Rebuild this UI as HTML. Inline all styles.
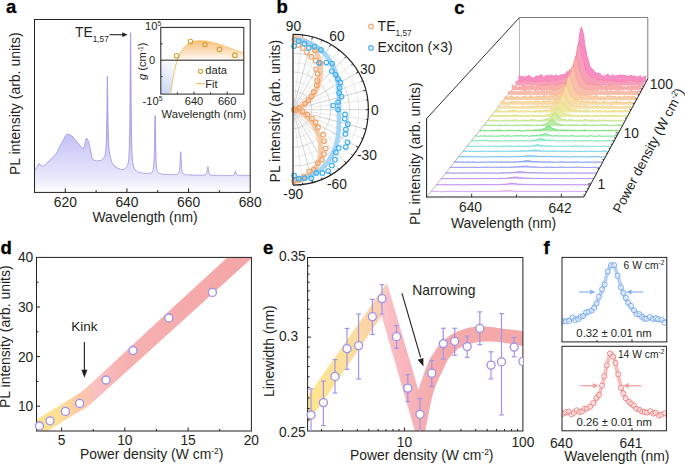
<!DOCTYPE html>
<html><head><meta charset="utf-8"><style>
html,body{margin:0;padding:0;background:#fff;}
svg{display:block;}
text{font-family:"Liberation Sans", sans-serif;}
</style></head><body>
<svg width="685" height="465" viewBox="0 0 685 465" font-family='"Liberation Sans", sans-serif'>
<rect width="685" height="465" fill="#fff"/>
<defs>
<linearGradient id="ga" x1="0" y1="128" x2="0" y2="193" gradientUnits="userSpaceOnUse"><stop offset="0" stop-color="#bebbf5"/><stop offset="0.75" stop-color="#e9e8fb"/><stop offset="1" stop-color="#ffffff"/></linearGradient>
<linearGradient id="gorange" x1="0" y1="39" x2="0" y2="60" gradientUnits="userSpaceOnUse"><stop offset="0" stop-color="#f8bd72"/><stop offset="0.55" stop-color="#fbdcb8"/><stop offset="1" stop-color="#fffaf4"/></linearGradient>
<linearGradient id="gblue" x1="160" y1="94" x2="178" y2="64" gradientUnits="userSpaceOnUse"><stop offset="0" stop-color="#c2d4f5"/><stop offset="1" stop-color="#ffffff"/></linearGradient>
<linearGradient id="gd" x1="36" y1="0" x2="251" y2="0" gradientUnits="userSpaceOnUse"><stop offset="0" stop-color="#fde48c"/><stop offset="0.11" stop-color="#fde096"/><stop offset="0.2" stop-color="#fcc9a6"/><stop offset="0.28" stop-color="#fbc0c0"/><stop offset="0.4" stop-color="#f7b1b1"/><stop offset="1" stop-color="#f4a5a5"/></linearGradient>
<linearGradient id="ge1" x1="307" y1="0" x2="388" y2="0" gradientUnits="userSpaceOnUse"><stop offset="0" stop-color="#fde68e"/><stop offset="0.45" stop-color="#fde09a"/><stop offset="0.78" stop-color="#fcd4a8"/><stop offset="1" stop-color="#fbc8b6"/></linearGradient>
<linearGradient id="ge2" x1="382" y1="0" x2="523" y2="0" gradientUnits="userSpaceOnUse"><stop offset="0" stop-color="#fbc4ca"/><stop offset="0.15" stop-color="#f8b6bc"/><stop offset="0.35" stop-color="#f5acad"/><stop offset="1" stop-color="#f4a7a7"/></linearGradient>
<clipPath id="ca"><rect x="34.5" y="19.5" width="215.7" height="172.9"/></clipPath>
<clipPath id="cd"><rect x="36.5" y="257.5" width="214.9" height="173.5"/></clipPath>
<clipPath id="ce"><rect x="307.6" y="257.5" width="215.3" height="173.5"/></clipPath>
<clipPath id="cf1"><rect x="562" y="257.5" width="104.8" height="84.5"/></clipPath>
<clipPath id="cf2"><rect x="562" y="346.3" width="104.5" height="84.5"/></clipPath>
</defs>
<text x="6" y="13" font-size="18.5" text-anchor="start" fill="#000" font-weight="bold" stroke="#000" stroke-width="0.3">a</text>
<g clip-path="url(#ca)">
<path d="M34.4,170.88 L34.65,170.39 L34.9,170.31 L35.15,169.58 L35.4,169.47 L35.65,168.99 L35.9,168.42 L36.15,168.3 L36.4,167.63 L36.65,167.49 L36.9,166.88 L37.15,166.49 L37.4,166.26 L37.65,166.08 L37.9,165.23 L38.15,164.87 L38.4,164.68 L38.65,164.45 L38.9,163.8 L39.15,163.67 L39.4,164.25 L39.65,163.93 L39.9,164.66 L40.15,164.55 L40.4,164.7 L40.65,164.93 L40.9,165.28 L41.15,165.74 L41.4,165.48 L41.65,165.83 L41.9,165.98 L42.15,165.93 L42.4,166.15 L42.65,165.97 L42.9,166.08 L43.15,166.09 L43.4,166.17 L43.65,165.82 L43.9,165.55 L44.15,165.52 L44.4,165.24 L44.65,164.95 L44.9,165.04 L45.15,164.79 L45.4,164.31 L45.65,164.31 L45.9,164.08 L46.15,164.06 L46.4,163.72 L46.65,163.21 L46.9,163.37 L47.15,162.61 L47.4,162.54 L47.65,162.49 L47.9,161.88 L48.15,161.83 L48.4,161.31 L48.65,161.44 L48.9,161.24 L49.15,160.88 L49.4,160.81 L49.65,160.22 L49.9,160.2 L50.15,159.92 L50.4,159.7 L50.65,159.42 L50.9,159.44 L51.15,159.29 L51.4,158.8 L51.65,158.71 L51.9,158.14 L52.15,158.31 L52.4,158.07 L52.65,158.07 L52.9,157.76 L53.15,157.18 L53.4,156.95 L53.65,156.82 L53.9,156.15 L54.15,156.12 L54.4,155.65 L54.65,155.33 L54.9,155 L55.15,155.13 L55.4,154.46 L55.65,154.24 L55.9,154.03 L56.15,153.9 L56.4,152.93 L56.65,152.65 L56.9,152.21 L57.15,151.91 L57.4,151.37 L57.65,150.9 L57.9,150.05 L58.15,149.63 L58.4,149.09 L58.65,148.91 L58.9,148.45 L59.15,147.47 L59.4,146.98 L59.65,146.52 L59.9,146.02 L60.15,145.67 L60.4,145.23 L60.65,144.53 L60.9,143.88 L61.15,143.63 L61.4,143.1 L61.65,142.72 L61.9,142.45 L62.15,141.82 L62.4,141.27 L62.65,140.88 L62.9,140.46 L63.15,139.64 L63.4,139.69 L63.65,139.17 L63.9,138.78 L64.15,138.28 L64.4,137.59 L64.65,137.23 L64.9,136.74 L65.15,136.75 L65.4,136.09 L65.65,135.79 L65.9,135.56 L66.15,135.22 L66.4,135.02 L66.65,134.54 L66.9,134.2 L67.15,134.17 L67.4,134.16 L67.65,134.34 L67.9,134.16 L68.15,134.69 L68.4,134.55 L68.65,134.29 L68.9,134.37 L69.15,134.45 L69.4,134.48 L69.65,134.43 L69.9,135 L70.15,135.23 L70.4,135.05 L70.65,135.2 L70.9,135.1 L71.15,135.25 L71.4,135.54 L71.65,135.63 L71.9,136.11 L72.15,135.94 L72.4,136.14 L72.65,136.99 L72.9,137.03 L73.15,137.09 L73.4,137.62 L73.65,137.6 L73.9,138.19 L74.15,138.76 L74.4,138.98 L74.65,139.17 L74.9,139.2 L75.15,139.55 L75.4,139.73 L75.65,140.38 L75.9,140.53 L76.15,140.97 L76.4,140.99 L76.65,141.21 L76.9,141.86 L77.15,142.25 L77.4,142.47 L77.65,142.73 L77.9,143.03 L78.15,143.3 L78.4,143.32 L78.65,143.83 L78.9,144.06 L79.15,144.2 L79.4,144.53 L79.65,145.02 L79.9,145.34 L80.15,145.93 L80.4,146.42 L80.65,146.45 L80.9,147.07 L81.15,147.36 L81.4,147.53 L81.65,147.38 L81.9,147.49 L82.15,147.7 L82.4,147.88 L82.65,148.08 L82.9,148.53 L83.15,148.52 L83.4,148.04 L83.65,147.39 L83.9,147.06 L84.15,146.72 L84.4,145.85 L84.65,145.27 L84.9,144.17 L85.15,142.84 L85.4,141.57 L85.65,140.5 L85.9,139.64 L86.15,139.32 L86.4,138.36 L86.65,138.18 L86.9,138.7 L87.15,138.77 L87.4,139.19 L87.65,139.93 L87.9,140.25 L88.15,140.44 L88.4,140.93 L88.65,141.46 L88.9,142.43 L89.15,143.33 L89.4,144.18 L89.65,145.84 L89.9,147.18 L90.15,148.23 L90.4,149.29 L90.65,150.71 L90.9,151.79 L91.15,153.05 L91.4,154.95 L91.65,156.09 L91.9,157.35 L92.15,158.31 L92.4,158.32 L92.65,158.89 L92.9,159.17 L93.15,159.11 L93.4,159.44 L93.65,159.77 L93.9,160.05 L94.15,160.41 L94.4,160.27 L94.65,160.42 L94.9,160.31 L95.15,160.83 L95.4,160.55 L95.65,160.67 L95.9,160.8 L96.15,161.02 L96.4,160.73 L96.65,161.04 L96.9,160.79 L97.15,160.82 L97.4,160.82 L97.65,160.52 L97.9,160.77 L98.15,160.62 L98.4,160.51 L98.65,160.99 L98.9,160.61 L99.15,160.75 L99.4,160.85 L99.65,160.69 L99.9,160.49 L100.15,160.54 L100.4,160.49 L100.65,160.56 L100.9,160.08 L101.15,160.27 L101.4,160 L101.65,159.92 L101.9,160.11 L102.15,159.77 L102.4,159.55 L102.65,159.4 L102.9,159.2 L103.15,158.62 L103.4,158.39 L103.65,157.95 L103.9,157.55 L104.15,157.21 L104.4,156.56 L104.65,156 L104.9,155.22 L105.15,154.54 L105.4,153.14 L105.65,151.52 L105.9,149.11 L106.15,145.03 L106.4,139.4 L106.65,129.96 L106.9,113.71 L107.15,90.33 L107.4,76.29 L107.65,90.25 L107.9,112.74 L108.15,128.78 L108.4,138.09 L108.65,144.01 L108.9,147.5 L109.15,150.14 L109.4,151.78 L109.65,153.74 L109.9,155.04 L110.15,155.85 L110.4,157.28 L110.65,158.3 L110.9,158.82 L111.15,160.17 L111.4,160.71 L111.65,161.59 L111.9,162.7 L112.15,163.14 L112.4,163.09 L112.65,163.58 L112.9,163.96 L113.15,164.17 L113.4,164.39 L113.65,164.76 L113.9,165.29 L114.15,165.16 L114.4,165.76 L114.65,165.97 L114.9,165.99 L115.15,166.4 L115.4,166.76 L115.65,166.88 L115.9,166.79 L116.15,167.52 L116.4,167.58 L116.65,167.87 L116.9,167.52 L117.15,167.79 L117.4,167.82 L117.65,168.44 L117.9,168.3 L118.15,168.33 L118.4,168.59 L118.65,168.96 L118.9,168.98 L119.15,168.72 L119.4,168.74 L119.65,169.27 L119.9,169.14 L120.15,169.29 L120.4,168.99 L120.65,169.04 L120.9,169.48 L121.15,169.36 L121.4,169.16 L121.65,169.69 L121.9,169.51 L122.15,169.62 L122.4,169.19 L122.65,169.65 L122.9,169.17 L123.15,169.63 L123.4,169.37 L123.65,169.28 L123.9,169.38 L124.15,169.51 L124.4,168.99 L124.65,168.77 L124.9,168.85 L125.15,168.51 L125.4,168.25 L125.65,168.08 L125.9,167.78 L126.15,167.61 L126.4,167.37 L126.65,167.02 L126.9,166.88 L127.15,166.16 L127.4,165.77 L127.65,164.92 L127.9,164.18 L128.15,162.88 L128.4,161.54 L128.65,159.36 L128.9,156.89 L129.15,152.53 L129.4,145.74 L129.65,135.23 L129.9,117.43 L130.15,86.84 L130.4,47.89 L130.65,32.65 L130.9,63.44 L131.15,101.28 L131.4,125.93 L131.65,140.73 L131.9,149.72 L132.15,155.51 L132.4,158.86 L132.65,161.75 L132.9,163.55 L133.15,164.91 L133.4,165.85 L133.65,166.67 L133.9,167.18 L134.15,167.8 L134.4,168.26 L134.65,169.09 L134.9,169.18 L135.15,169.45 L135.4,169.69 L135.65,170.41 L135.9,170.67 L136.15,170.77 L136.4,170.75 L136.65,170.91 L136.9,171.13 L137.15,171.4 L137.4,171.38 L137.65,171.71 L137.9,171.74 L138.15,172.28 L138.4,172.37 L138.65,172.2 L138.9,172.1 L139.15,172.61 L139.4,172.29 L139.65,172.39 L139.9,172.24 L140.15,172.54 L140.4,172.66 L140.65,172.74 L140.9,172.62 L141.15,172.86 L141.4,172.62 L141.65,172.83 L141.9,172.78 L142.15,173 L142.4,172.81 L142.65,172.82 L142.9,173.02 L143.15,172.99 L143.4,173.23 L143.65,173.21 L143.9,173.36 L144.15,173.33 L144.4,173.38 L144.65,173.49 L144.9,173.21 L145.15,173.19 L145.4,173.6 L145.65,173.11 L145.9,173.46 L146.15,173.43 L146.4,173.07 L146.65,173.56 L146.9,173.59 L147.15,173.44 L147.4,173.51 L147.65,173.55 L147.9,173.15 L148.15,173.37 L148.4,173.35 L148.65,173.54 L148.9,173.5 L149.15,173.5 L149.4,173.33 L149.65,173.48 L149.9,173.31 L150.15,173.27 L150.4,172.93 L150.65,172.74 L150.9,172.7 L151.15,172.73 L151.4,172.44 L151.65,172.7 L151.9,172.32 L152.15,172.09 L152.4,171.73 L152.65,171.3 L152.9,170.56 L153.15,169.4 L153.4,168.65 L153.65,166.81 L153.9,163.85 L154.15,159.32 L154.4,151.7 L154.65,138.53 L154.9,122.18 L155.15,115.5 L155.4,128.45 L155.65,144.55 L155.9,155.4 L156.15,161.34 L156.4,165.42 L156.65,167.93 L156.9,169.22 L157.15,170.24 L157.4,171.08 L157.65,171.79 L157.9,172.28 L158.15,172.54 L158.4,172.83 L158.65,172.71 L158.9,172.94 L159.15,173.16 L159.4,173.59 L159.65,173.44 L159.9,173.69 L160.15,173.44 L160.4,173.54 L160.65,173.73 L160.9,174.03 L161.15,174.09 L161.4,174.12 L161.65,173.93 L161.9,174.11 L162.15,174.11 L162.4,174.14 L162.65,173.96 L162.9,174.45 L163.15,174.06 L163.4,174.55 L163.65,174.55 L163.9,174.02 L164.15,174.3 L164.4,174.54 L164.65,174.65 L164.9,174.35 L165.15,174.26 L165.4,174.24 L165.65,174.7 L165.9,174.27 L166.15,174.5 L166.4,174.25 L166.65,174.5 L166.9,174.76 L167.15,174.28 L167.4,174.71 L167.65,174.53 L167.9,174.77 L168.15,174.67 L168.4,174.4 L168.65,174.8 L168.9,174.57 L169.15,174.3 L169.4,174.29 L169.65,174.59 L169.9,174.58 L170.15,174.49 L170.4,174.4 L170.65,174.53 L170.9,174.51 L171.15,174.83 L171.4,174.33 L171.65,174.78 L171.9,174.84 L172.15,174.4 L172.4,174.89 L172.65,174.76 L172.9,174.87 L173.15,174.5 L173.4,174.55 L173.65,174.56 L173.9,174.91 L174.15,174.66 L174.4,174.51 L174.65,174.54 L174.9,174.44 L175.15,174.29 L175.4,174.3 L175.65,174.72 L175.9,174.36 L176.15,174.71 L176.4,174.26 L176.65,174.22 L176.9,174.31 L177.15,174.04 L177.4,174.06 L177.65,174.29 L177.9,174.1 L178.15,173.86 L178.4,173.49 L178.65,173.31 L178.9,172.84 L179.15,171.9 L179.4,170.95 L179.65,168.9 L179.9,166.66 L180.15,162.2 L180.4,156.38 L180.65,151.81 L180.9,153.78 L181.15,159.72 L181.4,165.32 L181.65,168.08 L181.9,170.29 L182.15,171.48 L182.4,172.28 L182.65,173.12 L182.9,173.67 L183.15,173.55 L183.4,174.01 L183.65,173.97 L183.9,174.27 L184.15,174.28 L184.4,174.24 L184.65,174.31 L184.9,174.41 L185.15,174.88 L185.4,174.68 L185.65,174.56 L185.9,175 L186.15,175.09 L186.4,174.79 L186.65,174.62 L186.9,174.68 L187.15,174.64 L187.4,174.81 L187.65,174.67 L187.9,174.78 L188.15,174.8 L188.4,175 L188.65,175.2 L188.9,175.13 L189.15,174.94 L189.4,174.95 L189.65,175.03 L189.9,174.95 L190.15,174.93 L190.4,174.78 L190.65,174.91 L190.9,175.33 L191.15,174.84 L191.4,175.07 L191.65,175.15 L191.9,175.3 L192.15,174.92 L192.4,174.95 L192.65,174.95 L192.9,175.04 L193.15,175.07 L193.4,175.38 L193.65,175.33 L193.9,175.35 L194.15,174.84 L194.4,174.85 L194.65,175.26 L194.9,175.38 L195.15,175.13 L195.4,175.2 L195.65,174.85 L195.9,175.09 L196.15,175.41 L196.4,175.36 L196.65,175.38 L196.9,175.45 L197.15,175.02 L197.4,174.94 L197.65,174.97 L197.9,175.19 L198.15,175.29 L198.4,175.45 L198.65,175.32 L198.9,175.27 L199.15,175.34 L199.4,175.16 L199.65,175.22 L199.9,174.91 L200.15,175.36 L200.4,175.02 L200.65,175.44 L200.9,175.27 L201.15,175.06 L201.4,174.95 L201.65,175.02 L201.9,175.24 L202.15,175.27 L202.4,174.91 L202.65,174.88 L202.9,175.14 L203.15,175.16 L203.4,175.02 L203.65,174.9 L203.9,175.11 L204.15,174.72 L204.4,174.86 L204.65,174.9 L204.9,175.14 L205.15,174.88 L205.4,174.92 L205.65,174.54 L205.9,174.22 L206.15,173.98 L206.4,174.05 L206.65,173.38 L206.9,172.36 L207.15,171 L207.4,169.58 L207.65,167.73 L207.9,166.6 L208.15,167.49 L208.4,169.69 L208.65,171.56 L208.9,172.33 L209.15,173.01 L209.4,173.71 L209.65,174.12 L209.9,174.53 L210.15,174.42 L210.4,174.92 L210.65,174.99 L210.9,174.94 L211.15,174.82 L211.4,175.33 L211.65,174.98 L211.9,175.33 L212.15,175 L212.4,175.02 L212.65,175.37 L212.9,175.11 L213.15,175.52 L213.4,175.27 L213.65,175.1 L213.9,175.13 L214.15,175.26 L214.4,175.42 L214.65,175.6 L214.9,175.13 L215.15,175.28 L215.4,175.18 L215.65,175.65 L215.9,175.15 L216.15,175.11 L216.4,175.12 L216.65,175.32 L216.9,175.63 L217.15,175.63 L217.4,175.54 L217.65,175.71 L217.9,175.67 L218.15,175.31 L218.4,175.23 L218.65,175.69 L218.9,175.58 L219.15,175.15 L219.4,175.53 L219.65,175.37 L219.9,175.37 L220.15,175.35 L220.4,175.25 L220.65,175.15 L220.9,175.32 L221.15,175.36 L221.4,175.73 L221.65,175.23 L221.9,175.74 L222.15,175.28 L222.4,175.37 L222.65,175.65 L222.9,175.65 L223.15,175.42 L223.4,175.19 L223.65,175.45 L223.9,175.39 L224.15,175.72 L224.4,175.28 L224.65,175.39 L224.9,175.71 L225.15,175.19 L225.4,175.41 L225.65,175.66 L225.9,175.63 L226.15,175.19 L226.4,175.19 L226.65,175.21 L226.9,175.72 L227.15,175.32 L227.4,175.61 L227.65,175.7 L227.9,175.37 L228.15,175.33 L228.4,175.74 L228.65,175.53 L228.9,175.31 L229.15,175.58 L229.4,175.34 L229.65,175.31 L229.9,175.14 L230.15,175.59 L230.4,175.68 L230.65,175.5 L230.9,175.68 L231.15,175.12 L231.4,175.23 L231.65,175.36 L231.9,175.63 L232.15,175.6 L232.4,175.24 L232.65,175.12 L232.9,175.18 L233.15,175.15 L233.4,175.33 L233.65,174.77 L233.9,174.99 L234.15,174.72 L234.4,174.43 L234.65,173.88 L234.9,173 L235.15,171.83 L235.4,171.02 L235.65,171.15 L235.9,172.31 L236.15,172.87 L236.4,173.66 L236.65,174.47 L236.9,174.49 L237.15,174.59 L237.4,174.72 L237.65,175.14 L237.9,175.09 L238.15,175.54 L238.4,175.53 L238.65,175.63 L238.9,175.22 L239.15,175.14 L239.4,175.17 L239.65,175.42 L239.9,175.57 L240.15,175.42 L240.4,175.3 L240.65,175.42 L240.9,175.55 L241.15,175.59 L241.4,175.64 L241.65,175.71 L241.9,175.6 L242.15,175.28 L242.4,175.72 L242.65,175.4 L242.9,175.56 L243.15,175.45 L243.4,175.67 L243.65,175.35 L243.9,175.38 L244.15,175.38 L244.4,175.33 L244.65,175.77 L244.9,175.59 L245.15,175.44 L245.4,175.49 L245.65,175.85 L245.9,175.56 L246.15,175.39 L246.4,175.74 L246.65,175.65 L246.9,175.85 L247.15,175.32 L247.4,175.55 L247.65,175.76 L247.9,175.77 L248.15,175.82 L248.4,175.29 L248.65,175.45 L248.9,175.34 L249.15,175.39 L249.4,175.86 L249.65,175.63 L249.9,175.84 L250.15,175.5 L250.4,175.8 L250.6,193 L34.4,193 Z" fill="url(#ga)" stroke="none" stroke-width="1"/>
<path d="M34.4,170.88 L34.65,170.39 L34.9,170.31 L35.15,169.58 L35.4,169.47 L35.65,168.99 L35.9,168.42 L36.15,168.3 L36.4,167.63 L36.65,167.49 L36.9,166.88 L37.15,166.49 L37.4,166.26 L37.65,166.08 L37.9,165.23 L38.15,164.87 L38.4,164.68 L38.65,164.45 L38.9,163.8 L39.15,163.67 L39.4,164.25 L39.65,163.93 L39.9,164.66 L40.15,164.55 L40.4,164.7 L40.65,164.93 L40.9,165.28 L41.15,165.74 L41.4,165.48 L41.65,165.83 L41.9,165.98 L42.15,165.93 L42.4,166.15 L42.65,165.97 L42.9,166.08 L43.15,166.09 L43.4,166.17 L43.65,165.82 L43.9,165.55 L44.15,165.52 L44.4,165.24 L44.65,164.95 L44.9,165.04 L45.15,164.79 L45.4,164.31 L45.65,164.31 L45.9,164.08 L46.15,164.06 L46.4,163.72 L46.65,163.21 L46.9,163.37 L47.15,162.61 L47.4,162.54 L47.65,162.49 L47.9,161.88 L48.15,161.83 L48.4,161.31 L48.65,161.44 L48.9,161.24 L49.15,160.88 L49.4,160.81 L49.65,160.22 L49.9,160.2 L50.15,159.92 L50.4,159.7 L50.65,159.42 L50.9,159.44 L51.15,159.29 L51.4,158.8 L51.65,158.71 L51.9,158.14 L52.15,158.31 L52.4,158.07 L52.65,158.07 L52.9,157.76 L53.15,157.18 L53.4,156.95 L53.65,156.82 L53.9,156.15 L54.15,156.12 L54.4,155.65 L54.65,155.33 L54.9,155 L55.15,155.13 L55.4,154.46 L55.65,154.24 L55.9,154.03 L56.15,153.9 L56.4,152.93 L56.65,152.65 L56.9,152.21 L57.15,151.91 L57.4,151.37 L57.65,150.9 L57.9,150.05 L58.15,149.63 L58.4,149.09 L58.65,148.91 L58.9,148.45 L59.15,147.47 L59.4,146.98 L59.65,146.52 L59.9,146.02 L60.15,145.67 L60.4,145.23 L60.65,144.53 L60.9,143.88 L61.15,143.63 L61.4,143.1 L61.65,142.72 L61.9,142.45 L62.15,141.82 L62.4,141.27 L62.65,140.88 L62.9,140.46 L63.15,139.64 L63.4,139.69 L63.65,139.17 L63.9,138.78 L64.15,138.28 L64.4,137.59 L64.65,137.23 L64.9,136.74 L65.15,136.75 L65.4,136.09 L65.65,135.79 L65.9,135.56 L66.15,135.22 L66.4,135.02 L66.65,134.54 L66.9,134.2 L67.15,134.17 L67.4,134.16 L67.65,134.34 L67.9,134.16 L68.15,134.69 L68.4,134.55 L68.65,134.29 L68.9,134.37 L69.15,134.45 L69.4,134.48 L69.65,134.43 L69.9,135 L70.15,135.23 L70.4,135.05 L70.65,135.2 L70.9,135.1 L71.15,135.25 L71.4,135.54 L71.65,135.63 L71.9,136.11 L72.15,135.94 L72.4,136.14 L72.65,136.99 L72.9,137.03 L73.15,137.09 L73.4,137.62 L73.65,137.6 L73.9,138.19 L74.15,138.76 L74.4,138.98 L74.65,139.17 L74.9,139.2 L75.15,139.55 L75.4,139.73 L75.65,140.38 L75.9,140.53 L76.15,140.97 L76.4,140.99 L76.65,141.21 L76.9,141.86 L77.15,142.25 L77.4,142.47 L77.65,142.73 L77.9,143.03 L78.15,143.3 L78.4,143.32 L78.65,143.83 L78.9,144.06 L79.15,144.2 L79.4,144.53 L79.65,145.02 L79.9,145.34 L80.15,145.93 L80.4,146.42 L80.65,146.45 L80.9,147.07 L81.15,147.36 L81.4,147.53 L81.65,147.38 L81.9,147.49 L82.15,147.7 L82.4,147.88 L82.65,148.08 L82.9,148.53 L83.15,148.52 L83.4,148.04 L83.65,147.39 L83.9,147.06 L84.15,146.72 L84.4,145.85 L84.65,145.27 L84.9,144.17 L85.15,142.84 L85.4,141.57 L85.65,140.5 L85.9,139.64 L86.15,139.32 L86.4,138.36 L86.65,138.18 L86.9,138.7 L87.15,138.77 L87.4,139.19 L87.65,139.93 L87.9,140.25 L88.15,140.44 L88.4,140.93 L88.65,141.46 L88.9,142.43 L89.15,143.33 L89.4,144.18 L89.65,145.84 L89.9,147.18 L90.15,148.23 L90.4,149.29 L90.65,150.71 L90.9,151.79 L91.15,153.05 L91.4,154.95 L91.65,156.09 L91.9,157.35 L92.15,158.31 L92.4,158.32 L92.65,158.89 L92.9,159.17 L93.15,159.11 L93.4,159.44 L93.65,159.77 L93.9,160.05 L94.15,160.41 L94.4,160.27 L94.65,160.42 L94.9,160.31 L95.15,160.83 L95.4,160.55 L95.65,160.67 L95.9,160.8 L96.15,161.02 L96.4,160.73 L96.65,161.04 L96.9,160.79 L97.15,160.82 L97.4,160.82 L97.65,160.52 L97.9,160.77 L98.15,160.62 L98.4,160.51 L98.65,160.99 L98.9,160.61 L99.15,160.75 L99.4,160.85 L99.65,160.69 L99.9,160.49 L100.15,160.54 L100.4,160.49 L100.65,160.56 L100.9,160.08 L101.15,160.27 L101.4,160 L101.65,159.92 L101.9,160.11 L102.15,159.77 L102.4,159.55 L102.65,159.4 L102.9,159.2 L103.15,158.62 L103.4,158.39 L103.65,157.95 L103.9,157.55 L104.15,157.21 L104.4,156.56 L104.65,156 L104.9,155.22 L105.15,154.54 L105.4,153.14 L105.65,151.52 L105.9,149.11 L106.15,145.03 L106.4,139.4 L106.65,129.96 L106.9,113.71 L107.15,90.33 L107.4,76.29 L107.65,90.25 L107.9,112.74 L108.15,128.78 L108.4,138.09 L108.65,144.01 L108.9,147.5 L109.15,150.14 L109.4,151.78 L109.65,153.74 L109.9,155.04 L110.15,155.85 L110.4,157.28 L110.65,158.3 L110.9,158.82 L111.15,160.17 L111.4,160.71 L111.65,161.59 L111.9,162.7 L112.15,163.14 L112.4,163.09 L112.65,163.58 L112.9,163.96 L113.15,164.17 L113.4,164.39 L113.65,164.76 L113.9,165.29 L114.15,165.16 L114.4,165.76 L114.65,165.97 L114.9,165.99 L115.15,166.4 L115.4,166.76 L115.65,166.88 L115.9,166.79 L116.15,167.52 L116.4,167.58 L116.65,167.87 L116.9,167.52 L117.15,167.79 L117.4,167.82 L117.65,168.44 L117.9,168.3 L118.15,168.33 L118.4,168.59 L118.65,168.96 L118.9,168.98 L119.15,168.72 L119.4,168.74 L119.65,169.27 L119.9,169.14 L120.15,169.29 L120.4,168.99 L120.65,169.04 L120.9,169.48 L121.15,169.36 L121.4,169.16 L121.65,169.69 L121.9,169.51 L122.15,169.62 L122.4,169.19 L122.65,169.65 L122.9,169.17 L123.15,169.63 L123.4,169.37 L123.65,169.28 L123.9,169.38 L124.15,169.51 L124.4,168.99 L124.65,168.77 L124.9,168.85 L125.15,168.51 L125.4,168.25 L125.65,168.08 L125.9,167.78 L126.15,167.61 L126.4,167.37 L126.65,167.02 L126.9,166.88 L127.15,166.16 L127.4,165.77 L127.65,164.92 L127.9,164.18 L128.15,162.88 L128.4,161.54 L128.65,159.36 L128.9,156.89 L129.15,152.53 L129.4,145.74 L129.65,135.23 L129.9,117.43 L130.15,86.84 L130.4,47.89 L130.65,32.65 L130.9,63.44 L131.15,101.28 L131.4,125.93 L131.65,140.73 L131.9,149.72 L132.15,155.51 L132.4,158.86 L132.65,161.75 L132.9,163.55 L133.15,164.91 L133.4,165.85 L133.65,166.67 L133.9,167.18 L134.15,167.8 L134.4,168.26 L134.65,169.09 L134.9,169.18 L135.15,169.45 L135.4,169.69 L135.65,170.41 L135.9,170.67 L136.15,170.77 L136.4,170.75 L136.65,170.91 L136.9,171.13 L137.15,171.4 L137.4,171.38 L137.65,171.71 L137.9,171.74 L138.15,172.28 L138.4,172.37 L138.65,172.2 L138.9,172.1 L139.15,172.61 L139.4,172.29 L139.65,172.39 L139.9,172.24 L140.15,172.54 L140.4,172.66 L140.65,172.74 L140.9,172.62 L141.15,172.86 L141.4,172.62 L141.65,172.83 L141.9,172.78 L142.15,173 L142.4,172.81 L142.65,172.82 L142.9,173.02 L143.15,172.99 L143.4,173.23 L143.65,173.21 L143.9,173.36 L144.15,173.33 L144.4,173.38 L144.65,173.49 L144.9,173.21 L145.15,173.19 L145.4,173.6 L145.65,173.11 L145.9,173.46 L146.15,173.43 L146.4,173.07 L146.65,173.56 L146.9,173.59 L147.15,173.44 L147.4,173.51 L147.65,173.55 L147.9,173.15 L148.15,173.37 L148.4,173.35 L148.65,173.54 L148.9,173.5 L149.15,173.5 L149.4,173.33 L149.65,173.48 L149.9,173.31 L150.15,173.27 L150.4,172.93 L150.65,172.74 L150.9,172.7 L151.15,172.73 L151.4,172.44 L151.65,172.7 L151.9,172.32 L152.15,172.09 L152.4,171.73 L152.65,171.3 L152.9,170.56 L153.15,169.4 L153.4,168.65 L153.65,166.81 L153.9,163.85 L154.15,159.32 L154.4,151.7 L154.65,138.53 L154.9,122.18 L155.15,115.5 L155.4,128.45 L155.65,144.55 L155.9,155.4 L156.15,161.34 L156.4,165.42 L156.65,167.93 L156.9,169.22 L157.15,170.24 L157.4,171.08 L157.65,171.79 L157.9,172.28 L158.15,172.54 L158.4,172.83 L158.65,172.71 L158.9,172.94 L159.15,173.16 L159.4,173.59 L159.65,173.44 L159.9,173.69 L160.15,173.44 L160.4,173.54 L160.65,173.73 L160.9,174.03 L161.15,174.09 L161.4,174.12 L161.65,173.93 L161.9,174.11 L162.15,174.11 L162.4,174.14 L162.65,173.96 L162.9,174.45 L163.15,174.06 L163.4,174.55 L163.65,174.55 L163.9,174.02 L164.15,174.3 L164.4,174.54 L164.65,174.65 L164.9,174.35 L165.15,174.26 L165.4,174.24 L165.65,174.7 L165.9,174.27 L166.15,174.5 L166.4,174.25 L166.65,174.5 L166.9,174.76 L167.15,174.28 L167.4,174.71 L167.65,174.53 L167.9,174.77 L168.15,174.67 L168.4,174.4 L168.65,174.8 L168.9,174.57 L169.15,174.3 L169.4,174.29 L169.65,174.59 L169.9,174.58 L170.15,174.49 L170.4,174.4 L170.65,174.53 L170.9,174.51 L171.15,174.83 L171.4,174.33 L171.65,174.78 L171.9,174.84 L172.15,174.4 L172.4,174.89 L172.65,174.76 L172.9,174.87 L173.15,174.5 L173.4,174.55 L173.65,174.56 L173.9,174.91 L174.15,174.66 L174.4,174.51 L174.65,174.54 L174.9,174.44 L175.15,174.29 L175.4,174.3 L175.65,174.72 L175.9,174.36 L176.15,174.71 L176.4,174.26 L176.65,174.22 L176.9,174.31 L177.15,174.04 L177.4,174.06 L177.65,174.29 L177.9,174.1 L178.15,173.86 L178.4,173.49 L178.65,173.31 L178.9,172.84 L179.15,171.9 L179.4,170.95 L179.65,168.9 L179.9,166.66 L180.15,162.2 L180.4,156.38 L180.65,151.81 L180.9,153.78 L181.15,159.72 L181.4,165.32 L181.65,168.08 L181.9,170.29 L182.15,171.48 L182.4,172.28 L182.65,173.12 L182.9,173.67 L183.15,173.55 L183.4,174.01 L183.65,173.97 L183.9,174.27 L184.15,174.28 L184.4,174.24 L184.65,174.31 L184.9,174.41 L185.15,174.88 L185.4,174.68 L185.65,174.56 L185.9,175 L186.15,175.09 L186.4,174.79 L186.65,174.62 L186.9,174.68 L187.15,174.64 L187.4,174.81 L187.65,174.67 L187.9,174.78 L188.15,174.8 L188.4,175 L188.65,175.2 L188.9,175.13 L189.15,174.94 L189.4,174.95 L189.65,175.03 L189.9,174.95 L190.15,174.93 L190.4,174.78 L190.65,174.91 L190.9,175.33 L191.15,174.84 L191.4,175.07 L191.65,175.15 L191.9,175.3 L192.15,174.92 L192.4,174.95 L192.65,174.95 L192.9,175.04 L193.15,175.07 L193.4,175.38 L193.65,175.33 L193.9,175.35 L194.15,174.84 L194.4,174.85 L194.65,175.26 L194.9,175.38 L195.15,175.13 L195.4,175.2 L195.65,174.85 L195.9,175.09 L196.15,175.41 L196.4,175.36 L196.65,175.38 L196.9,175.45 L197.15,175.02 L197.4,174.94 L197.65,174.97 L197.9,175.19 L198.15,175.29 L198.4,175.45 L198.65,175.32 L198.9,175.27 L199.15,175.34 L199.4,175.16 L199.65,175.22 L199.9,174.91 L200.15,175.36 L200.4,175.02 L200.65,175.44 L200.9,175.27 L201.15,175.06 L201.4,174.95 L201.65,175.02 L201.9,175.24 L202.15,175.27 L202.4,174.91 L202.65,174.88 L202.9,175.14 L203.15,175.16 L203.4,175.02 L203.65,174.9 L203.9,175.11 L204.15,174.72 L204.4,174.86 L204.65,174.9 L204.9,175.14 L205.15,174.88 L205.4,174.92 L205.65,174.54 L205.9,174.22 L206.15,173.98 L206.4,174.05 L206.65,173.38 L206.9,172.36 L207.15,171 L207.4,169.58 L207.65,167.73 L207.9,166.6 L208.15,167.49 L208.4,169.69 L208.65,171.56 L208.9,172.33 L209.15,173.01 L209.4,173.71 L209.65,174.12 L209.9,174.53 L210.15,174.42 L210.4,174.92 L210.65,174.99 L210.9,174.94 L211.15,174.82 L211.4,175.33 L211.65,174.98 L211.9,175.33 L212.15,175 L212.4,175.02 L212.65,175.37 L212.9,175.11 L213.15,175.52 L213.4,175.27 L213.65,175.1 L213.9,175.13 L214.15,175.26 L214.4,175.42 L214.65,175.6 L214.9,175.13 L215.15,175.28 L215.4,175.18 L215.65,175.65 L215.9,175.15 L216.15,175.11 L216.4,175.12 L216.65,175.32 L216.9,175.63 L217.15,175.63 L217.4,175.54 L217.65,175.71 L217.9,175.67 L218.15,175.31 L218.4,175.23 L218.65,175.69 L218.9,175.58 L219.15,175.15 L219.4,175.53 L219.65,175.37 L219.9,175.37 L220.15,175.35 L220.4,175.25 L220.65,175.15 L220.9,175.32 L221.15,175.36 L221.4,175.73 L221.65,175.23 L221.9,175.74 L222.15,175.28 L222.4,175.37 L222.65,175.65 L222.9,175.65 L223.15,175.42 L223.4,175.19 L223.65,175.45 L223.9,175.39 L224.15,175.72 L224.4,175.28 L224.65,175.39 L224.9,175.71 L225.15,175.19 L225.4,175.41 L225.65,175.66 L225.9,175.63 L226.15,175.19 L226.4,175.19 L226.65,175.21 L226.9,175.72 L227.15,175.32 L227.4,175.61 L227.65,175.7 L227.9,175.37 L228.15,175.33 L228.4,175.74 L228.65,175.53 L228.9,175.31 L229.15,175.58 L229.4,175.34 L229.65,175.31 L229.9,175.14 L230.15,175.59 L230.4,175.68 L230.65,175.5 L230.9,175.68 L231.15,175.12 L231.4,175.23 L231.65,175.36 L231.9,175.63 L232.15,175.6 L232.4,175.24 L232.65,175.12 L232.9,175.18 L233.15,175.15 L233.4,175.33 L233.65,174.77 L233.9,174.99 L234.15,174.72 L234.4,174.43 L234.65,173.88 L234.9,173 L235.15,171.83 L235.4,171.02 L235.65,171.15 L235.9,172.31 L236.15,172.87 L236.4,173.66 L236.65,174.47 L236.9,174.49 L237.15,174.59 L237.4,174.72 L237.65,175.14 L237.9,175.09 L238.15,175.54 L238.4,175.53 L238.65,175.63 L238.9,175.22 L239.15,175.14 L239.4,175.17 L239.65,175.42 L239.9,175.57 L240.15,175.42 L240.4,175.3 L240.65,175.42 L240.9,175.55 L241.15,175.59 L241.4,175.64 L241.65,175.71 L241.9,175.6 L242.15,175.28 L242.4,175.72 L242.65,175.4 L242.9,175.56 L243.15,175.45 L243.4,175.67 L243.65,175.35 L243.9,175.38 L244.15,175.38 L244.4,175.33 L244.65,175.77 L244.9,175.59 L245.15,175.44 L245.4,175.49 L245.65,175.85 L245.9,175.56 L246.15,175.39 L246.4,175.74 L246.65,175.65 L246.9,175.85 L247.15,175.32 L247.4,175.55 L247.65,175.76 L247.9,175.77 L248.15,175.82 L248.4,175.29 L248.65,175.45 L248.9,175.34 L249.15,175.39 L249.4,175.86 L249.65,175.63 L249.9,175.84 L250.15,175.5 L250.4,175.8" fill="none" stroke="#a49ae4" stroke-width="0.9" stroke-linejoin="round"/>
</g>
<rect x="34.5" y="19.5" width="215.7" height="172.9" fill="none" stroke="#231f20" stroke-width="1"/>
<line x1="65.31" y1="192.4" x2="65.31" y2="188.4" stroke="#231f20" stroke-width="1"/>
<line x1="96.13" y1="192.4" x2="96.13" y2="190.2" stroke="#231f20" stroke-width="1"/>
<line x1="126.94" y1="192.4" x2="126.94" y2="188.4" stroke="#231f20" stroke-width="1"/>
<line x1="157.76" y1="192.4" x2="157.76" y2="190.2" stroke="#231f20" stroke-width="1"/>
<line x1="188.57" y1="192.4" x2="188.57" y2="188.4" stroke="#231f20" stroke-width="1"/>
<line x1="219.39" y1="192.4" x2="219.39" y2="190.2" stroke="#231f20" stroke-width="1"/>
<text x="65.31" y="206.8" font-size="13.8" text-anchor="middle" fill="#231f20">620</text>
<text x="126.94" y="206.8" font-size="13.8" text-anchor="middle" fill="#231f20">640</text>
<text x="188.57" y="206.8" font-size="13.8" text-anchor="middle" fill="#231f20">660</text>
<text x="250.2" y="206.8" font-size="13.8" text-anchor="middle" fill="#231f20">680</text>
<text x="145" y="222.1" font-size="13.9" text-anchor="middle" fill="#231f20">Wavelength (nm)</text>
<text x="0" y="0" font-size="14" text-anchor="middle" fill="#231f20" transform="translate(20.0,103.7) rotate(-90)">PL intensity (arb. units)</text>
<text x="75" y="37" font-size="13.8" text-anchor="start" fill="#231f20">TE<tspan font-size="8.3" dy="5.0">1,57</tspan></text>
<line x1="109.5" y1="34.7" x2="123.5" y2="34.7" stroke="#231f20" stroke-width="1.1"/>
<path d="M127.6,34.7 L122.3,32.3 L122.3,37.1 Z" fill="#231f20" stroke="none" stroke-width="1"/>
<rect x="160.8" y="27.4" width="83" height="66.7" fill="#fff"/>
<path d="M177.4,60.12 L177.81,58.95 L178.23,57.84 L178.65,56.8 L179.06,55.82 L179.48,54.89 L179.89,54.02 L180.31,53.19 L180.72,52.41 L181.14,51.68 L181.55,50.99 L181.97,50.34 L182.38,49.72 L182.8,49.14 L183.21,48.59 L183.62,48.07 L184.04,47.58 L184.46,47.12 L184.87,46.68 L185.29,46.27 L185.7,45.88 L186.12,45.52 L186.53,45.17 L186.95,44.85 L187.36,44.54 L187.78,44.25 L188.19,43.97 L188.61,43.72 L189.02,43.47 L189.44,43.25 L189.85,43.03 L190.27,42.83 L190.68,42.64 L191.1,42.47 L191.51,42.3 L191.93,42.15 L192.34,42 L192.75,41.87 L193.17,41.74 L193.59,41.63 L194,41.52 L194.42,41.42 L194.83,41.33 L195.25,41.25 L195.66,41.17 L196.08,41.1 L196.49,41.04 L196.91,40.99 L197.32,40.94 L197.74,40.9 L198.15,40.86 L198.56,40.83 L198.98,40.81 L199.4,40.79 L199.81,40.78 L200.23,40.77 L200.64,40.77 L201.06,40.77 L201.47,40.78 L201.89,40.79 L202.3,40.81 L202.72,40.83 L203.13,40.86 L203.55,40.89 L203.96,40.92 L204.38,40.96 L204.79,41 L205.21,41.05 L205.62,41.1 L206.04,41.15 L206.45,41.21 L206.87,41.27 L207.28,41.34 L207.7,41.41 L208.11,41.48 L208.53,41.55 L208.94,41.63 L209.36,41.71 L209.77,41.79 L210.19,41.88 L210.6,41.97 L211.02,42.06 L211.43,42.16 L211.85,42.25 L212.26,42.35 L212.68,42.46 L213.09,42.56 L213.5,42.67 L213.92,42.78 L214.34,42.89 L214.75,43.01 L215.17,43.12 L215.58,43.24 L216,43.36 L216.41,43.49 L216.83,43.61 L217.24,43.74 L217.66,43.86 L218.07,43.99 L218.49,44.13 L218.9,44.26 L219.31,44.39 L219.73,44.53 L220.15,44.67 L220.56,44.81 L220.98,44.95 L221.39,45.09 L221.81,45.23 L222.22,45.37 L222.64,45.52 L223.05,45.66 L223.47,45.81 L223.88,45.95 L224.3,46.1 L224.71,46.25 L225.12,46.4 L225.54,46.55 L225.96,46.7 L226.37,46.85 L226.79,47 L227.2,47.15 L227.62,47.31 L228.03,47.46 L228.44,47.61 L228.86,47.76 L229.28,47.92 L229.69,48.07 L230.11,48.22 L230.52,48.38 L230.94,48.53 L231.35,48.68 L231.77,48.83 L232.18,48.99 L232.6,49.14 L233.01,49.29 L233.43,49.44 L233.84,49.59 L234.25,49.74 L234.67,49.89 L235.09,50.04 L235.5,50.19 L235.92,50.34 L236.33,50.49 L236.75,50.63 L237.16,50.78 L237.58,50.93 L237.99,51.07 L238.41,51.21 L238.82,51.36 L239.24,51.5 L239.65,51.64 L240.06,51.78 L240.48,51.92 L240.9,52.06 L241.31,52.2 L241.73,52.33 L242.14,52.47 L242.56,52.6 L242.97,52.73 L243.38,52.87 L243.8,53 L243.8,60.2 L177.4,60.2 Z" fill="url(#gorange)" stroke="none" stroke-width="1"/>
<path d="M160.8,60.2 L176.99,61.36 L176.57,62.69 L176.16,64.09 L175.74,65.58 L175.33,67.16 L174.91,68.84 L174.5,70.63 L174.08,72.52 L173.67,74.54 L173.25,76.69 L172.84,78.96 L172.42,81.39 L172.01,83.96 L171.59,86.7 L171.18,89.62 L170.76,92.72 L160.8,94.1 Z" fill="url(#gblue)" stroke="none" stroke-width="1"/>
<g clip-path="none">
<path d="M170.76,92.72 L171.18,89.62 L171.59,86.7 L172.01,83.96 L172.42,81.39 L172.84,78.96 L173.25,76.69 L173.67,74.54 L174.08,72.52 L174.5,70.63 L174.91,68.84 L175.33,67.16 L175.74,65.58 L176.16,64.09 L176.57,62.69 L176.99,61.36 L177.4,60.12 L177.81,58.95 L178.23,57.84 L178.65,56.8 L179.06,55.82 L179.48,54.89 L179.89,54.02 L180.31,53.19 L180.72,52.41 L181.14,51.68 L181.55,50.99 L181.97,50.34 L182.38,49.72 L182.8,49.14 L183.21,48.59 L183.62,48.07 L184.04,47.58 L184.46,47.12 L184.87,46.68 L185.29,46.27 L185.7,45.88 L186.12,45.52 L186.53,45.17 L186.95,44.85 L187.36,44.54 L187.78,44.25 L188.19,43.97 L188.61,43.72 L189.02,43.47 L189.44,43.25 L189.85,43.03 L190.27,42.83 L190.68,42.64 L191.1,42.47 L191.51,42.3 L191.93,42.15 L192.34,42 L192.75,41.87 L193.17,41.74 L193.59,41.63 L194,41.52 L194.42,41.42 L194.83,41.33 L195.25,41.25 L195.66,41.17 L196.08,41.1 L196.49,41.04 L196.91,40.99 L197.32,40.94 L197.74,40.9 L198.15,40.86 L198.56,40.83 L198.98,40.81 L199.4,40.79 L199.81,40.78 L200.23,40.77 L200.64,40.77 L201.06,40.77 L201.47,40.78 L201.89,40.79 L202.3,40.81 L202.72,40.83 L203.13,40.86 L203.55,40.89 L203.96,40.92 L204.38,40.96 L204.79,41 L205.21,41.05 L205.62,41.1 L206.04,41.15 L206.45,41.21 L206.87,41.27 L207.28,41.34 L207.7,41.41 L208.11,41.48 L208.53,41.55 L208.94,41.63 L209.36,41.71 L209.77,41.79 L210.19,41.88 L210.6,41.97 L211.02,42.06 L211.43,42.16 L211.85,42.25 L212.26,42.35 L212.68,42.46 L213.09,42.56 L213.5,42.67 L213.92,42.78 L214.34,42.89 L214.75,43.01 L215.17,43.12 L215.58,43.24 L216,43.36 L216.41,43.49 L216.83,43.61 L217.24,43.74 L217.66,43.86 L218.07,43.99 L218.49,44.13 L218.9,44.26 L219.31,44.39 L219.73,44.53 L220.15,44.67 L220.56,44.81 L220.98,44.95 L221.39,45.09 L221.81,45.23 L222.22,45.37 L222.64,45.52 L223.05,45.66 L223.47,45.81 L223.88,45.95 L224.3,46.1 L224.71,46.25 L225.12,46.4 L225.54,46.55 L225.96,46.7 L226.37,46.85 L226.79,47 L227.2,47.15 L227.62,47.31 L228.03,47.46 L228.44,47.61 L228.86,47.76 L229.28,47.92 L229.69,48.07 L230.11,48.22 L230.52,48.38 L230.94,48.53 L231.35,48.68 L231.77,48.83 L232.18,48.99 L232.6,49.14 L233.01,49.29 L233.43,49.44 L233.84,49.59 L234.25,49.74 L234.67,49.89 L235.09,50.04 L235.5,50.19 L235.92,50.34 L236.33,50.49 L236.75,50.63 L237.16,50.78 L237.58,50.93 L237.99,51.07 L238.41,51.21 L238.82,51.36 L239.24,51.5 L239.65,51.64 L240.06,51.78 L240.48,51.92 L240.9,52.06 L241.31,52.2 L241.73,52.33 L242.14,52.47 L242.56,52.6 L242.97,52.73 L243.38,52.87 L243.8,53" fill="none" stroke="#f6b94c" stroke-width="0.9"/>
</g>
<line x1="160.8" y1="60.2" x2="243.8" y2="60.2" stroke="#231f20" stroke-width="1"/>
<rect x="160.8" y="27.4" width="83" height="66.7" fill="none" stroke="#231f20" stroke-width="1"/>
<line x1="177.4" y1="94.1" x2="177.4" y2="92.3" stroke="#231f20" stroke-width="0.9"/>
<line x1="194" y1="94.1" x2="194" y2="91.6" stroke="#231f20" stroke-width="0.9"/>
<line x1="210.6" y1="94.1" x2="210.6" y2="92.3" stroke="#231f20" stroke-width="0.9"/>
<line x1="227.2" y1="94.1" x2="227.2" y2="91.6" stroke="#231f20" stroke-width="0.9"/>
<line x1="160.8" y1="43.8" x2="162.6" y2="43.8" stroke="#231f20" stroke-width="0.9"/>
<line x1="160.8" y1="76.6" x2="162.6" y2="76.6" stroke="#231f20" stroke-width="0.9"/>
<circle cx="176.7" cy="55.8" r="2.3" fill="none" stroke="#d2a23a" stroke-width="1.1"/>
<circle cx="190.5" cy="41.5" r="2.3" fill="none" stroke="#d2a23a" stroke-width="1.1"/>
<circle cx="205" cy="44.5" r="2.3" fill="none" stroke="#d2a23a" stroke-width="1.1"/>
<circle cx="219.5" cy="49.4" r="2.3" fill="none" stroke="#d2a23a" stroke-width="1.1"/>
<circle cx="234.8" cy="55.2" r="2.3" fill="none" stroke="#d2a23a" stroke-width="1.1"/>
<text x="161.2" y="29.6" font-size="11.1" text-anchor="end" fill="#231f20">10<tspan font-size="6.8" dy="-4.0">5</tspan></text>
<text x="155.2" y="64" font-size="11.1" text-anchor="end" fill="#231f20">0</text>
<text x="142.6" y="105.3" font-size="11.1" text-anchor="start" fill="#231f20">-10<tspan font-size="6.8" dy="-4.0">5</tspan></text>
<text x="194" y="105.3" font-size="11.1" text-anchor="middle" fill="#231f20">640</text>
<text x="227.2" y="105.3" font-size="11.1" text-anchor="middle" fill="#231f20">660</text>
<text x="203.9" y="117.9" font-size="11.2" text-anchor="middle" fill="#231f20">Wavelength (nm)</text>
<text x="0" y="0" font-size="11.2" text-anchor="middle" fill="#231f20" transform="translate(146.2,61.3) rotate(-90)"><tspan font-style="italic">g</tspan> (cm<tspan font-size="6.5" dy="-3.6">-1</tspan><tspan dy="3.6">)</tspan></text>
<circle cx="200.5" cy="71.3" r="2.1" fill="none" stroke="#d2a23a" stroke-width="1.1"/>
<text x="205.3" y="73.9" font-size="11.1" text-anchor="start" fill="#231f20">data</text>
<line x1="196.2" y1="83.6" x2="204.8" y2="83.6" stroke="#f6c470" stroke-width="1.2"/>
<text x="205.3" y="87.5" font-size="11.1" text-anchor="start" fill="#231f20">Fit</text>
<text x="276.6" y="13.1" font-size="18.5" text-anchor="start" fill="#000" font-weight="bold" stroke="#000" stroke-width="0.3">b</text>
<path d="M293,100.28 A9.43,9.43 0 0 1 293,119.12" fill="none" stroke="#dadada" stroke-width="0.55"/>
<path d="M293,90.85 A18.85,18.85 0 0 1 293,128.55" fill="none" stroke="#b8b8b8" stroke-width="0.55"/>
<path d="M293,81.42 A28.28,28.28 0 0 1 293,137.97" fill="none" stroke="#dadada" stroke-width="0.55"/>
<path d="M293,72 A37.7,37.7 0 0 1 293,147.4" fill="none" stroke="#b8b8b8" stroke-width="0.55"/>
<path d="M293,62.58 A47.12,47.12 0 0 1 293,156.82" fill="none" stroke="#dadada" stroke-width="0.55"/>
<path d="M293,53.15 A56.55,56.55 0 0 1 293,166.25" fill="none" stroke="#b8b8b8" stroke-width="0.55"/>
<path d="M293,43.72 A65.98,65.98 0 0 1 293,175.68" fill="none" stroke="#dadada" stroke-width="0.55"/>
<line x1="293" y1="109.7" x2="302.84" y2="184.45" stroke="#d4d4d4" stroke-width="0.55"/>
<line x1="293" y1="109.7" x2="312.51" y2="182.53" stroke="#b0b0b0" stroke-width="0.55"/>
<line x1="293" y1="109.7" x2="321.85" y2="179.36" stroke="#d4d4d4" stroke-width="0.55"/>
<line x1="293" y1="109.7" x2="330.7" y2="175" stroke="#b0b0b0" stroke-width="0.55"/>
<line x1="293" y1="109.7" x2="338.9" y2="169.52" stroke="#d4d4d4" stroke-width="0.55"/>
<line x1="293" y1="109.7" x2="346.32" y2="163.02" stroke="#b0b0b0" stroke-width="0.55"/>
<line x1="293" y1="109.7" x2="352.82" y2="155.6" stroke="#d4d4d4" stroke-width="0.55"/>
<line x1="293" y1="109.7" x2="358.3" y2="147.4" stroke="#b0b0b0" stroke-width="0.55"/>
<line x1="293" y1="109.7" x2="362.66" y2="138.55" stroke="#d4d4d4" stroke-width="0.55"/>
<line x1="293" y1="109.7" x2="365.83" y2="129.21" stroke="#b0b0b0" stroke-width="0.55"/>
<line x1="293" y1="109.7" x2="367.75" y2="119.54" stroke="#d4d4d4" stroke-width="0.55"/>
<line x1="293" y1="109.7" x2="368.4" y2="109.7" stroke="#b0b0b0" stroke-width="0.55"/>
<line x1="293" y1="109.7" x2="367.75" y2="99.86" stroke="#d4d4d4" stroke-width="0.55"/>
<line x1="293" y1="109.7" x2="365.83" y2="90.19" stroke="#b0b0b0" stroke-width="0.55"/>
<line x1="293" y1="109.7" x2="362.66" y2="80.85" stroke="#d4d4d4" stroke-width="0.55"/>
<line x1="293" y1="109.7" x2="358.3" y2="72" stroke="#b0b0b0" stroke-width="0.55"/>
<line x1="293" y1="109.7" x2="352.82" y2="63.8" stroke="#d4d4d4" stroke-width="0.55"/>
<line x1="293" y1="109.7" x2="346.32" y2="56.38" stroke="#b0b0b0" stroke-width="0.55"/>
<line x1="293" y1="109.7" x2="338.9" y2="49.88" stroke="#d4d4d4" stroke-width="0.55"/>
<line x1="293" y1="109.7" x2="330.7" y2="44.4" stroke="#b0b0b0" stroke-width="0.55"/>
<line x1="293" y1="109.7" x2="321.85" y2="40.04" stroke="#d4d4d4" stroke-width="0.55"/>
<line x1="293" y1="109.7" x2="312.51" y2="36.87" stroke="#b0b0b0" stroke-width="0.55"/>
<line x1="293" y1="109.7" x2="302.84" y2="34.95" stroke="#d4d4d4" stroke-width="0.55"/>
<clipPath id="cb"><rect x="293.6" y="30" width="90" height="160"/></clipPath>
<g clip-path="url(#cb)">
<path d="M293,181.7 L293.63,181.69 L294.26,181.67 L294.88,181.63 L295.51,181.57 L296.13,181.49 L296.76,181.4 L297.38,181.3 L298,181.18 L298.61,181.04 L299.23,180.88 L299.84,180.71 L300.44,180.52 L301.05,180.32 L301.64,180.1 L302.24,179.87 L302.83,179.62 L303.41,179.35 L303.99,179.07 L304.56,178.78 L305.13,178.47 L305.69,178.14 L306.24,177.8 L306.78,177.45 L307.32,177.08 L307.85,176.7 L308.38,176.3 L308.89,175.9 L309.4,175.47 L309.9,175.04 L310.39,174.59 L310.87,174.13 L311.34,173.65 L311.8,173.17 L312.25,172.67 L312.69,172.16 L313.12,171.64 L313.55,171.1 L313.96,170.56 L314.36,170.01 L314.74,169.44 L315.12,168.87 L315.49,168.29 L315.84,167.69 L316.19,167.09 L316.52,166.48 L316.84,165.86 L317.15,165.23 L317.44,164.59 L317.72,163.95 L317.99,163.3 L318.25,162.64 L318.5,161.98 L318.73,161.31 L318.95,160.63 L319.16,159.95 L319.35,159.26 L319.53,158.57 L319.7,157.87 L319.86,157.17 L320,156.47 L320.13,155.76 L320.25,155.04 L320.35,154.33 L320.44,153.61 L320.52,152.89 L320.58,152.17 L320.63,151.45 L320.67,150.73 L320.7,150 L320.71,149.28 L320.71,148.55 L320.7,147.82 L320.67,147.1 L320.64,146.38 L320.59,145.65 L320.53,144.93 L320.45,144.21 L320.37,143.49 L320.27,142.78 L320.16,142.07 L320.04,141.36 L319.91,140.65 L319.76,139.95 L319.61,139.25 L319.44,138.56 L319.26,137.87 L319.08,137.18 L318.88,136.5 L318.67,135.83 L318.46,135.16 L318.23,134.49 L317.99,133.83 L317.75,133.18 L317.49,132.54 L317.23,131.9 L316.96,131.27 L316.68,130.65 L316.39,130.03 L316.09,129.42 L315.79,128.82 L315.48,128.23 L315.16,127.65 L314.84,127.07 L314.51,126.5 L314.17,125.94 L313.83,125.39 L313.48,124.85 L313.12,124.32 L312.77,123.8 L312.4,123.29 L312.04,122.78 L311.67,122.29 L311.29,121.81 L310.91,121.33 L310.53,120.87 L310.15,120.41 L309.76,119.97 L309.37,119.54 L308.98,119.11 L308.59,118.7 L308.2,118.3 L307.8,117.9 L307.41,117.52 L307.01,117.15 L306.62,116.79 L306.22,116.44 L305.83,116.1 L305.44,115.77 L305.04,115.44 L304.65,115.13 L304.27,114.83 L303.88,114.54 L303.5,114.26 L303.12,114 L302.74,113.74 L302.37,113.48 L302,113.24 L301.63,113.01 L301.27,112.79 L300.91,112.58 L300.56,112.38 L300.22,112.18 L299.87,112 L299.54,111.82 L299.21,111.66 L298.89,111.5 L298.57,111.35 L298.26,111.21 L297.95,111.07 L297.66,110.95 L297.37,110.83 L297.09,110.72 L296.82,110.62 L296.55,110.52 L296.29,110.43 L296.04,110.35 L295.8,110.27 L295.57,110.2 L295.35,110.14 L295.14,110.08 L294.93,110.02 L294.74,109.98 L294.56,109.93 L294.38,109.89 L294.22,109.86 L294.06,109.83 L293.92,109.8 L293.78,109.78 L293.66,109.76 L293.54,109.75 L293.44,109.73 L293.35,109.72 L293.27,109.72 L293.2,109.71 L293.14,109.71 L293.09,109.7 L293.05,109.7 L293.02,109.7 L293.01,109.7 L293,109.7 L293.01,109.7 L293.02,109.7 L293.05,109.7 L293.09,109.7 L293.14,109.69 L293.2,109.69 L293.27,109.68 L293.35,109.68 L293.44,109.67 L293.54,109.65 L293.66,109.64 L293.78,109.62 L293.92,109.6 L294.06,109.57 L294.22,109.54 L294.38,109.51 L294.56,109.47 L294.74,109.42 L294.93,109.38 L295.14,109.32 L295.35,109.26 L295.57,109.2 L295.8,109.13 L296.04,109.05 L296.29,108.97 L296.55,108.88 L296.82,108.78 L297.09,108.68 L297.37,108.57 L297.66,108.45 L297.95,108.33 L298.26,108.19 L298.57,108.05 L298.89,107.9 L299.21,107.74 L299.54,107.58 L299.87,107.4 L300.22,107.22 L300.56,107.02 L300.91,106.82 L301.27,106.61 L301.63,106.39 L302,106.16 L302.37,105.92 L302.74,105.66 L303.12,105.4 L303.5,105.14 L303.88,104.86 L304.27,104.57 L304.65,104.27 L305.04,103.96 L305.44,103.63 L305.83,103.3 L306.22,102.96 L306.62,102.61 L307.01,102.25 L307.41,101.88 L307.8,101.5 L308.2,101.1 L308.59,100.7 L308.98,100.29 L309.37,99.86 L309.76,99.43 L310.15,98.99 L310.53,98.53 L310.91,98.07 L311.29,97.59 L311.67,97.11 L312.04,96.62 L312.4,96.11 L312.77,95.6 L313.12,95.08 L313.48,94.55 L313.83,94.01 L314.17,93.46 L314.51,92.9 L314.84,92.33 L315.16,91.75 L315.48,91.17 L315.79,90.58 L316.09,89.98 L316.39,89.37 L316.68,88.75 L316.96,88.13 L317.23,87.5 L317.49,86.86 L317.75,86.22 L317.99,85.57 L318.23,84.91 L318.46,84.24 L318.67,83.57 L318.88,82.9 L319.08,82.22 L319.26,81.53 L319.44,80.84 L319.61,80.15 L319.76,79.45 L319.91,78.75 L320.04,78.04 L320.16,77.33 L320.27,76.62 L320.37,75.91 L320.45,75.19 L320.53,74.47 L320.59,73.75 L320.64,73.02 L320.67,72.3 L320.7,71.58 L320.71,70.85 L320.71,70.12 L320.7,69.4 L320.67,68.67 L320.63,67.95 L320.58,67.23 L320.52,66.51 L320.44,65.79 L320.35,65.07 L320.25,64.36 L320.13,63.64 L320,62.93 L319.86,62.23 L319.7,61.53 L319.53,60.83 L319.35,60.14 L319.16,59.45 L318.95,58.77 L318.73,58.09 L318.5,57.42 L318.25,56.76 L317.99,56.1 L317.72,55.45 L317.44,54.81 L317.15,54.17 L316.84,53.54 L316.52,52.92 L316.19,52.31 L315.84,51.71 L315.49,51.11 L315.12,50.53 L314.74,49.96 L314.36,49.39 L313.96,48.84 L313.55,48.3 L313.12,47.76 L312.69,47.24 L312.25,46.73 L311.8,46.23 L311.34,45.75 L310.87,45.27 L310.39,44.81 L309.9,44.36 L309.4,43.93 L308.89,43.5 L308.38,43.1 L307.85,42.7 L307.32,42.32 L306.78,41.95 L306.24,41.6 L305.69,41.26 L305.13,40.93 L304.56,40.62 L303.99,40.33 L303.41,40.05 L302.83,39.78 L302.24,39.53 L301.64,39.3 L301.05,39.08 L300.44,38.88 L299.84,38.69 L299.23,38.52 L298.61,38.36 L298,38.22 L297.38,38.1 L296.76,38 L296.13,37.91 L295.51,37.83 L294.88,37.77 L294.26,37.73 L293.63,37.71 L293,37.7" fill="none" stroke="#f6c6a0" stroke-width="4.8" stroke-opacity="0.9"/>
<path d="M293,179.7 L293.61,179.7 L294.22,179.68 L294.83,179.66 L295.44,179.63 L296.05,179.59 L296.66,179.54 L297.27,179.48 L297.87,179.41 L298.48,179.34 L299.09,179.25 L299.69,179.16 L300.29,179.06 L300.89,178.94 L301.49,178.82 L302.08,178.7 L302.68,178.56 L303.27,178.41 L303.86,178.26 L304.45,178.1 L305.03,177.92 L305.61,177.74 L306.19,177.56 L306.77,177.36 L307.34,177.16 L307.91,176.94 L308.47,176.72 L309.04,176.49 L309.59,176.26 L310.15,176.01 L310.7,175.76 L311.25,175.5 L311.79,175.24 L312.33,174.96 L312.87,174.68 L313.4,174.39 L313.92,174.09 L314.44,173.79 L314.96,173.48 L315.47,173.16 L315.98,172.84 L316.48,172.51 L316.98,172.17 L317.47,171.83 L317.96,171.48 L318.44,171.12 L318.92,170.76 L319.39,170.39 L319.86,170.02 L320.32,169.64 L320.77,169.26 L321.22,168.87 L321.66,168.47 L322.1,168.07 L322.53,167.66 L322.96,167.25 L323.38,166.84 L323.79,166.42 L324.2,165.99 L324.6,165.56 L325,165.13 L325.39,164.69 L325.77,164.24 L326.15,163.8 L326.52,163.35 L326.89,162.89 L327.25,162.44 L327.6,161.98 L327.95,161.51 L328.29,161.04 L328.62,160.57 L328.95,160.1 L329.27,159.62 L329.59,159.14 L329.9,158.66 L330.2,158.18 L330.5,157.69 L330.79,157.2 L331.07,156.71 L331.35,156.22 L331.62,155.73 L331.89,155.23 L332.15,154.73 L332.4,154.23 L332.65,153.73 L332.89,153.23 L333.13,152.73 L333.36,152.23 L333.58,151.72 L333.8,151.22 L334.01,150.71 L334.22,150.21 L334.42,149.7 L334.62,149.19 L334.81,148.69 L334.99,148.18 L335.17,147.67 L335.34,147.16 L335.51,146.66 L335.68,146.15 L335.83,145.64 L335.99,145.14 L336.14,144.63 L336.28,144.13 L336.42,143.62 L336.55,143.12 L336.68,142.61 L336.8,142.11 L336.92,141.61 L337.04,141.11 L337.15,140.61 L337.26,140.12 L337.36,139.62 L337.46,139.12 L337.55,138.63 L337.64,138.14 L337.73,137.65 L337.81,137.16 L337.89,136.67 L337.96,136.18 L338.03,135.7 L338.1,135.22 L338.17,134.74 L338.23,134.26 L338.29,133.78 L338.34,133.3 L338.39,132.83 L338.44,132.36 L338.49,131.89 L338.53,131.42 L338.58,130.95 L338.61,130.49 L338.65,130.02 L338.68,129.56 L338.72,129.11 L338.75,128.65 L338.77,128.19 L338.8,127.74 L338.82,127.29 L338.84,126.84 L338.86,126.39 L338.88,125.95 L338.9,125.5 L338.91,125.06 L338.93,124.62 L338.94,124.19 L338.95,123.75 L338.96,123.31 L338.97,122.88 L338.98,122.45 L338.99,122.02 L338.99,121.59 L339,121.17 L339,120.74 L339,120.32 L339.01,119.9 L339.01,119.48 L339.01,119.06 L339.01,118.64 L339.01,118.23 L339.01,117.81 L339.01,117.4 L339.01,116.99 L339.01,116.58 L339.01,116.17 L339.01,115.76 L339.01,115.35 L339.01,114.94 L339.01,114.54 L339.01,114.13 L339.01,113.73 L339.01,113.32 L339,112.92 L339,112.51 L339,112.11 L339,111.71 L339,111.31 L339,110.9 L339,110.5 L339,110.1 L339,109.7 L339,109.3 L339,108.9 L339,108.5 L339,108.09 L339,107.69 L339,107.29 L339,106.89 L339,106.48 L339.01,106.08 L339.01,105.67 L339.01,105.27 L339.01,104.86 L339.01,104.46 L339.01,104.05 L339.01,103.64 L339.01,103.23 L339.01,102.82 L339.01,102.41 L339.01,102 L339.01,101.59 L339.01,101.17 L339.01,100.76 L339.01,100.34 L339.01,99.92 L339.01,99.5 L339,99.08 L339,98.66 L339,98.23 L338.99,97.81 L338.99,97.38 L338.98,96.95 L338.97,96.52 L338.96,96.09 L338.95,95.65 L338.94,95.21 L338.93,94.78 L338.91,94.34 L338.9,93.9 L338.88,93.45 L338.86,93.01 L338.84,92.56 L338.82,92.11 L338.8,91.66 L338.77,91.21 L338.75,90.75 L338.72,90.29 L338.68,89.84 L338.65,89.38 L338.61,88.91 L338.58,88.45 L338.53,87.98 L338.49,87.51 L338.44,87.04 L338.39,86.57 L338.34,86.1 L338.29,85.62 L338.23,85.14 L338.17,84.66 L338.1,84.18 L338.03,83.7 L337.96,83.22 L337.89,82.73 L337.81,82.24 L337.73,81.75 L337.64,81.26 L337.55,80.77 L337.46,80.28 L337.36,79.78 L337.26,79.28 L337.15,78.79 L337.04,78.29 L336.92,77.79 L336.8,77.29 L336.68,76.79 L336.55,76.28 L336.42,75.78 L336.28,75.27 L336.14,74.77 L335.99,74.26 L335.83,73.76 L335.68,73.25 L335.51,72.74 L335.34,72.24 L335.17,71.73 L334.99,71.22 L334.81,70.71 L334.62,70.21 L334.42,69.7 L334.22,69.19 L334.01,68.69 L333.8,68.18 L333.58,67.68 L333.36,67.17 L333.13,66.67 L332.89,66.17 L332.65,65.67 L332.4,65.17 L332.15,64.67 L331.89,64.17 L331.62,63.67 L331.35,63.18 L331.07,62.69 L330.79,62.2 L330.5,61.71 L330.2,61.22 L329.9,60.74 L329.59,60.26 L329.27,59.78 L328.95,59.3 L328.62,58.83 L328.29,58.36 L327.95,57.89 L327.6,57.42 L327.25,56.96 L326.89,56.51 L326.52,56.05 L326.15,55.6 L325.77,55.16 L325.39,54.71 L325,54.27 L324.6,53.84 L324.2,53.41 L323.79,52.98 L323.38,52.56 L322.96,52.15 L322.53,51.74 L322.1,51.33 L321.66,50.93 L321.22,50.53 L320.77,50.14 L320.32,49.76 L319.86,49.38 L319.39,49.01 L318.92,48.64 L318.44,48.28 L317.96,47.92 L317.47,47.57 L316.98,47.23 L316.48,46.89 L315.98,46.56 L315.47,46.24 L314.96,45.92 L314.44,45.61 L313.92,45.31 L313.4,45.01 L312.87,44.72 L312.33,44.44 L311.79,44.16 L311.25,43.9 L310.7,43.64 L310.15,43.39 L309.59,43.14 L309.04,42.91 L308.47,42.68 L307.91,42.46 L307.34,42.24 L306.77,42.04 L306.19,41.84 L305.61,41.66 L305.03,41.48 L304.45,41.3 L303.86,41.14 L303.27,40.99 L302.68,40.84 L302.08,40.7 L301.49,40.58 L300.89,40.46 L300.29,40.34 L299.69,40.24 L299.09,40.15 L298.48,40.06 L297.87,39.99 L297.27,39.92 L296.66,39.86 L296.05,39.81 L295.44,39.77 L294.83,39.74 L294.22,39.72 L293.61,39.7 L293,39.7" fill="none" stroke="#94d0f7" stroke-width="4.8" stroke-opacity="0.85"/>
</g>
<circle cx="298.6" cy="45.1" r="2.3" fill="none" stroke="#f2a266" stroke-width="1.15"/>
<circle cx="302.8" cy="47.9" r="2.3" fill="none" stroke="#f2a266" stroke-width="1.15"/>
<circle cx="307" cy="52.3" r="2.3" fill="none" stroke="#f2a266" stroke-width="1.15"/>
<circle cx="311.3" cy="56.7" r="2.3" fill="none" stroke="#f2a266" stroke-width="1.15"/>
<circle cx="315" cy="50.4" r="2.3" fill="none" stroke="#f2a266" stroke-width="1.15"/>
<circle cx="315.6" cy="60.6" r="2.3" fill="none" stroke="#f2a266" stroke-width="1.15"/>
<circle cx="320.5" cy="63" r="2.3" fill="none" stroke="#f2a266" stroke-width="1.15"/>
<circle cx="316.1" cy="69.3" r="2.3" fill="none" stroke="#f2a266" stroke-width="1.15"/>
<circle cx="317.6" cy="74.1" r="2.3" fill="none" stroke="#f2a266" stroke-width="1.15"/>
<circle cx="317.3" cy="80.7" r="2.3" fill="none" stroke="#f2a266" stroke-width="1.15"/>
<circle cx="316.7" cy="85.4" r="2.3" fill="none" stroke="#f2a266" stroke-width="1.15"/>
<circle cx="313.7" cy="91.9" r="2.3" fill="none" stroke="#f2a266" stroke-width="1.15"/>
<circle cx="311.3" cy="96.6" r="2.3" fill="none" stroke="#f2a266" stroke-width="1.15"/>
<circle cx="308.4" cy="100.2" r="2.3" fill="none" stroke="#f2a266" stroke-width="1.15"/>
<circle cx="304.8" cy="103.7" r="2.3" fill="none" stroke="#f2a266" stroke-width="1.15"/>
<circle cx="298.9" cy="107.9" r="2.3" fill="none" stroke="#f2a266" stroke-width="1.15"/>
<circle cx="302.5" cy="111.4" r="2.3" fill="none" stroke="#f2a266" stroke-width="1.15"/>
<circle cx="296.1" cy="110.2" r="2.3" fill="none" stroke="#f2a266" stroke-width="1.15"/>
<circle cx="293.8" cy="109.5" r="2.3" fill="none" stroke="#f2a266" stroke-width="1.15"/>
<circle cx="307.3" cy="114.7" r="2.3" fill="none" stroke="#f2a266" stroke-width="1.15"/>
<circle cx="312" cy="118.6" r="2.3" fill="none" stroke="#f2a266" stroke-width="1.15"/>
<circle cx="315.5" cy="122.4" r="2.3" fill="none" stroke="#f2a266" stroke-width="1.15"/>
<circle cx="318" cy="127.4" r="2.3" fill="none" stroke="#f2a266" stroke-width="1.15"/>
<circle cx="323.1" cy="134.7" r="2.3" fill="none" stroke="#f2a266" stroke-width="1.15"/>
<circle cx="324" cy="141" r="2.3" fill="none" stroke="#f2a266" stroke-width="1.15"/>
<circle cx="325.8" cy="148.5" r="2.3" fill="none" stroke="#f2a266" stroke-width="1.15"/>
<circle cx="323.8" cy="154" r="2.3" fill="none" stroke="#f2a266" stroke-width="1.15"/>
<circle cx="322" cy="159.7" r="2.3" fill="none" stroke="#f2a266" stroke-width="1.15"/>
<circle cx="317.9" cy="163.2" r="2.3" fill="none" stroke="#f2a266" stroke-width="1.15"/>
<circle cx="313.8" cy="169.4" r="2.3" fill="none" stroke="#f2a266" stroke-width="1.15"/>
<circle cx="309.1" cy="171.5" r="2.3" fill="none" stroke="#f2a266" stroke-width="1.15"/>
<circle cx="303.9" cy="176.7" r="2.3" fill="none" stroke="#f2a266" stroke-width="1.15"/>
<circle cx="298.8" cy="179.5" r="2.3" fill="none" stroke="#f2a266" stroke-width="1.15"/>
<circle cx="294.1" cy="180.8" r="2.3" fill="none" stroke="#f2a266" stroke-width="1.15"/>
<circle cx="294.5" cy="39.5" r="2.3" fill="none" stroke="#f2a266" stroke-width="1.15"/>
<circle cx="294.1" cy="46" r="2.3" fill="none" stroke="#3fb0f2" stroke-width="1.15"/>
<circle cx="298.6" cy="41.2" r="2.3" fill="none" stroke="#3fb0f2" stroke-width="1.15"/>
<circle cx="304.4" cy="43.7" r="2.3" fill="none" stroke="#3fb0f2" stroke-width="1.15"/>
<circle cx="308.9" cy="47.9" r="2.3" fill="none" stroke="#3fb0f2" stroke-width="1.15"/>
<circle cx="314.5" cy="46.5" r="2.3" fill="none" stroke="#3fb0f2" stroke-width="1.15"/>
<circle cx="321" cy="49.9" r="2.3" fill="none" stroke="#3fb0f2" stroke-width="1.15"/>
<circle cx="319" cy="63" r="2.3" fill="none" stroke="#3fb0f2" stroke-width="1.15"/>
<circle cx="326.3" cy="62.5" r="2.3" fill="none" stroke="#3fb0f2" stroke-width="1.15"/>
<circle cx="332.1" cy="63.5" r="2.3" fill="none" stroke="#3fb0f2" stroke-width="1.15"/>
<circle cx="331.8" cy="71" r="2.3" fill="none" stroke="#3fb0f2" stroke-width="1.15"/>
<circle cx="335.5" cy="74.6" r="2.3" fill="none" stroke="#3fb0f2" stroke-width="1.15"/>
<circle cx="338" cy="78.9" r="2.3" fill="none" stroke="#3fb0f2" stroke-width="1.15"/>
<circle cx="340.3" cy="82.4" r="2.3" fill="none" stroke="#3fb0f2" stroke-width="1.15"/>
<circle cx="339.7" cy="87.8" r="2.3" fill="none" stroke="#3fb0f2" stroke-width="1.15"/>
<circle cx="339.2" cy="93.1" r="2.3" fill="none" stroke="#3fb0f2" stroke-width="1.15"/>
<circle cx="341.5" cy="96.6" r="2.3" fill="none" stroke="#3fb0f2" stroke-width="1.15"/>
<circle cx="338" cy="102" r="2.3" fill="none" stroke="#3fb0f2" stroke-width="1.15"/>
<circle cx="333.2" cy="105.5" r="2.3" fill="none" stroke="#3fb0f2" stroke-width="1.15"/>
<circle cx="338" cy="109.6" r="2.3" fill="none" stroke="#3fb0f2" stroke-width="1.15"/>
<circle cx="345.1" cy="114.4" r="2.3" fill="none" stroke="#3fb0f2" stroke-width="1.15"/>
<circle cx="344.8" cy="118.8" r="2.3" fill="none" stroke="#3fb0f2" stroke-width="1.15"/>
<circle cx="347.8" cy="124.2" r="2.3" fill="none" stroke="#3fb0f2" stroke-width="1.15"/>
<circle cx="345.9" cy="129.4" r="2.3" fill="none" stroke="#3fb0f2" stroke-width="1.15"/>
<circle cx="345.3" cy="133.9" r="2.3" fill="none" stroke="#3fb0f2" stroke-width="1.15"/>
<circle cx="347.5" cy="142.3" r="2.3" fill="none" stroke="#3fb0f2" stroke-width="1.15"/>
<circle cx="345.8" cy="147" r="2.3" fill="none" stroke="#3fb0f2" stroke-width="1.15"/>
<circle cx="338.7" cy="147.9" r="2.3" fill="none" stroke="#3fb0f2" stroke-width="1.15"/>
<circle cx="335.8" cy="152.5" r="2.3" fill="none" stroke="#3fb0f2" stroke-width="1.15"/>
<circle cx="335" cy="159.7" r="2.3" fill="none" stroke="#3fb0f2" stroke-width="1.15"/>
<circle cx="331.8" cy="165.4" r="2.3" fill="none" stroke="#3fb0f2" stroke-width="1.15"/>
<circle cx="328.2" cy="171" r="2.3" fill="none" stroke="#3fb0f2" stroke-width="1.15"/>
<circle cx="322.5" cy="172.9" r="2.3" fill="none" stroke="#3fb0f2" stroke-width="1.15"/>
<circle cx="316.3" cy="172.9" r="2.3" fill="none" stroke="#3fb0f2" stroke-width="1.15"/>
<circle cx="311.2" cy="178.2" r="2.3" fill="none" stroke="#3fb0f2" stroke-width="1.15"/>
<circle cx="304.5" cy="178.2" r="2.3" fill="none" stroke="#3fb0f2" stroke-width="1.15"/>
<circle cx="298.8" cy="178.7" r="2.3" fill="none" stroke="#3fb0f2" stroke-width="1.15"/>
<circle cx="294.1" cy="175.6" r="2.3" fill="none" stroke="#3fb0f2" stroke-width="1.15"/>
<line x1="293" y1="34.3" x2="293" y2="185.1" stroke="#231f20" stroke-width="1.2"/>
<path d="M293,34.3 A75.4,75.4 0 0 1 293,185.1" fill="none" stroke="#231f20" stroke-width="1.2"/>
<line x1="302.84" y1="184.45" x2="302.63" y2="182.87" stroke="#231f20" stroke-width="0.9"/>
<line x1="312.51" y1="182.53" x2="311.84" y2="180.02" stroke="#231f20" stroke-width="0.9"/>
<line x1="321.85" y1="179.36" x2="321.24" y2="177.88" stroke="#231f20" stroke-width="0.9"/>
<line x1="330.7" y1="175" x2="329.4" y2="172.75" stroke="#231f20" stroke-width="0.9"/>
<line x1="338.9" y1="169.52" x2="337.93" y2="168.25" stroke="#231f20" stroke-width="0.9"/>
<line x1="346.32" y1="163.02" x2="344.48" y2="161.18" stroke="#231f20" stroke-width="0.9"/>
<line x1="352.82" y1="155.6" x2="351.55" y2="154.63" stroke="#231f20" stroke-width="0.9"/>
<line x1="358.3" y1="147.4" x2="356.05" y2="146.1" stroke="#231f20" stroke-width="0.9"/>
<line x1="362.66" y1="138.55" x2="361.18" y2="137.94" stroke="#231f20" stroke-width="0.9"/>
<line x1="365.83" y1="129.21" x2="363.32" y2="128.54" stroke="#231f20" stroke-width="0.9"/>
<line x1="367.75" y1="119.54" x2="366.17" y2="119.33" stroke="#231f20" stroke-width="0.9"/>
<line x1="368.4" y1="109.7" x2="365.8" y2="109.7" stroke="#231f20" stroke-width="0.9"/>
<line x1="367.75" y1="99.86" x2="366.17" y2="100.07" stroke="#231f20" stroke-width="0.9"/>
<line x1="365.83" y1="90.19" x2="363.32" y2="90.86" stroke="#231f20" stroke-width="0.9"/>
<line x1="362.66" y1="80.85" x2="361.18" y2="81.46" stroke="#231f20" stroke-width="0.9"/>
<line x1="358.3" y1="72" x2="356.05" y2="73.3" stroke="#231f20" stroke-width="0.9"/>
<line x1="352.82" y1="63.8" x2="351.55" y2="64.77" stroke="#231f20" stroke-width="0.9"/>
<line x1="346.32" y1="56.38" x2="344.48" y2="58.22" stroke="#231f20" stroke-width="0.9"/>
<line x1="338.9" y1="49.88" x2="337.93" y2="51.15" stroke="#231f20" stroke-width="0.9"/>
<line x1="330.7" y1="44.4" x2="329.4" y2="46.65" stroke="#231f20" stroke-width="0.9"/>
<line x1="321.85" y1="40.04" x2="321.24" y2="41.52" stroke="#231f20" stroke-width="0.9"/>
<line x1="312.51" y1="36.87" x2="311.84" y2="39.38" stroke="#231f20" stroke-width="0.9"/>
<line x1="302.84" y1="34.95" x2="302.63" y2="36.53" stroke="#231f20" stroke-width="0.9"/>
<text x="293.5" y="30.8" font-size="13.8" text-anchor="middle" fill="#231f20">90</text>
<text x="336.9" y="40.9" font-size="13.8" text-anchor="middle" fill="#231f20">60</text>
<text x="367.7" y="74.3" font-size="13.8" text-anchor="middle" fill="#231f20">30</text>
<text x="374.9" y="114.7" font-size="13.8" text-anchor="middle" fill="#231f20">0</text>
<text x="367" y="159.7" font-size="13.8" text-anchor="middle" fill="#231f20">-30</text>
<text x="337" y="189.2" font-size="13.8" text-anchor="middle" fill="#231f20">-60</text>
<text x="293.3" y="199.4" font-size="13.8" text-anchor="middle" fill="#231f20">-90</text>
<text x="0" y="0" font-size="14" text-anchor="middle" fill="#231f20" transform="translate(280,111.1) rotate(-90)">PL intensity (arb. units)</text>
<circle cx="371" cy="26.4" r="2.3" fill="none" stroke="#f2a266" stroke-width="1.1"/>
<circle cx="371" cy="47.9" r="2.3" fill="none" stroke="#3fb0f2" stroke-width="1.1"/>
<text x="377.6" y="31" font-size="14" text-anchor="start" fill="#231f20">TE<tspan font-size="8.3" dy="5.0">1,57</tspan></text>
<text x="377.6" y="52.4" font-size="14" text-anchor="start" fill="#231f20">Exciton (×3)</text>
<text x="454.2" y="14" font-size="18.5" text-anchor="start" fill="#000" font-weight="bold" stroke="#000" stroke-width="0.3">c</text>
<line x1="519.5" y1="17.5" x2="519.5" y2="80" stroke="#a8a8a8" stroke-width="0.8"/>
<line x1="426.6" y1="197" x2="519.5" y2="80.5" stroke="#a0a0a0" stroke-width="0.7"/>
<path d="M518.38,76.75 L518.98,76.56 L519.58,75.62 L520.18,76.2 L520.78,76.39 L521.38,76.3 L521.98,77.18 L522.58,76.86 L523.18,76.43 L523.78,75.84 L524.38,77.14 L524.98,77.31 L525.58,77.88 L526.18,76.51 L526.78,76.09 L527.38,77.37 L527.98,75.85 L528.58,75.12 L529.18,75.47 L529.78,75.72 L530.38,76.9 L530.98,77.81 L531.58,77.08 L532.18,77.79 L532.78,77.84 L533.38,77.74 L533.98,78.17 L534.58,77.38 L535.18,77.04 L535.78,75.93 L536.38,76.12 L536.98,75.93 L537.58,76.14 L538.18,75.87 L538.78,76.2 L539.38,76.77 L539.98,75.39 L540.58,74.7 L541.18,74.7 L541.78,74.99 L542.38,76.03 L542.98,76.74 L543.58,76.94 L544.18,77.54 L544.78,76.22 L545.38,76.39 L545.98,75.44 L546.58,76.01 L547.18,74.96 L547.78,74.68 L548.38,76.47 L548.98,76.86 L549.58,75.43 L550.18,75.71 L550.78,74.65 L551.38,75.44 L551.98,76.56 L552.58,75.81 L553.18,75.07 L553.78,75.84 L554.38,76.62 L554.98,76.41 L555.58,74.82 L556.18,74.46 L556.78,75.72 L557.38,76.01 L557.98,76.44 L558.58,76.71 L559.18,75.09 L559.78,75.65 L560.38,74.99 L560.98,74.86 L561.58,75.31 L562.18,74.21 L562.78,74.95 L563.38,74.06 L563.98,74.72 L564.58,74.23 L565.18,74.34 L565.78,74.13 L566.38,72.26 L566.98,71.54 L567.58,72.13 L568.18,70.88 L568.78,71.56 L569.38,71.21 L569.98,69.66 L570.58,69.03 L571.18,69.55 L571.78,67.3 L572.38,67.43 L572.98,66.77 L573.58,64.53 L574.18,63.59 L574.78,62.21 L575.38,60.88 L575.98,58.84 L576.58,55.13 L577.18,52.28 L577.78,48.05 L578.38,44.32 L578.98,40.07 L579.58,34.74 L580.18,31.56 L580.78,28.85 L581.38,26.85 L581.98,28.4 L582.58,30.99 L583.18,32.73 L583.78,36.14 L584.38,41.37 L584.98,46.13 L585.58,49 L586.18,51.48 L586.78,55.71 L587.38,57.19 L587.98,59.01 L588.58,61.35 L589.18,63.62 L589.78,66.07 L590.38,67.95 L590.98,67.2 L591.58,68.87 L592.18,68.97 L592.78,70.34 L593.38,69.99 L593.98,70.56 L594.58,71.75 L595.18,72.79 L595.78,72.23 L596.38,73.59 L596.98,74.04 L597.58,73.62 L598.18,72.85 L598.78,73.11 L599.38,74.09 L599.98,73.21 L600.58,74.48 L601.18,75.62 L601.78,75.67 L602.38,75.35 L602.98,76.13 L603.58,76.3 L604.18,75.99 L604.78,75.41 L605.38,76.18 L605.98,76.07 L606.58,74.83 L607.18,74.04 L607.78,74.42 L608.38,74.56 L608.98,74.9 L609.58,76.12 L610.18,77 L610.78,77.5 L611.38,75.71 L611.98,75.33 L612.58,74.55 L613.18,76.34 L613.78,75.84 L614.38,75.96 L614.98,75.47 L615.58,76.18 L616.18,74.99 L616.78,76.53 L617.38,76.23 L617.98,75.65 L618.58,75 L619.18,75.06 L619.78,75.18 L620.38,75.04 L620.98,74.7 L621.58,75.83 L622.18,75.64 L622.78,75.06 L623.38,74.85 L623.98,75.79 L624.58,75.41 L625.18,75.06 L625.78,75.56 L626.38,75.7 L626.98,76.33 L627.58,76.19 L628.18,76.07 L628.78,77.23 L629.38,76.53 L629.98,75.37 L630.58,75.05 L631.18,75.25 L631.78,76.14 L632.38,75.79 L632.98,75.97 L633.58,76.39 L634.18,75.69 L634.78,77.08 L635.38,76.24 L635.98,77.48 L636.58,76.79 L637.18,76.73 L637.78,77.28 L638.38,76.48 L638.98,76.54 L639.58,76.31 L640.18,75.49 L640.78,76.62 L641.38,77.74 L641.98,77.64 L642.58,76.73 L643.18,77.37 L643.78,77.76 L644.38,76.27 L644.98,76.09 L645.58,76.51 L646.18,75.68 L646.23,81.9 L518.38,81.9 Z" fill="#f78fc4" stroke="none" stroke-width="1"/>
<path d="M518.38,76.75 L518.98,76.56 L519.58,75.62 L520.18,76.2 L520.78,76.39 L521.38,76.3 L521.98,77.18 L522.58,76.86 L523.18,76.43 L523.78,75.84 L524.38,77.14 L524.98,77.31 L525.58,77.88 L526.18,76.51 L526.78,76.09 L527.38,77.37 L527.98,75.85 L528.58,75.12 L529.18,75.47 L529.78,75.72 L530.38,76.9 L530.98,77.81 L531.58,77.08 L532.18,77.79 L532.78,77.84 L533.38,77.74 L533.98,78.17 L534.58,77.38 L535.18,77.04 L535.78,75.93 L536.38,76.12 L536.98,75.93 L537.58,76.14 L538.18,75.87 L538.78,76.2 L539.38,76.77 L539.98,75.39 L540.58,74.7 L541.18,74.7 L541.78,74.99 L542.38,76.03 L542.98,76.74 L543.58,76.94 L544.18,77.54 L544.78,76.22 L545.38,76.39 L545.98,75.44 L546.58,76.01 L547.18,74.96 L547.78,74.68 L548.38,76.47 L548.98,76.86 L549.58,75.43 L550.18,75.71 L550.78,74.65 L551.38,75.44 L551.98,76.56 L552.58,75.81 L553.18,75.07 L553.78,75.84 L554.38,76.62 L554.98,76.41 L555.58,74.82 L556.18,74.46 L556.78,75.72 L557.38,76.01 L557.98,76.44 L558.58,76.71 L559.18,75.09 L559.78,75.65 L560.38,74.99 L560.98,74.86 L561.58,75.31 L562.18,74.21 L562.78,74.95 L563.38,74.06 L563.98,74.72 L564.58,74.23 L565.18,74.34 L565.78,74.13 L566.38,72.26 L566.98,71.54 L567.58,72.13 L568.18,70.88 L568.78,71.56 L569.38,71.21 L569.98,69.66 L570.58,69.03 L571.18,69.55 L571.78,67.3 L572.38,67.43 L572.98,66.77 L573.58,64.53 L574.18,63.59 L574.78,62.21 L575.38,60.88 L575.98,58.84 L576.58,55.13 L577.18,52.28 L577.78,48.05 L578.38,44.32 L578.98,40.07 L579.58,34.74 L580.18,31.56 L580.78,28.85 L581.38,26.85 L581.98,28.4 L582.58,30.99 L583.18,32.73 L583.78,36.14 L584.38,41.37 L584.98,46.13 L585.58,49 L586.18,51.48 L586.78,55.71 L587.38,57.19 L587.98,59.01 L588.58,61.35 L589.18,63.62 L589.78,66.07 L590.38,67.95 L590.98,67.2 L591.58,68.87 L592.18,68.97 L592.78,70.34 L593.38,69.99 L593.98,70.56 L594.58,71.75 L595.18,72.79 L595.78,72.23 L596.38,73.59 L596.98,74.04 L597.58,73.62 L598.18,72.85 L598.78,73.11 L599.38,74.09 L599.98,73.21 L600.58,74.48 L601.18,75.62 L601.78,75.67 L602.38,75.35 L602.98,76.13 L603.58,76.3 L604.18,75.99 L604.78,75.41 L605.38,76.18 L605.98,76.07 L606.58,74.83 L607.18,74.04 L607.78,74.42 L608.38,74.56 L608.98,74.9 L609.58,76.12 L610.18,77 L610.78,77.5 L611.38,75.71 L611.98,75.33 L612.58,74.55 L613.18,76.34 L613.78,75.84 L614.38,75.96 L614.98,75.47 L615.58,76.18 L616.18,74.99 L616.78,76.53 L617.38,76.23 L617.98,75.65 L618.58,75 L619.18,75.06 L619.78,75.18 L620.38,75.04 L620.98,74.7 L621.58,75.83 L622.18,75.64 L622.78,75.06 L623.38,74.85 L623.98,75.79 L624.58,75.41 L625.18,75.06 L625.78,75.56 L626.38,75.7 L626.98,76.33 L627.58,76.19 L628.18,76.07 L628.78,77.23 L629.38,76.53 L629.98,75.37 L630.58,75.05 L631.18,75.25 L631.78,76.14 L632.38,75.79 L632.98,75.97 L633.58,76.39 L634.18,75.69 L634.78,77.08 L635.38,76.24 L635.98,77.48 L636.58,76.79 L637.18,76.73 L637.78,77.28 L638.38,76.48 L638.98,76.54 L639.58,76.31 L640.18,75.49 L640.78,76.62 L641.38,77.74 L641.98,77.64 L642.58,76.73 L643.18,77.37 L643.78,77.76 L644.38,76.27 L644.98,76.09 L645.58,76.51 L646.18,75.68" fill="none" stroke="#f574b6" stroke-width="0.85" stroke-linejoin="round"/>
<path d="M515.51,81.68 L516.11,81.14 L516.71,81.86 L517.31,81.73 L517.91,80.86 L518.51,80.2 L519.11,79.94 L519.71,80.86 L520.31,80.89 L520.91,81.47 L521.51,82.14 L522.11,81.71 L522.71,80.77 L523.31,80.27 L523.91,80.31 L524.51,79.82 L525.11,81.01 L525.71,81.82 L526.31,81.63 L526.91,81.9 L527.51,82.17 L528.11,81.87 L528.71,81.27 L529.31,81.24 L529.91,81.61 L530.51,80.67 L531.11,79.9 L531.71,80.63 L532.31,81.79 L532.91,82.46 L533.51,81.01 L534.11,82.04 L534.71,81.13 L535.31,80.97 L535.91,81.44 L536.51,80.64 L537.11,81.87 L537.71,82.24 L538.31,81.74 L538.91,82.39 L539.51,81 L540.11,81.56 L540.71,82.03 L541.31,82.46 L541.91,81.43 L542.51,81.3 L543.11,80.83 L543.71,80.53 L544.31,80.05 L544.91,79.48 L545.51,79.76 L546.11,80.92 L546.71,80.9 L547.31,81.51 L547.91,82.15 L548.51,81.48 L549.11,80.61 L549.71,81.3 L550.31,81.42 L550.91,81.31 L551.51,80.49 L552.11,80.43 L552.71,80.18 L553.31,79.73 L553.91,80.24 L554.51,79.63 L555.11,79.04 L555.71,80.46 L556.31,79.33 L556.91,79.18 L557.51,80.32 L558.11,80.15 L558.71,79.66 L559.31,78.75 L559.91,79.37 L560.51,79.21 L561.11,78.4 L561.71,78.09 L562.31,77.54 L562.91,78.18 L563.51,78.01 L564.11,78.75 L564.71,77.89 L565.31,77.11 L565.91,76.93 L566.51,76.5 L567.11,77.14 L567.71,75.76 L568.31,74.63 L568.91,73.76 L569.51,73.9 L570.11,73.01 L570.71,73.08 L571.31,71.29 L571.91,69.85 L572.51,69.42 L573.11,68.85 L573.71,66.72 L574.31,64.18 L574.91,61 L575.51,58.38 L576.11,56.3 L576.71,51.83 L577.31,49.54 L577.91,45.61 L578.51,44.39 L579.11,43.64 L579.71,43.31 L580.31,46.08 L580.91,49.31 L581.51,52.02 L582.11,54.68 L582.71,57.31 L583.31,60.26 L583.91,62.32 L584.51,65.26 L585.11,66.56 L585.71,69.72 L586.31,71.59 L586.91,72.38 L587.51,73.69 L588.11,73.78 L588.71,74.34 L589.31,75.14 L589.91,75.1 L590.51,75.89 L591.11,77 L591.71,77.58 L592.31,77.03 L592.91,76.77 L593.51,78.22 L594.11,77.69 L594.71,77.28 L595.31,78.1 L595.91,78.48 L596.51,79.54 L597.11,79.42 L597.71,79.49 L598.31,79.36 L598.91,80.57 L599.51,79.23 L600.11,79.56 L600.71,80.01 L601.31,79.42 L601.91,79.66 L602.51,79.97 L603.11,79.73 L603.71,80.96 L604.31,80.6 L604.91,80.71 L605.51,79.63 L606.11,79.19 L606.71,80.37 L607.31,80.55 L607.91,81.39 L608.51,81.18 L609.11,80.28 L609.71,79.66 L610.31,80.27 L610.91,80.92 L611.51,81.53 L612.11,80.94 L612.71,80 L613.31,81.23 L613.91,80.48 L614.51,81.72 L615.11,81.98 L615.71,82.05 L616.31,81.12 L616.91,81.44 L617.51,81.53 L618.11,81.02 L618.71,81.87 L619.31,80.97 L619.91,81.82 L620.51,81.43 L621.11,81.79 L621.71,82.09 L622.31,81.54 L622.91,81.46 L623.51,81.56 L624.11,81.54 L624.71,81.28 L625.31,81.94 L625.91,82.18 L626.51,81.4 L627.11,81 L627.71,81.03 L628.31,80.37 L628.91,80.55 L629.51,80.13 L630.11,81.24 L630.71,80.72 L631.31,80.32 L631.91,79.92 L632.51,80.97 L633.11,81.5 L633.71,80.48 L634.31,81.47 L634.91,80.31 L635.51,79.97 L636.11,81.4 L636.71,81.89 L637.31,81.11 L637.91,81.71 L638.51,82.36 L639.11,81.12 L639.71,81.38 L640.31,80.73 L640.91,81.81 L641.51,81.77 L642.11,81.15 L642.71,82.26 L643.31,82.42 L643.91,81.49 L644.27,85.5 L515.51,85.5 Z" fill="#f89fbb" stroke="none" stroke-width="1"/>
<path d="M515.51,81.68 L516.11,81.14 L516.71,81.86 L517.31,81.73 L517.91,80.86 L518.51,80.2 L519.11,79.94 L519.71,80.86 L520.31,80.89 L520.91,81.47 L521.51,82.14 L522.11,81.71 L522.71,80.77 L523.31,80.27 L523.91,80.31 L524.51,79.82 L525.11,81.01 L525.71,81.82 L526.31,81.63 L526.91,81.9 L527.51,82.17 L528.11,81.87 L528.71,81.27 L529.31,81.24 L529.91,81.61 L530.51,80.67 L531.11,79.9 L531.71,80.63 L532.31,81.79 L532.91,82.46 L533.51,81.01 L534.11,82.04 L534.71,81.13 L535.31,80.97 L535.91,81.44 L536.51,80.64 L537.11,81.87 L537.71,82.24 L538.31,81.74 L538.91,82.39 L539.51,81 L540.11,81.56 L540.71,82.03 L541.31,82.46 L541.91,81.43 L542.51,81.3 L543.11,80.83 L543.71,80.53 L544.31,80.05 L544.91,79.48 L545.51,79.76 L546.11,80.92 L546.71,80.9 L547.31,81.51 L547.91,82.15 L548.51,81.48 L549.11,80.61 L549.71,81.3 L550.31,81.42 L550.91,81.31 L551.51,80.49 L552.11,80.43 L552.71,80.18 L553.31,79.73 L553.91,80.24 L554.51,79.63 L555.11,79.04 L555.71,80.46 L556.31,79.33 L556.91,79.18 L557.51,80.32 L558.11,80.15 L558.71,79.66 L559.31,78.75 L559.91,79.37 L560.51,79.21 L561.11,78.4 L561.71,78.09 L562.31,77.54 L562.91,78.18 L563.51,78.01 L564.11,78.75 L564.71,77.89 L565.31,77.11 L565.91,76.93 L566.51,76.5 L567.11,77.14 L567.71,75.76 L568.31,74.63 L568.91,73.76 L569.51,73.9 L570.11,73.01 L570.71,73.08 L571.31,71.29 L571.91,69.85 L572.51,69.42 L573.11,68.85 L573.71,66.72 L574.31,64.18 L574.91,61 L575.51,58.38 L576.11,56.3 L576.71,51.83 L577.31,49.54 L577.91,45.61 L578.51,44.39 L579.11,43.64 L579.71,43.31 L580.31,46.08 L580.91,49.31 L581.51,52.02 L582.11,54.68 L582.71,57.31 L583.31,60.26 L583.91,62.32 L584.51,65.26 L585.11,66.56 L585.71,69.72 L586.31,71.59 L586.91,72.38 L587.51,73.69 L588.11,73.78 L588.71,74.34 L589.31,75.14 L589.91,75.1 L590.51,75.89 L591.11,77 L591.71,77.58 L592.31,77.03 L592.91,76.77 L593.51,78.22 L594.11,77.69 L594.71,77.28 L595.31,78.1 L595.91,78.48 L596.51,79.54 L597.11,79.42 L597.71,79.49 L598.31,79.36 L598.91,80.57 L599.51,79.23 L600.11,79.56 L600.71,80.01 L601.31,79.42 L601.91,79.66 L602.51,79.97 L603.11,79.73 L603.71,80.96 L604.31,80.6 L604.91,80.71 L605.51,79.63 L606.11,79.19 L606.71,80.37 L607.31,80.55 L607.91,81.39 L608.51,81.18 L609.11,80.28 L609.71,79.66 L610.31,80.27 L610.91,80.92 L611.51,81.53 L612.11,80.94 L612.71,80 L613.31,81.23 L613.91,80.48 L614.51,81.72 L615.11,81.98 L615.71,82.05 L616.31,81.12 L616.91,81.44 L617.51,81.53 L618.11,81.02 L618.71,81.87 L619.31,80.97 L619.91,81.82 L620.51,81.43 L621.11,81.79 L621.71,82.09 L622.31,81.54 L622.91,81.46 L623.51,81.56 L624.11,81.54 L624.71,81.28 L625.31,81.94 L625.91,82.18 L626.51,81.4 L627.11,81 L627.71,81.03 L628.31,80.37 L628.91,80.55 L629.51,80.13 L630.11,81.24 L630.71,80.72 L631.31,80.32 L631.91,79.92 L632.51,80.97 L633.11,81.5 L633.71,80.48 L634.31,81.47 L634.91,80.31 L635.51,79.97 L636.11,81.4 L636.71,81.89 L637.31,81.11 L637.91,81.71 L638.51,82.36 L639.11,81.12 L639.71,81.38 L640.31,80.73 L640.91,81.81 L641.51,81.77 L642.11,81.15 L642.71,82.26 L643.31,82.42 L643.91,81.49" fill="none" stroke="#f784a8" stroke-width="0.85" stroke-linejoin="round"/>
<path d="M511.76,85.47 L512.36,84.95 L512.96,86.36 L513.56,86.3 L514.16,85.77 L514.76,86.01 L515.36,85.77 L515.96,86.61 L516.56,87.27 L517.16,87.52 L517.76,87.78 L518.36,86.91 L518.96,86.54 L519.56,86.25 L520.16,86.93 L520.76,87.19 L521.36,87.28 L521.96,86.08 L522.56,85.19 L523.16,84.86 L523.76,86.32 L524.36,87.11 L524.96,85.77 L525.56,86.05 L526.16,85.6 L526.76,86.22 L527.36,86.26 L527.96,86.18 L528.56,86.3 L529.16,86.03 L529.76,87.04 L530.36,86.19 L530.96,85.49 L531.56,86.43 L532.16,86.36 L532.76,85.76 L533.36,86.12 L533.96,86.7 L534.56,87.04 L535.16,86.53 L535.76,87.24 L536.36,85.88 L536.96,85.37 L537.56,85.3 L538.16,84.95 L538.76,85.22 L539.36,85.79 L539.96,85.69 L540.56,85.82 L541.16,84.94 L541.76,84.84 L542.36,85.85 L542.96,85.07 L543.56,84.99 L544.16,84.88 L544.76,84.74 L545.36,85.46 L545.96,84.85 L546.56,84.56 L547.16,84.77 L547.76,84.72 L548.36,84.68 L548.96,85.35 L549.56,85.04 L550.16,86.15 L550.76,86.15 L551.36,85.88 L551.96,86.62 L552.56,86.29 L553.16,85.55 L553.76,85.17 L554.36,85.72 L554.96,84.57 L555.56,84.51 L556.16,85.07 L556.76,84.68 L557.36,84.62 L557.96,84.61 L558.56,84.82 L559.16,83.68 L559.76,83.73 L560.36,83.57 L560.96,83.28 L561.56,82.62 L562.16,84.05 L562.76,83.49 L563.36,82.83 L563.96,83.28 L564.56,83.05 L565.16,83.42 L565.76,83.09 L566.36,82.31 L566.96,82.14 L567.56,81.4 L568.16,79.33 L568.76,78.48 L569.36,77.55 L569.96,75.49 L570.56,74.41 L571.16,72.07 L571.76,70.48 L572.36,68.07 L572.96,66.91 L573.56,63.88 L574.16,60.73 L574.76,59.53 L575.36,56.72 L575.96,57 L576.56,57.36 L577.16,59.43 L577.76,61.33 L578.36,63.56 L578.96,67.13 L579.56,68.39 L580.16,71.05 L580.76,73.03 L581.36,74.6 L581.96,76.44 L582.56,78.03 L583.16,78.53 L583.76,79.33 L584.36,80.59 L584.96,80.64 L585.56,81.72 L586.16,83.01 L586.76,83.39 L587.36,84.13 L587.96,84.41 L588.56,83.5 L589.16,83.87 L589.76,83.16 L590.36,83.18 L590.96,84.64 L591.56,83.6 L592.16,83.23 L592.76,84.8 L593.36,84.02 L593.96,84.6 L594.56,84.84 L595.16,84.04 L595.76,85.09 L596.36,85.11 L596.96,84.34 L597.56,84.41 L598.16,84.96 L598.76,84.27 L599.36,84.26 L599.96,84.69 L600.56,85.88 L601.16,85.5 L601.76,85.66 L602.36,86.24 L602.96,86.85 L603.56,86.24 L604.16,86.73 L604.76,86.37 L605.36,85.76 L605.96,85.88 L606.56,86.33 L607.16,85.94 L607.76,86.07 L608.36,85.45 L608.96,85.63 L609.56,84.81 L610.16,84.5 L610.76,84.78 L611.36,85.89 L611.96,86.7 L612.56,85.59 L613.16,85.25 L613.76,85.4 L614.36,86 L614.96,86.47 L615.56,85.91 L616.16,85.87 L616.76,85.8 L617.36,85.69 L617.96,85.4 L618.56,86.36 L619.16,86.73 L619.76,85.49 L620.36,85 L620.96,84.83 L621.56,86.39 L622.16,87.13 L622.76,87.09 L623.36,86.77 L623.96,86.23 L624.56,86.98 L625.16,86.5 L625.76,87.18 L626.36,87.49 L626.96,86.5 L627.56,86.25 L628.16,85.97 L628.76,86.34 L629.36,86.32 L629.96,86.83 L630.56,86.83 L631.16,86.05 L631.76,85.48 L632.36,86.69 L632.96,87.2 L633.56,86.12 L634.16,85.94 L634.76,85.57 L635.36,86.47 L635.96,86.51 L636.56,86.85 L637.16,85.95 L637.76,86.36 L638.36,86.01 L638.96,85.18 L639.56,86.07 L640.16,86.07 L640.76,85.69 L641.36,85.16 L641.73,90.2 L511.76,90.2 Z" fill="#f9aeae" stroke="none" stroke-width="1"/>
<path d="M511.76,85.47 L512.36,84.95 L512.96,86.36 L513.56,86.3 L514.16,85.77 L514.76,86.01 L515.36,85.77 L515.96,86.61 L516.56,87.27 L517.16,87.52 L517.76,87.78 L518.36,86.91 L518.96,86.54 L519.56,86.25 L520.16,86.93 L520.76,87.19 L521.36,87.28 L521.96,86.08 L522.56,85.19 L523.16,84.86 L523.76,86.32 L524.36,87.11 L524.96,85.77 L525.56,86.05 L526.16,85.6 L526.76,86.22 L527.36,86.26 L527.96,86.18 L528.56,86.3 L529.16,86.03 L529.76,87.04 L530.36,86.19 L530.96,85.49 L531.56,86.43 L532.16,86.36 L532.76,85.76 L533.36,86.12 L533.96,86.7 L534.56,87.04 L535.16,86.53 L535.76,87.24 L536.36,85.88 L536.96,85.37 L537.56,85.3 L538.16,84.95 L538.76,85.22 L539.36,85.79 L539.96,85.69 L540.56,85.82 L541.16,84.94 L541.76,84.84 L542.36,85.85 L542.96,85.07 L543.56,84.99 L544.16,84.88 L544.76,84.74 L545.36,85.46 L545.96,84.85 L546.56,84.56 L547.16,84.77 L547.76,84.72 L548.36,84.68 L548.96,85.35 L549.56,85.04 L550.16,86.15 L550.76,86.15 L551.36,85.88 L551.96,86.62 L552.56,86.29 L553.16,85.55 L553.76,85.17 L554.36,85.72 L554.96,84.57 L555.56,84.51 L556.16,85.07 L556.76,84.68 L557.36,84.62 L557.96,84.61 L558.56,84.82 L559.16,83.68 L559.76,83.73 L560.36,83.57 L560.96,83.28 L561.56,82.62 L562.16,84.05 L562.76,83.49 L563.36,82.83 L563.96,83.28 L564.56,83.05 L565.16,83.42 L565.76,83.09 L566.36,82.31 L566.96,82.14 L567.56,81.4 L568.16,79.33 L568.76,78.48 L569.36,77.55 L569.96,75.49 L570.56,74.41 L571.16,72.07 L571.76,70.48 L572.36,68.07 L572.96,66.91 L573.56,63.88 L574.16,60.73 L574.76,59.53 L575.36,56.72 L575.96,57 L576.56,57.36 L577.16,59.43 L577.76,61.33 L578.36,63.56 L578.96,67.13 L579.56,68.39 L580.16,71.05 L580.76,73.03 L581.36,74.6 L581.96,76.44 L582.56,78.03 L583.16,78.53 L583.76,79.33 L584.36,80.59 L584.96,80.64 L585.56,81.72 L586.16,83.01 L586.76,83.39 L587.36,84.13 L587.96,84.41 L588.56,83.5 L589.16,83.87 L589.76,83.16 L590.36,83.18 L590.96,84.64 L591.56,83.6 L592.16,83.23 L592.76,84.8 L593.36,84.02 L593.96,84.6 L594.56,84.84 L595.16,84.04 L595.76,85.09 L596.36,85.11 L596.96,84.34 L597.56,84.41 L598.16,84.96 L598.76,84.27 L599.36,84.26 L599.96,84.69 L600.56,85.88 L601.16,85.5 L601.76,85.66 L602.36,86.24 L602.96,86.85 L603.56,86.24 L604.16,86.73 L604.76,86.37 L605.36,85.76 L605.96,85.88 L606.56,86.33 L607.16,85.94 L607.76,86.07 L608.36,85.45 L608.96,85.63 L609.56,84.81 L610.16,84.5 L610.76,84.78 L611.36,85.89 L611.96,86.7 L612.56,85.59 L613.16,85.25 L613.76,85.4 L614.36,86 L614.96,86.47 L615.56,85.91 L616.16,85.87 L616.76,85.8 L617.36,85.69 L617.96,85.4 L618.56,86.36 L619.16,86.73 L619.76,85.49 L620.36,85 L620.96,84.83 L621.56,86.39 L622.16,87.13 L622.76,87.09 L623.36,86.77 L623.96,86.23 L624.56,86.98 L625.16,86.5 L625.76,87.18 L626.36,87.49 L626.96,86.5 L627.56,86.25 L628.16,85.97 L628.76,86.34 L629.36,86.32 L629.96,86.83 L630.56,86.83 L631.16,86.05 L631.76,85.48 L632.36,86.69 L632.96,87.2 L633.56,86.12 L634.16,85.94 L634.76,85.57 L635.36,86.47 L635.96,86.51 L636.56,86.85 L637.16,85.95 L637.76,86.36 L638.36,86.01 L638.96,85.18 L639.56,86.07 L640.16,86.07 L640.76,85.69 L641.36,85.16" fill="none" stroke="#f79494" stroke-width="0.85" stroke-linejoin="round"/>
<path d="M507.86,91.53 L508.46,91.7 L509.06,92.27 L509.66,91.16 L510.26,92.03 L510.86,92.45 L511.46,91.8 L512.06,91.62 L512.66,91.17 L513.26,91.63 L513.86,91.01 L514.46,91.95 L515.06,92.17 L515.66,91.48 L516.26,92.17 L516.86,92.12 L517.46,91.33 L518.06,91 L518.66,91.56 L519.26,92.1 L519.86,91.97 L520.46,91.25 L521.06,91.53 L521.66,92.12 L522.26,91.35 L522.86,91.21 L523.46,90.52 L524.06,90.13 L524.66,89.98 L525.26,90.75 L525.86,90.48 L526.46,91.24 L527.06,91.59 L527.66,91.62 L528.26,90.67 L528.86,90.26 L529.46,91.22 L530.06,91.49 L530.66,91.61 L531.26,91.67 L531.86,91.64 L532.46,91.64 L533.06,91.98 L533.66,91.48 L534.26,90.81 L534.86,90.93 L535.46,90.46 L536.06,90.7 L536.66,91.51 L537.26,90.87 L537.86,90.32 L538.46,91.12 L539.06,91.97 L539.66,91.51 L540.26,91.22 L540.86,91.02 L541.46,90.2 L542.06,90.35 L542.66,90.14 L543.26,91.35 L543.86,91.08 L544.46,90.5 L545.06,91.46 L545.66,91.93 L546.26,90.98 L546.86,90.2 L547.46,91.25 L548.06,90.78 L548.66,91.4 L549.26,90.61 L549.86,90.37 L550.46,90.95 L551.06,91.26 L551.66,90.42 L552.26,90.4 L552.86,89.93 L553.46,90.32 L554.06,90.58 L554.66,89.54 L555.26,89.5 L555.86,89.76 L556.46,89.75 L557.06,89.36 L557.66,89.11 L558.26,88.55 L558.86,89.08 L559.46,88.51 L560.06,88.4 L560.66,87.89 L561.26,87.57 L561.86,87.21 L562.46,86.74 L563.06,86.17 L563.66,86.2 L564.26,86.13 L564.86,85.41 L565.46,84.48 L566.06,84.22 L566.66,83.51 L567.26,82.97 L567.86,80.82 L568.46,78.36 L569.06,77.14 L569.66,75.7 L570.26,73.66 L570.86,71.06 L571.46,69.07 L572.06,66.39 L572.66,66.83 L573.26,67.34 L573.86,69.1 L574.46,70.36 L575.06,72.08 L575.66,75.2 L576.26,77.98 L576.86,79.53 L577.46,80.79 L578.06,81.43 L578.66,83.81 L579.26,85.29 L579.86,86.24 L580.46,86.96 L581.06,87.54 L581.66,87.19 L582.26,87.42 L582.86,88.36 L583.46,89.05 L584.06,89.34 L584.66,89.79 L585.26,89.07 L585.86,89.59 L586.46,89.51 L587.06,89.05 L587.66,89.49 L588.26,90.16 L588.86,89.42 L589.46,89.05 L590.06,89.93 L590.66,90.04 L591.26,89.4 L591.86,89.96 L592.46,90.73 L593.06,91.46 L593.66,90.23 L594.26,89.91 L594.86,90.51 L595.46,90.58 L596.06,90.65 L596.66,91.13 L597.26,90.11 L597.86,90.21 L598.46,91.02 L599.06,91.85 L599.66,91.45 L600.26,91.44 L600.86,90.69 L601.46,90.47 L602.06,90.56 L602.66,91.42 L603.26,91.86 L603.86,91.79 L604.46,91.87 L605.06,90.83 L605.66,90.95 L606.26,90.8 L606.86,90.09 L607.46,91.04 L608.06,91.05 L608.66,91.74 L609.26,90.98 L609.86,91.99 L610.46,91.02 L611.06,90.5 L611.66,90.29 L612.26,91.51 L612.86,91.79 L613.46,91.13 L614.06,91.92 L614.66,91.63 L615.26,91.51 L615.86,90.58 L616.46,90.77 L617.06,90.39 L617.66,91.2 L618.26,90.73 L618.86,91.17 L619.46,90.49 L620.06,91.64 L620.66,90.89 L621.26,91.63 L621.86,91.4 L622.46,91.32 L623.06,91.94 L623.66,91.05 L624.26,91.53 L624.86,91.78 L625.46,92.32 L626.06,92.19 L626.66,91.83 L627.26,91.21 L627.86,91.54 L628.46,91.12 L629.06,91.95 L629.66,91.85 L630.26,91.68 L630.86,90.69 L631.46,90.44 L632.06,90.64 L632.66,91.88 L633.26,91.86 L633.86,91.25 L634.46,91.79 L635.06,91.48 L635.66,91.51 L636.26,92.33 L636.86,90.98 L637.46,90.66 L638.06,91.55 L638.66,91.27 L639.07,95.1 L507.86,95.1 Z" fill="#f9bfae" stroke="none" stroke-width="1"/>
<path d="M507.86,91.53 L508.46,91.7 L509.06,92.27 L509.66,91.16 L510.26,92.03 L510.86,92.45 L511.46,91.8 L512.06,91.62 L512.66,91.17 L513.26,91.63 L513.86,91.01 L514.46,91.95 L515.06,92.17 L515.66,91.48 L516.26,92.17 L516.86,92.12 L517.46,91.33 L518.06,91 L518.66,91.56 L519.26,92.1 L519.86,91.97 L520.46,91.25 L521.06,91.53 L521.66,92.12 L522.26,91.35 L522.86,91.21 L523.46,90.52 L524.06,90.13 L524.66,89.98 L525.26,90.75 L525.86,90.48 L526.46,91.24 L527.06,91.59 L527.66,91.62 L528.26,90.67 L528.86,90.26 L529.46,91.22 L530.06,91.49 L530.66,91.61 L531.26,91.67 L531.86,91.64 L532.46,91.64 L533.06,91.98 L533.66,91.48 L534.26,90.81 L534.86,90.93 L535.46,90.46 L536.06,90.7 L536.66,91.51 L537.26,90.87 L537.86,90.32 L538.46,91.12 L539.06,91.97 L539.66,91.51 L540.26,91.22 L540.86,91.02 L541.46,90.2 L542.06,90.35 L542.66,90.14 L543.26,91.35 L543.86,91.08 L544.46,90.5 L545.06,91.46 L545.66,91.93 L546.26,90.98 L546.86,90.2 L547.46,91.25 L548.06,90.78 L548.66,91.4 L549.26,90.61 L549.86,90.37 L550.46,90.95 L551.06,91.26 L551.66,90.42 L552.26,90.4 L552.86,89.93 L553.46,90.32 L554.06,90.58 L554.66,89.54 L555.26,89.5 L555.86,89.76 L556.46,89.75 L557.06,89.36 L557.66,89.11 L558.26,88.55 L558.86,89.08 L559.46,88.51 L560.06,88.4 L560.66,87.89 L561.26,87.57 L561.86,87.21 L562.46,86.74 L563.06,86.17 L563.66,86.2 L564.26,86.13 L564.86,85.41 L565.46,84.48 L566.06,84.22 L566.66,83.51 L567.26,82.97 L567.86,80.82 L568.46,78.36 L569.06,77.14 L569.66,75.7 L570.26,73.66 L570.86,71.06 L571.46,69.07 L572.06,66.39 L572.66,66.83 L573.26,67.34 L573.86,69.1 L574.46,70.36 L575.06,72.08 L575.66,75.2 L576.26,77.98 L576.86,79.53 L577.46,80.79 L578.06,81.43 L578.66,83.81 L579.26,85.29 L579.86,86.24 L580.46,86.96 L581.06,87.54 L581.66,87.19 L582.26,87.42 L582.86,88.36 L583.46,89.05 L584.06,89.34 L584.66,89.79 L585.26,89.07 L585.86,89.59 L586.46,89.51 L587.06,89.05 L587.66,89.49 L588.26,90.16 L588.86,89.42 L589.46,89.05 L590.06,89.93 L590.66,90.04 L591.26,89.4 L591.86,89.96 L592.46,90.73 L593.06,91.46 L593.66,90.23 L594.26,89.91 L594.86,90.51 L595.46,90.58 L596.06,90.65 L596.66,91.13 L597.26,90.11 L597.86,90.21 L598.46,91.02 L599.06,91.85 L599.66,91.45 L600.26,91.44 L600.86,90.69 L601.46,90.47 L602.06,90.56 L602.66,91.42 L603.26,91.86 L603.86,91.79 L604.46,91.87 L605.06,90.83 L605.66,90.95 L606.26,90.8 L606.86,90.09 L607.46,91.04 L608.06,91.05 L608.66,91.74 L609.26,90.98 L609.86,91.99 L610.46,91.02 L611.06,90.5 L611.66,90.29 L612.26,91.51 L612.86,91.79 L613.46,91.13 L614.06,91.92 L614.66,91.63 L615.26,91.51 L615.86,90.58 L616.46,90.77 L617.06,90.39 L617.66,91.2 L618.26,90.73 L618.86,91.17 L619.46,90.49 L620.06,91.64 L620.66,90.89 L621.26,91.63 L621.86,91.4 L622.46,91.32 L623.06,91.94 L623.66,91.05 L624.26,91.53 L624.86,91.78 L625.46,92.32 L626.06,92.19 L626.66,91.83 L627.26,91.21 L627.86,91.54 L628.46,91.12 L629.06,91.95 L629.66,91.85 L630.26,91.68 L630.86,90.69 L631.46,90.44 L632.06,90.64 L632.66,91.88 L633.26,91.86 L633.86,91.25 L634.46,91.79 L635.06,91.48 L635.66,91.51 L636.26,92.33 L636.86,90.98 L637.46,90.66 L638.06,91.55 L638.66,91.27" fill="none" stroke="#f7a890" stroke-width="0.85" stroke-linejoin="round"/>
<path d="M503.87,97.07 L504.47,97.1 L505.07,96.84 L505.67,97.11 L506.27,97.18 L506.87,97.13 L507.47,96.65 L508.07,97.08 L508.67,97.39 L509.27,96.67 L509.87,96.97 L510.47,96.11 L511.07,96.3 L511.67,96.14 L512.27,96.69 L512.87,96.16 L513.47,97.1 L514.07,97.48 L514.67,97.75 L515.27,96.93 L515.87,96.47 L516.47,97.1 L517.07,97.05 L517.67,96.31 L518.27,96.34 L518.87,97.18 L519.47,97.37 L520.07,97.58 L520.67,97.74 L521.27,97.35 L521.87,97.7 L522.47,96.49 L523.07,96.69 L523.67,96.65 L524.27,96.4 L524.87,96.08 L525.47,95.83 L526.07,96.41 L526.67,96.79 L527.27,96.85 L527.87,97.52 L528.47,97.23 L529.07,96.58 L529.67,95.8 L530.27,95.72 L530.87,95.88 L531.47,96.05 L532.07,97.1 L532.67,97.1 L533.27,97.08 L533.87,96.56 L534.47,97.19 L535.07,97.06 L535.67,96.77 L536.27,96.16 L536.87,95.79 L537.47,95.95 L538.07,96.77 L538.67,96.17 L539.27,95.64 L539.87,95.95 L540.47,96.42 L541.07,96.4 L541.67,96.97 L542.27,96.31 L542.87,95.52 L543.47,95.89 L544.07,95.74 L544.67,95.45 L545.27,96.34 L545.87,95.54 L546.47,95.65 L547.07,96.39 L547.67,96.93 L548.27,96.91 L548.87,96.34 L549.47,95.83 L550.07,96.16 L550.67,95.31 L551.27,95.78 L551.87,95.82 L552.47,96.36 L553.07,95.19 L553.67,95.94 L554.27,95 L554.87,95.06 L555.47,95 L556.07,94.9 L556.67,95.25 L557.27,94.27 L557.87,93.54 L558.47,93.34 L559.07,93.45 L559.67,94.13 L560.27,93.13 L560.87,93.28 L561.47,92.09 L562.07,92.26 L562.67,91.42 L563.27,90.13 L563.87,90.01 L564.47,88.71 L565.07,88.08 L565.67,86.96 L566.27,85.16 L566.87,81.88 L567.47,79.3 L568.07,77.65 L568.67,76.96 L569.27,76.12 L569.87,76.2 L570.47,77.81 L571.07,79.41 L571.67,80.97 L572.27,84.03 L572.87,86.09 L573.47,87.38 L574.07,89.12 L574.67,90.07 L575.27,90.63 L575.87,91.89 L576.47,92.23 L577.07,93.05 L577.67,93.16 L578.27,93.77 L578.87,93.71 L579.47,94.8 L580.07,94.42 L580.67,95.18 L581.27,94.32 L581.87,94.55 L582.47,94.94 L583.07,95.29 L583.67,95.17 L584.27,95.05 L584.87,94.92 L585.47,94.91 L586.07,95.37 L586.67,94.8 L587.27,94.8 L587.87,94.8 L588.47,95.55 L589.07,95.91 L589.67,95.89 L590.27,95.35 L590.87,95.71 L591.47,95.91 L592.07,96.18 L592.67,95.55 L593.27,96.21 L593.87,96.99 L594.47,96.29 L595.07,95.66 L595.67,95.63 L596.27,95.85 L596.87,95.71 L597.47,96.38 L598.07,96.26 L598.67,97.06 L599.27,97.37 L599.87,97.01 L600.47,96.74 L601.07,96.79 L601.67,97.38 L602.27,96.63 L602.87,96.54 L603.47,96.96 L604.07,97.07 L604.67,96.98 L605.27,97.21 L605.87,97.59 L606.47,96.41 L607.07,95.73 L607.67,95.89 L608.27,95.64 L608.87,96.25 L609.47,95.93 L610.07,96.73 L610.67,96.27 L611.27,96.34 L611.87,95.82 L612.47,96.89 L613.07,96.28 L613.67,97.08 L614.27,96.8 L614.87,95.99 L615.47,97.14 L616.07,97.32 L616.67,97.32 L617.27,97.28 L617.87,97.69 L618.47,96.53 L619.07,96.09 L619.67,96.55 L620.27,96.85 L620.87,96.63 L621.47,97.4 L622.07,97.81 L622.67,96.6 L623.27,96.96 L623.87,96.83 L624.47,96.05 L625.07,95.59 L625.67,96.19 L626.27,96.93 L626.87,97.15 L627.47,96.24 L628.07,95.82 L628.67,96.77 L629.27,96.19 L629.87,96.69 L630.47,96.75 L631.07,97.27 L631.67,96.37 L632.27,95.73 L632.87,96.72 L633.47,96.5 L634.07,97.12 L634.67,96.3 L635.27,97.25 L635.87,97.64 L636.36,100.1 L503.87,100.1 Z" fill="#f8cda7" stroke="none" stroke-width="1"/>
<path d="M503.87,97.07 L504.47,97.1 L505.07,96.84 L505.67,97.11 L506.27,97.18 L506.87,97.13 L507.47,96.65 L508.07,97.08 L508.67,97.39 L509.27,96.67 L509.87,96.97 L510.47,96.11 L511.07,96.3 L511.67,96.14 L512.27,96.69 L512.87,96.16 L513.47,97.1 L514.07,97.48 L514.67,97.75 L515.27,96.93 L515.87,96.47 L516.47,97.1 L517.07,97.05 L517.67,96.31 L518.27,96.34 L518.87,97.18 L519.47,97.37 L520.07,97.58 L520.67,97.74 L521.27,97.35 L521.87,97.7 L522.47,96.49 L523.07,96.69 L523.67,96.65 L524.27,96.4 L524.87,96.08 L525.47,95.83 L526.07,96.41 L526.67,96.79 L527.27,96.85 L527.87,97.52 L528.47,97.23 L529.07,96.58 L529.67,95.8 L530.27,95.72 L530.87,95.88 L531.47,96.05 L532.07,97.1 L532.67,97.1 L533.27,97.08 L533.87,96.56 L534.47,97.19 L535.07,97.06 L535.67,96.77 L536.27,96.16 L536.87,95.79 L537.47,95.95 L538.07,96.77 L538.67,96.17 L539.27,95.64 L539.87,95.95 L540.47,96.42 L541.07,96.4 L541.67,96.97 L542.27,96.31 L542.87,95.52 L543.47,95.89 L544.07,95.74 L544.67,95.45 L545.27,96.34 L545.87,95.54 L546.47,95.65 L547.07,96.39 L547.67,96.93 L548.27,96.91 L548.87,96.34 L549.47,95.83 L550.07,96.16 L550.67,95.31 L551.27,95.78 L551.87,95.82 L552.47,96.36 L553.07,95.19 L553.67,95.94 L554.27,95 L554.87,95.06 L555.47,95 L556.07,94.9 L556.67,95.25 L557.27,94.27 L557.87,93.54 L558.47,93.34 L559.07,93.45 L559.67,94.13 L560.27,93.13 L560.87,93.28 L561.47,92.09 L562.07,92.26 L562.67,91.42 L563.27,90.13 L563.87,90.01 L564.47,88.71 L565.07,88.08 L565.67,86.96 L566.27,85.16 L566.87,81.88 L567.47,79.3 L568.07,77.65 L568.67,76.96 L569.27,76.12 L569.87,76.2 L570.47,77.81 L571.07,79.41 L571.67,80.97 L572.27,84.03 L572.87,86.09 L573.47,87.38 L574.07,89.12 L574.67,90.07 L575.27,90.63 L575.87,91.89 L576.47,92.23 L577.07,93.05 L577.67,93.16 L578.27,93.77 L578.87,93.71 L579.47,94.8 L580.07,94.42 L580.67,95.18 L581.27,94.32 L581.87,94.55 L582.47,94.94 L583.07,95.29 L583.67,95.17 L584.27,95.05 L584.87,94.92 L585.47,94.91 L586.07,95.37 L586.67,94.8 L587.27,94.8 L587.87,94.8 L588.47,95.55 L589.07,95.91 L589.67,95.89 L590.27,95.35 L590.87,95.71 L591.47,95.91 L592.07,96.18 L592.67,95.55 L593.27,96.21 L593.87,96.99 L594.47,96.29 L595.07,95.66 L595.67,95.63 L596.27,95.85 L596.87,95.71 L597.47,96.38 L598.07,96.26 L598.67,97.06 L599.27,97.37 L599.87,97.01 L600.47,96.74 L601.07,96.79 L601.67,97.38 L602.27,96.63 L602.87,96.54 L603.47,96.96 L604.07,97.07 L604.67,96.98 L605.27,97.21 L605.87,97.59 L606.47,96.41 L607.07,95.73 L607.67,95.89 L608.27,95.64 L608.87,96.25 L609.47,95.93 L610.07,96.73 L610.67,96.27 L611.27,96.34 L611.87,95.82 L612.47,96.89 L613.07,96.28 L613.67,97.08 L614.27,96.8 L614.87,95.99 L615.47,97.14 L616.07,97.32 L616.67,97.32 L617.27,97.28 L617.87,97.69 L618.47,96.53 L619.07,96.09 L619.67,96.55 L620.27,96.85 L620.87,96.63 L621.47,97.4 L622.07,97.81 L622.67,96.6 L623.27,96.96 L623.87,96.83 L624.47,96.05 L625.07,95.59 L625.67,96.19 L626.27,96.93 L626.87,97.15 L627.47,96.24 L628.07,95.82 L628.67,96.77 L629.27,96.19 L629.87,96.69 L630.47,96.75 L631.07,97.27 L631.67,96.37 L632.27,95.73 L632.87,96.72 L633.47,96.5 L634.07,97.12 L634.67,96.3 L635.27,97.25 L635.87,97.64" fill="none" stroke="#f6b882" stroke-width="0.85" stroke-linejoin="round"/>
<path d="M500.2,101.41 L500.8,101.86 L501.4,101.2 L502,100.92 L502.6,101.01 L503.2,101.92 L503.8,101.54 L504.4,100.98 L505,101.44 L505.6,102.22 L506.2,102.39 L506.8,102.35 L507.4,101.73 L508,102.18 L508.6,102.43 L509.2,102.47 L509.8,101.85 L510.4,101.35 L511,101.73 L511.6,101.48 L512.2,101.03 L512.8,101.24 L513.4,101.88 L514,102.09 L514.6,101.26 L515.2,101.24 L515.8,101.8 L516.4,101.54 L517,102.24 L517.6,101.25 L518.2,101.56 L518.8,101.58 L519.4,101.59 L520,102.32 L520.6,101.85 L521.2,102.09 L521.8,102.26 L522.4,101.51 L523,102.21 L523.6,102.26 L524.2,101.58 L524.8,102 L525.4,102.16 L526,101.83 L526.6,102.21 L527.2,101.33 L527.8,100.76 L528.4,101.89 L529,101.82 L529.6,101.34 L530.2,101.65 L530.8,100.99 L531.4,101.3 L532,101.92 L532.6,101.67 L533.2,101.41 L533.8,101.7 L534.4,101.39 L535,101.05 L535.6,101.27 L536.2,101.39 L536.8,100.94 L537.4,100.95 L538,101.19 L538.6,100.66 L539.2,101.55 L539.8,101.09 L540.4,101.76 L541,101.43 L541.6,101.81 L542.2,101.69 L542.8,101.12 L543.4,100.8 L544,100.62 L544.6,101.35 L545.2,101.32 L545.8,101.69 L546.4,101.32 L547,101.24 L547.6,101.87 L548.2,101.32 L548.8,100.85 L549.4,100.79 L550,100.29 L550.6,101.04 L551.2,101.42 L551.8,101.76 L552.4,101.17 L553,100.92 L553.6,100.71 L554.2,100.81 L554.8,99.98 L555.4,100.56 L556,99.49 L556.6,99.34 L557.2,99.16 L557.8,98.52 L558.4,98.83 L559,98.88 L559.6,98.37 L560.2,98.17 L560.8,97.25 L561.4,95.83 L562,94.65 L562.6,93.75 L563.2,92.01 L563.8,91.01 L564.4,88.56 L565,87.62 L565.6,86.65 L566.2,86.4 L566.8,86.02 L567.4,86.48 L568,87.72 L568.6,90.34 L569.2,91.91 L569.8,93.43 L570.4,94.94 L571,95.01 L571.6,96.79 L572.2,97.31 L572.8,97.41 L573.4,97.33 L574,98.73 L574.6,99.11 L575.2,98.99 L575.8,100.1 L576.4,100.44 L577,99.72 L577.6,100.56 L578.2,100.66 L578.8,100.91 L579.4,100.89 L580,101.45 L580.6,101.83 L581.2,100.61 L581.8,100.39 L582.4,100.35 L583,101.1 L583.6,101.47 L584.2,101.23 L584.8,101.59 L585.4,101.46 L586,100.71 L586.6,101.2 L587.2,101.5 L587.8,100.7 L588.4,100.86 L589,101.81 L589.6,101.75 L590.2,101.36 L590.8,102.06 L591.4,101.99 L592,101.44 L592.6,100.92 L593.2,101.07 L593.8,100.71 L594.4,101.17 L595,101.51 L595.6,101.01 L596.2,101.46 L596.8,101.09 L597.4,101.75 L598,101.89 L598.6,102.21 L599.2,101.83 L599.8,102.22 L600.4,102.35 L601,102.41 L601.6,102.06 L602.2,102.13 L602.8,101.96 L603.4,101.06 L604,101.08 L604.6,100.82 L605.2,101.68 L605.8,101.84 L606.4,102.39 L607,101.74 L607.6,101.91 L608.2,102.13 L608.8,102.62 L609.4,102.62 L610,102.51 L610.6,102.26 L611.2,101.34 L611.8,101.19 L612.4,101.79 L613,101.95 L613.6,102.34 L614.2,101.37 L614.8,101.75 L615.4,101.33 L616,101.18 L616.6,100.84 L617.2,101.99 L617.8,102.12 L618.4,102.09 L619,102.53 L619.6,101.55 L620.2,101.9 L620.8,101.41 L621.4,101.54 L622,102.3 L622.6,102.17 L623.2,102.34 L623.8,102.72 L624.4,102.75 L625,102.1 L625.6,102.62 L626.2,102.46 L626.8,102.21 L627.4,101.91 L628,102.37 L628.6,101.75 L629.2,102.1 L629.8,101.59 L630.4,101.42 L631,102.11 L631.6,102.37 L632.2,102.39 L632.8,101.75 L633.4,101.89 L633.86,104.7 L500.2,104.7 Z" fill="#f8d9a8" stroke="none" stroke-width="1"/>
<path d="M500.2,101.41 L500.8,101.86 L501.4,101.2 L502,100.92 L502.6,101.01 L503.2,101.92 L503.8,101.54 L504.4,100.98 L505,101.44 L505.6,102.22 L506.2,102.39 L506.8,102.35 L507.4,101.73 L508,102.18 L508.6,102.43 L509.2,102.47 L509.8,101.85 L510.4,101.35 L511,101.73 L511.6,101.48 L512.2,101.03 L512.8,101.24 L513.4,101.88 L514,102.09 L514.6,101.26 L515.2,101.24 L515.8,101.8 L516.4,101.54 L517,102.24 L517.6,101.25 L518.2,101.56 L518.8,101.58 L519.4,101.59 L520,102.32 L520.6,101.85 L521.2,102.09 L521.8,102.26 L522.4,101.51 L523,102.21 L523.6,102.26 L524.2,101.58 L524.8,102 L525.4,102.16 L526,101.83 L526.6,102.21 L527.2,101.33 L527.8,100.76 L528.4,101.89 L529,101.82 L529.6,101.34 L530.2,101.65 L530.8,100.99 L531.4,101.3 L532,101.92 L532.6,101.67 L533.2,101.41 L533.8,101.7 L534.4,101.39 L535,101.05 L535.6,101.27 L536.2,101.39 L536.8,100.94 L537.4,100.95 L538,101.19 L538.6,100.66 L539.2,101.55 L539.8,101.09 L540.4,101.76 L541,101.43 L541.6,101.81 L542.2,101.69 L542.8,101.12 L543.4,100.8 L544,100.62 L544.6,101.35 L545.2,101.32 L545.8,101.69 L546.4,101.32 L547,101.24 L547.6,101.87 L548.2,101.32 L548.8,100.85 L549.4,100.79 L550,100.29 L550.6,101.04 L551.2,101.42 L551.8,101.76 L552.4,101.17 L553,100.92 L553.6,100.71 L554.2,100.81 L554.8,99.98 L555.4,100.56 L556,99.49 L556.6,99.34 L557.2,99.16 L557.8,98.52 L558.4,98.83 L559,98.88 L559.6,98.37 L560.2,98.17 L560.8,97.25 L561.4,95.83 L562,94.65 L562.6,93.75 L563.2,92.01 L563.8,91.01 L564.4,88.56 L565,87.62 L565.6,86.65 L566.2,86.4 L566.8,86.02 L567.4,86.48 L568,87.72 L568.6,90.34 L569.2,91.91 L569.8,93.43 L570.4,94.94 L571,95.01 L571.6,96.79 L572.2,97.31 L572.8,97.41 L573.4,97.33 L574,98.73 L574.6,99.11 L575.2,98.99 L575.8,100.1 L576.4,100.44 L577,99.72 L577.6,100.56 L578.2,100.66 L578.8,100.91 L579.4,100.89 L580,101.45 L580.6,101.83 L581.2,100.61 L581.8,100.39 L582.4,100.35 L583,101.1 L583.6,101.47 L584.2,101.23 L584.8,101.59 L585.4,101.46 L586,100.71 L586.6,101.2 L587.2,101.5 L587.8,100.7 L588.4,100.86 L589,101.81 L589.6,101.75 L590.2,101.36 L590.8,102.06 L591.4,101.99 L592,101.44 L592.6,100.92 L593.2,101.07 L593.8,100.71 L594.4,101.17 L595,101.51 L595.6,101.01 L596.2,101.46 L596.8,101.09 L597.4,101.75 L598,101.89 L598.6,102.21 L599.2,101.83 L599.8,102.22 L600.4,102.35 L601,102.41 L601.6,102.06 L602.2,102.13 L602.8,101.96 L603.4,101.06 L604,101.08 L604.6,100.82 L605.2,101.68 L605.8,101.84 L606.4,102.39 L607,101.74 L607.6,101.91 L608.2,102.13 L608.8,102.62 L609.4,102.62 L610,102.51 L610.6,102.26 L611.2,101.34 L611.8,101.19 L612.4,101.79 L613,101.95 L613.6,102.34 L614.2,101.37 L614.8,101.75 L615.4,101.33 L616,101.18 L616.6,100.84 L617.2,101.99 L617.8,102.12 L618.4,102.09 L619,102.53 L619.6,101.55 L620.2,101.9 L620.8,101.41 L621.4,101.54 L622,102.3 L622.6,102.17 L623.2,102.34 L623.8,102.72 L624.4,102.75 L625,102.1 L625.6,102.62 L626.2,102.46 L626.8,102.21 L627.4,101.91 L628,102.37 L628.6,101.75 L629.2,102.1 L629.8,101.59 L630.4,101.42 L631,102.11 L631.6,102.37 L632.2,102.39 L632.8,101.75 L633.4,101.89" fill="none" stroke="#f5c880" stroke-width="0.85" stroke-linejoin="round"/>
<path d="M497.01,106.52 L497.61,105.94 L498.21,106.52 L498.81,106.72 L499.41,106.75 L500.01,106.94 L500.61,107.27 L501.21,107.46 L501.81,106.73 L502.41,106.45 L503.01,105.99 L503.61,105.52 L504.21,106.21 L504.81,106.05 L505.41,105.63 L506.01,106.38 L506.61,106.11 L507.21,106 L507.81,105.56 L508.41,105.45 L509.01,106.26 L509.61,106.12 L510.21,106.79 L510.81,106.66 L511.41,106.65 L512.01,107.09 L512.61,106.87 L513.21,106.84 L513.81,106.59 L514.41,106.76 L515.01,107.01 L515.61,106.8 L516.21,106.6 L516.81,106.91 L517.41,106.39 L518.01,106.71 L518.61,107.07 L519.21,106.91 L519.81,106.72 L520.41,106.99 L521.01,106.54 L521.61,106.15 L522.21,106.15 L522.81,105.95 L523.41,106.77 L524.01,106.68 L524.61,106.67 L525.21,107.07 L525.81,106.81 L526.41,107.15 L527.01,106.72 L527.61,106.38 L528.21,106.36 L528.81,106.55 L529.41,106.74 L530.01,107.14 L530.61,106.9 L531.21,106.04 L531.81,106.05 L532.41,106.46 L533.01,106.11 L533.61,106.59 L534.21,106.44 L534.81,106.16 L535.41,105.56 L536.01,106.06 L536.61,106.01 L537.21,105.48 L537.81,105.45 L538.41,105.62 L539.01,105.71 L539.61,106.03 L540.21,106.18 L540.81,106.43 L541.41,105.8 L542.01,105.4 L542.61,105.87 L543.21,105.38 L543.81,106.3 L544.41,106.62 L545.01,106.26 L545.61,106.33 L546.21,106.28 L546.81,105.4 L547.41,106.06 L548.01,106.31 L548.61,106.35 L549.21,105.73 L549.81,105.99 L550.41,106.4 L551.01,105.83 L551.61,105.69 L552.21,105.78 L552.81,105.41 L553.41,104.93 L554.01,104.75 L554.61,104.44 L555.21,104.25 L555.81,103.64 L556.41,102.97 L557.01,103.29 L557.61,103.17 L558.21,102.06 L558.81,101.9 L559.41,100.81 L560.01,99.75 L560.61,98.59 L561.21,96.95 L561.81,95.65 L562.41,95.36 L563.01,94.34 L563.61,94.14 L564.21,94.43 L564.81,95.56 L565.41,97 L566.01,97.78 L566.61,99.04 L567.21,100.55 L567.81,101.67 L568.41,102.44 L569.01,103.27 L569.61,103.44 L570.21,104.22 L570.81,104.84 L571.41,105.27 L572.01,105.53 L572.61,104.94 L573.21,105.52 L573.81,105.41 L574.41,104.98 L575.01,105.21 L575.61,105.8 L576.21,105.17 L576.81,104.89 L577.41,105.89 L578.01,106.14 L578.61,105.95 L579.21,105.48 L579.81,105.81 L580.41,105.56 L581.01,106.08 L581.61,105.72 L582.21,106.08 L582.81,106.27 L583.41,105.79 L584.01,105.45 L584.61,105.31 L585.21,105.6 L585.81,105.96 L586.41,105.75 L587.01,105.77 L587.61,105.51 L588.21,105.42 L588.81,106.3 L589.41,106.4 L590.01,106.06 L590.61,106.49 L591.21,106.77 L591.81,107.15 L592.41,106.57 L593.01,105.8 L593.61,105.37 L594.21,106.3 L594.81,106.02 L595.41,106.24 L596.01,106.07 L596.61,106.3 L597.21,105.69 L597.81,105.32 L598.41,106.41 L599.01,106.05 L599.61,106.68 L600.21,107.11 L600.81,106.99 L601.41,106.32 L602.01,105.64 L602.61,106.48 L603.21,106.62 L603.81,107.11 L604.41,106.65 L605.01,106.5 L605.61,106.58 L606.21,106.7 L606.81,106.1 L607.41,105.75 L608.01,106.33 L608.61,106.47 L609.21,106.24 L609.81,105.92 L610.41,105.47 L611.01,106.05 L611.61,105.93 L612.21,106.07 L612.81,105.79 L613.41,106.54 L614.01,106.88 L614.61,107.14 L615.21,106.15 L615.81,106.59 L616.41,106.48 L617.01,106.93 L617.61,106.88 L618.21,107.26 L618.81,106.72 L619.41,107.02 L620.01,106.51 L620.61,106.74 L621.21,106.92 L621.81,106.66 L622.41,106.69 L623.01,106.85 L623.61,107.21 L624.21,107.38 L624.81,106.33 L625.41,106.6 L626.01,107.05 L626.61,107.14 L627.21,106.77 L627.81,105.89 L628.41,106.53 L629.01,105.95 L629.61,106.18 L630.21,106.39 L630.81,105.96 L631.41,106.3 L631.69,108.7 L497.01,108.7 Z" fill="#f5e0ab" stroke="none" stroke-width="1"/>
<path d="M497.01,106.52 L497.61,105.94 L498.21,106.52 L498.81,106.72 L499.41,106.75 L500.01,106.94 L500.61,107.27 L501.21,107.46 L501.81,106.73 L502.41,106.45 L503.01,105.99 L503.61,105.52 L504.21,106.21 L504.81,106.05 L505.41,105.63 L506.01,106.38 L506.61,106.11 L507.21,106 L507.81,105.56 L508.41,105.45 L509.01,106.26 L509.61,106.12 L510.21,106.79 L510.81,106.66 L511.41,106.65 L512.01,107.09 L512.61,106.87 L513.21,106.84 L513.81,106.59 L514.41,106.76 L515.01,107.01 L515.61,106.8 L516.21,106.6 L516.81,106.91 L517.41,106.39 L518.01,106.71 L518.61,107.07 L519.21,106.91 L519.81,106.72 L520.41,106.99 L521.01,106.54 L521.61,106.15 L522.21,106.15 L522.81,105.95 L523.41,106.77 L524.01,106.68 L524.61,106.67 L525.21,107.07 L525.81,106.81 L526.41,107.15 L527.01,106.72 L527.61,106.38 L528.21,106.36 L528.81,106.55 L529.41,106.74 L530.01,107.14 L530.61,106.9 L531.21,106.04 L531.81,106.05 L532.41,106.46 L533.01,106.11 L533.61,106.59 L534.21,106.44 L534.81,106.16 L535.41,105.56 L536.01,106.06 L536.61,106.01 L537.21,105.48 L537.81,105.45 L538.41,105.62 L539.01,105.71 L539.61,106.03 L540.21,106.18 L540.81,106.43 L541.41,105.8 L542.01,105.4 L542.61,105.87 L543.21,105.38 L543.81,106.3 L544.41,106.62 L545.01,106.26 L545.61,106.33 L546.21,106.28 L546.81,105.4 L547.41,106.06 L548.01,106.31 L548.61,106.35 L549.21,105.73 L549.81,105.99 L550.41,106.4 L551.01,105.83 L551.61,105.69 L552.21,105.78 L552.81,105.41 L553.41,104.93 L554.01,104.75 L554.61,104.44 L555.21,104.25 L555.81,103.64 L556.41,102.97 L557.01,103.29 L557.61,103.17 L558.21,102.06 L558.81,101.9 L559.41,100.81 L560.01,99.75 L560.61,98.59 L561.21,96.95 L561.81,95.65 L562.41,95.36 L563.01,94.34 L563.61,94.14 L564.21,94.43 L564.81,95.56 L565.41,97 L566.01,97.78 L566.61,99.04 L567.21,100.55 L567.81,101.67 L568.41,102.44 L569.01,103.27 L569.61,103.44 L570.21,104.22 L570.81,104.84 L571.41,105.27 L572.01,105.53 L572.61,104.94 L573.21,105.52 L573.81,105.41 L574.41,104.98 L575.01,105.21 L575.61,105.8 L576.21,105.17 L576.81,104.89 L577.41,105.89 L578.01,106.14 L578.61,105.95 L579.21,105.48 L579.81,105.81 L580.41,105.56 L581.01,106.08 L581.61,105.72 L582.21,106.08 L582.81,106.27 L583.41,105.79 L584.01,105.45 L584.61,105.31 L585.21,105.6 L585.81,105.96 L586.41,105.75 L587.01,105.77 L587.61,105.51 L588.21,105.42 L588.81,106.3 L589.41,106.4 L590.01,106.06 L590.61,106.49 L591.21,106.77 L591.81,107.15 L592.41,106.57 L593.01,105.8 L593.61,105.37 L594.21,106.3 L594.81,106.02 L595.41,106.24 L596.01,106.07 L596.61,106.3 L597.21,105.69 L597.81,105.32 L598.41,106.41 L599.01,106.05 L599.61,106.68 L600.21,107.11 L600.81,106.99 L601.41,106.32 L602.01,105.64 L602.61,106.48 L603.21,106.62 L603.81,107.11 L604.41,106.65 L605.01,106.5 L605.61,106.58 L606.21,106.7 L606.81,106.1 L607.41,105.75 L608.01,106.33 L608.61,106.47 L609.21,106.24 L609.81,105.92 L610.41,105.47 L611.01,106.05 L611.61,105.93 L612.21,106.07 L612.81,105.79 L613.41,106.54 L614.01,106.88 L614.61,107.14 L615.21,106.15 L615.81,106.59 L616.41,106.48 L617.01,106.93 L617.61,106.88 L618.21,107.26 L618.81,106.72 L619.41,107.02 L620.01,106.51 L620.61,106.74 L621.21,106.92 L621.81,106.66 L622.41,106.69 L623.01,106.85 L623.61,107.21 L624.21,107.38 L624.81,106.33 L625.41,106.6 L626.01,107.05 L626.61,107.14 L627.21,106.77 L627.81,105.89 L628.41,106.53 L629.01,105.95 L629.61,106.18 L630.21,106.39 L630.81,105.96 L631.41,106.3" fill="none" stroke="#f0d080" stroke-width="0.85" stroke-linejoin="round"/>
<path d="M493.9,111.42 L494.5,111.08 L495.1,110.78 L495.7,110.68 L496.3,111.05 L496.9,110.42 L497.5,110.19 L498.1,109.92 L498.7,110.46 L499.3,110.26 L499.9,110.28 L500.5,110.97 L501.1,111.5 L501.7,111.59 L502.3,111.69 L502.9,111.8 L503.5,111.5 L504.1,110.87 L504.7,111.1 L505.3,110.96 L505.9,111.51 L506.5,111.54 L507.1,110.63 L507.7,111.35 L508.3,111.07 L508.9,110.58 L509.5,110.36 L510.1,110.31 L510.7,110.71 L511.3,110.4 L511.9,110.22 L512.5,110.2 L513.1,109.93 L513.7,110.88 L514.3,110.3 L514.9,110.69 L515.5,110.51 L516.1,110.98 L516.7,110.4 L517.3,111.2 L517.9,110.92 L518.5,111.21 L519.1,111.16 L519.7,111.15 L520.3,110.79 L520.9,110.42 L521.5,110.79 L522.1,110.63 L522.7,110.9 L523.3,111.13 L523.9,110.47 L524.5,110.86 L525.1,111.33 L525.7,111.26 L526.3,110.73 L526.9,111.12 L527.5,110.65 L528.1,110.66 L528.7,110.5 L529.3,111.03 L529.9,111.38 L530.5,111.51 L531.1,111.32 L531.7,111.12 L532.3,111.53 L532.9,111.13 L533.5,111.05 L534.1,111.1 L534.7,110.86 L535.3,110.23 L535.9,110.82 L536.5,110.29 L537.1,110.7 L537.7,110.37 L538.3,110.99 L538.9,110.21 L539.5,110.5 L540.1,109.98 L540.7,110.63 L541.3,110.71 L541.9,110.38 L542.5,110.85 L543.1,110.95 L543.7,110.49 L544.3,109.91 L544.9,110.38 L545.5,110.76 L546.1,110.72 L546.7,109.89 L547.3,110.49 L547.9,110.16 L548.5,110.28 L549.1,109.97 L549.7,110.3 L550.3,109.91 L550.9,109.33 L551.5,109 L552.1,109.03 L552.7,109.1 L553.3,108.94 L553.9,109.28 L554.5,108.39 L555.1,107.92 L555.7,107.73 L556.3,107.06 L556.9,106.67 L557.5,106.09 L558.1,105.5 L558.7,104.22 L559.3,103.12 L559.9,102.27 L560.5,102.3 L561.1,101.73 L561.7,102.08 L562.3,102.63 L562.9,103.48 L563.5,103.99 L564.1,105.64 L564.7,106.42 L565.3,106.45 L565.9,107.01 L566.5,107.99 L567.1,108.12 L567.7,108 L568.3,108.77 L568.9,108.67 L569.5,109.61 L570.1,109.08 L570.7,109.49 L571.3,110.06 L571.9,109.64 L572.5,109.7 L573.1,109.41 L573.7,109.42 L574.3,109.5 L574.9,109.91 L575.5,109.54 L576.1,110.52 L576.7,110.03 L577.3,110 L577.9,110.56 L578.5,110.17 L579.1,110.42 L579.7,110.45 L580.3,110.07 L580.9,110.72 L581.5,110.94 L582.1,110.62 L582.7,111.16 L583.3,110.85 L583.9,110.41 L584.5,110.56 L585.1,110.95 L585.7,110.46 L586.3,110.15 L586.9,110.11 L587.5,110.36 L588.1,110.05 L588.7,110.03 L589.3,110.82 L589.9,110.95 L590.5,111.35 L591.1,111.63 L591.7,111.39 L592.3,110.64 L592.9,110.3 L593.5,111.01 L594.1,111.29 L594.7,111.18 L595.3,110.56 L595.9,110.54 L596.5,110.18 L597.1,111.02 L597.7,110.31 L598.3,110.92 L598.9,110.71 L599.5,110.3 L600.1,110.28 L600.7,110.92 L601.3,110.67 L601.9,110.83 L602.5,111.43 L603.1,111.33 L603.7,111.31 L604.3,110.91 L604.9,111.15 L605.5,110.87 L606.1,110.61 L606.7,111.12 L607.3,111.44 L607.9,110.9 L608.5,110.92 L609.1,111.34 L609.7,111.57 L610.3,110.67 L610.9,110.62 L611.5,110.91 L612.1,111.26 L612.7,110.45 L613.3,110.42 L613.9,110.35 L614.5,110.77 L615.1,111.05 L615.7,111.07 L616.3,111.4 L616.9,110.97 L617.5,111.01 L618.1,110.54 L618.7,110.81 L619.3,110.89 L619.9,110.87 L620.5,110.32 L621.1,110.78 L621.7,110.58 L622.3,111.05 L622.9,110.86 L623.5,111.13 L624.1,110.54 L624.7,110.97 L625.3,110.48 L625.9,110.46 L626.5,110.72 L627.1,110.26 L627.7,110.71 L628.3,110.49 L628.9,110.56 L629.5,110.78 L629.58,112.6 L493.9,112.6 Z" fill="#f0e6a4" stroke="none" stroke-width="1"/>
<path d="M493.9,111.42 L494.5,111.08 L495.1,110.78 L495.7,110.68 L496.3,111.05 L496.9,110.42 L497.5,110.19 L498.1,109.92 L498.7,110.46 L499.3,110.26 L499.9,110.28 L500.5,110.97 L501.1,111.5 L501.7,111.59 L502.3,111.69 L502.9,111.8 L503.5,111.5 L504.1,110.87 L504.7,111.1 L505.3,110.96 L505.9,111.51 L506.5,111.54 L507.1,110.63 L507.7,111.35 L508.3,111.07 L508.9,110.58 L509.5,110.36 L510.1,110.31 L510.7,110.71 L511.3,110.4 L511.9,110.22 L512.5,110.2 L513.1,109.93 L513.7,110.88 L514.3,110.3 L514.9,110.69 L515.5,110.51 L516.1,110.98 L516.7,110.4 L517.3,111.2 L517.9,110.92 L518.5,111.21 L519.1,111.16 L519.7,111.15 L520.3,110.79 L520.9,110.42 L521.5,110.79 L522.1,110.63 L522.7,110.9 L523.3,111.13 L523.9,110.47 L524.5,110.86 L525.1,111.33 L525.7,111.26 L526.3,110.73 L526.9,111.12 L527.5,110.65 L528.1,110.66 L528.7,110.5 L529.3,111.03 L529.9,111.38 L530.5,111.51 L531.1,111.32 L531.7,111.12 L532.3,111.53 L532.9,111.13 L533.5,111.05 L534.1,111.1 L534.7,110.86 L535.3,110.23 L535.9,110.82 L536.5,110.29 L537.1,110.7 L537.7,110.37 L538.3,110.99 L538.9,110.21 L539.5,110.5 L540.1,109.98 L540.7,110.63 L541.3,110.71 L541.9,110.38 L542.5,110.85 L543.1,110.95 L543.7,110.49 L544.3,109.91 L544.9,110.38 L545.5,110.76 L546.1,110.72 L546.7,109.89 L547.3,110.49 L547.9,110.16 L548.5,110.28 L549.1,109.97 L549.7,110.3 L550.3,109.91 L550.9,109.33 L551.5,109 L552.1,109.03 L552.7,109.1 L553.3,108.94 L553.9,109.28 L554.5,108.39 L555.1,107.92 L555.7,107.73 L556.3,107.06 L556.9,106.67 L557.5,106.09 L558.1,105.5 L558.7,104.22 L559.3,103.12 L559.9,102.27 L560.5,102.3 L561.1,101.73 L561.7,102.08 L562.3,102.63 L562.9,103.48 L563.5,103.99 L564.1,105.64 L564.7,106.42 L565.3,106.45 L565.9,107.01 L566.5,107.99 L567.1,108.12 L567.7,108 L568.3,108.77 L568.9,108.67 L569.5,109.61 L570.1,109.08 L570.7,109.49 L571.3,110.06 L571.9,109.64 L572.5,109.7 L573.1,109.41 L573.7,109.42 L574.3,109.5 L574.9,109.91 L575.5,109.54 L576.1,110.52 L576.7,110.03 L577.3,110 L577.9,110.56 L578.5,110.17 L579.1,110.42 L579.7,110.45 L580.3,110.07 L580.9,110.72 L581.5,110.94 L582.1,110.62 L582.7,111.16 L583.3,110.85 L583.9,110.41 L584.5,110.56 L585.1,110.95 L585.7,110.46 L586.3,110.15 L586.9,110.11 L587.5,110.36 L588.1,110.05 L588.7,110.03 L589.3,110.82 L589.9,110.95 L590.5,111.35 L591.1,111.63 L591.7,111.39 L592.3,110.64 L592.9,110.3 L593.5,111.01 L594.1,111.29 L594.7,111.18 L595.3,110.56 L595.9,110.54 L596.5,110.18 L597.1,111.02 L597.7,110.31 L598.3,110.92 L598.9,110.71 L599.5,110.3 L600.1,110.28 L600.7,110.92 L601.3,110.67 L601.9,110.83 L602.5,111.43 L603.1,111.33 L603.7,111.31 L604.3,110.91 L604.9,111.15 L605.5,110.87 L606.1,110.61 L606.7,111.12 L607.3,111.44 L607.9,110.9 L608.5,110.92 L609.1,111.34 L609.7,111.57 L610.3,110.67 L610.9,110.62 L611.5,110.91 L612.1,111.26 L612.7,110.45 L613.3,110.42 L613.9,110.35 L614.5,110.77 L615.1,111.05 L615.7,111.07 L616.3,111.4 L616.9,110.97 L617.5,111.01 L618.1,110.54 L618.7,110.81 L619.3,110.89 L619.9,110.87 L620.5,110.32 L621.1,110.78 L621.7,110.58 L622.3,111.05 L622.9,110.86 L623.5,111.13 L624.1,110.54 L624.7,110.97 L625.3,110.48 L625.9,110.46 L626.5,110.72 L627.1,110.26 L627.7,110.71 L628.3,110.49 L628.9,110.56 L629.5,110.78" fill="none" stroke="#e8d870" stroke-width="0.85" stroke-linejoin="round"/>
<path d="M490.47,116.06 L491.07,115.91 L491.67,115.98 L492.27,115.84 L492.87,115.2 L493.47,115.62 L494.07,115.38 L494.67,115.28 L495.27,115.71 L495.87,115.74 L496.47,116.06 L497.07,115.38 L497.67,115.75 L498.27,115.75 L498.87,115.83 L499.47,115.34 L500.07,115.07 L500.67,115.22 L501.27,115.34 L501.87,115.9 L502.47,115.29 L503.07,115.88 L503.67,115.87 L504.27,115.86 L504.87,115.46 L505.47,115.32 L506.07,115.61 L506.67,115.14 L507.27,114.85 L507.87,115.73 L508.47,115.5 L509.07,115.56 L509.67,115.71 L510.27,115.67 L510.87,115.81 L511.47,115.49 L512.07,115.4 L512.67,114.95 L513.27,114.72 L513.87,114.58 L514.47,115.18 L515.07,114.99 L515.67,115.1 L516.27,115.09 L516.87,114.76 L517.47,115.63 L518.07,115.62 L518.67,115.68 L519.27,115.43 L519.87,115.79 L520.47,115.11 L521.07,115.64 L521.67,115.72 L522.27,116.01 L522.87,115.88 L523.47,115.42 L524.07,115.93 L524.67,116.08 L525.27,115.62 L525.87,115.42 L526.47,115.19 L527.07,115.61 L527.67,115.2 L528.27,115.08 L528.87,114.97 L529.47,115.64 L530.07,115.58 L530.67,116.05 L531.27,115.35 L531.87,114.9 L532.47,114.72 L533.07,115.6 L533.67,115.67 L534.27,115.5 L534.87,115.41 L535.47,115.82 L536.07,115.27 L536.67,115.53 L537.27,115.43 L537.87,115.79 L538.47,115.48 L539.07,115.79 L539.67,115.99 L540.27,115.6 L540.87,115.64 L541.47,115.11 L542.07,115.42 L542.67,115.37 L543.27,115.73 L543.87,115.7 L544.47,115.41 L545.07,115.11 L545.67,115.05 L546.27,114.54 L546.87,115.08 L547.47,114.47 L548.07,114.89 L548.67,114.13 L549.27,114.17 L549.87,114.23 L550.47,113.93 L551.07,113.38 L551.67,112.84 L552.27,113 L552.87,113.31 L553.47,113.03 L554.07,111.84 L554.67,110.96 L555.27,110.12 L555.87,109.88 L556.47,108.92 L557.07,108.7 L557.67,108.4 L558.27,108.2 L558.87,107.72 L559.47,108.32 L560.07,108.87 L560.67,110.47 L561.27,111.22 L561.87,112.26 L562.47,112.82 L563.07,113.46 L563.67,113.04 L564.27,113.62 L564.87,113.84 L565.47,113.86 L566.07,113.69 L566.67,113.6 L567.27,114.03 L567.87,114.37 L568.47,114.13 L569.07,114.62 L569.67,115 L570.27,114.73 L570.87,115.15 L571.47,115.26 L572.07,115.27 L572.67,115.24 L573.27,115.37 L573.87,115.37 L574.47,115.36 L575.07,115.81 L575.67,115.17 L576.27,115.72 L576.87,115.49 L577.47,115.36 L578.07,115.47 L578.67,115.72 L579.27,115.99 L579.87,115.83 L580.47,115.82 L581.07,115.63 L581.67,115.82 L582.27,115.35 L582.87,115.4 L583.47,115.97 L584.07,115.81 L584.67,115.12 L585.27,115.83 L585.87,115.55 L586.47,115 L587.07,115.39 L587.67,115.32 L588.27,115.55 L588.87,115.74 L589.47,115.5 L590.07,115.4 L590.67,115.65 L591.27,115.58 L591.87,115.53 L592.47,115.24 L593.07,115.87 L593.67,116.15 L594.27,116.11 L594.87,116.07 L595.47,115.47 L596.07,115.58 L596.67,115.16 L597.27,115.45 L597.87,115.73 L598.47,115.43 L599.07,115.94 L599.67,115.2 L600.27,115 L600.87,115.46 L601.47,115.71 L602.07,115.27 L602.67,115.09 L603.27,115.16 L603.87,115.85 L604.47,115.41 L605.07,115.98 L605.67,115.63 L606.27,115.53 L606.87,115.07 L607.47,115.16 L608.07,115.89 L608.67,115.24 L609.27,115.12 L609.87,115.25 L610.47,115.95 L611.07,115.5 L611.67,115.62 L612.27,115.39 L612.87,114.94 L613.47,114.79 L614.07,115.65 L614.67,115.3 L615.27,115.5 L615.87,115.25 L616.47,115.55 L617.07,115.62 L617.67,115.66 L618.27,116.04 L618.87,116.01 L619.47,115.53 L620.07,116.03 L620.67,116.23 L621.27,115.53 L621.87,115.37 L622.47,115.42 L623.07,115.92 L623.67,116.17 L624.27,116.09 L624.87,115.33 L625.47,115.38 L626.07,115.01 L626.67,115.62 L627.24,116.9 L490.47,116.9 Z" fill="#e7eba7" stroke="none" stroke-width="1"/>
<path d="M490.47,116.06 L491.07,115.91 L491.67,115.98 L492.27,115.84 L492.87,115.2 L493.47,115.62 L494.07,115.38 L494.67,115.28 L495.27,115.71 L495.87,115.74 L496.47,116.06 L497.07,115.38 L497.67,115.75 L498.27,115.75 L498.87,115.83 L499.47,115.34 L500.07,115.07 L500.67,115.22 L501.27,115.34 L501.87,115.9 L502.47,115.29 L503.07,115.88 L503.67,115.87 L504.27,115.86 L504.87,115.46 L505.47,115.32 L506.07,115.61 L506.67,115.14 L507.27,114.85 L507.87,115.73 L508.47,115.5 L509.07,115.56 L509.67,115.71 L510.27,115.67 L510.87,115.81 L511.47,115.49 L512.07,115.4 L512.67,114.95 L513.27,114.72 L513.87,114.58 L514.47,115.18 L515.07,114.99 L515.67,115.1 L516.27,115.09 L516.87,114.76 L517.47,115.63 L518.07,115.62 L518.67,115.68 L519.27,115.43 L519.87,115.79 L520.47,115.11 L521.07,115.64 L521.67,115.72 L522.27,116.01 L522.87,115.88 L523.47,115.42 L524.07,115.93 L524.67,116.08 L525.27,115.62 L525.87,115.42 L526.47,115.19 L527.07,115.61 L527.67,115.2 L528.27,115.08 L528.87,114.97 L529.47,115.64 L530.07,115.58 L530.67,116.05 L531.27,115.35 L531.87,114.9 L532.47,114.72 L533.07,115.6 L533.67,115.67 L534.27,115.5 L534.87,115.41 L535.47,115.82 L536.07,115.27 L536.67,115.53 L537.27,115.43 L537.87,115.79 L538.47,115.48 L539.07,115.79 L539.67,115.99 L540.27,115.6 L540.87,115.64 L541.47,115.11 L542.07,115.42 L542.67,115.37 L543.27,115.73 L543.87,115.7 L544.47,115.41 L545.07,115.11 L545.67,115.05 L546.27,114.54 L546.87,115.08 L547.47,114.47 L548.07,114.89 L548.67,114.13 L549.27,114.17 L549.87,114.23 L550.47,113.93 L551.07,113.38 L551.67,112.84 L552.27,113 L552.87,113.31 L553.47,113.03 L554.07,111.84 L554.67,110.96 L555.27,110.12 L555.87,109.88 L556.47,108.92 L557.07,108.7 L557.67,108.4 L558.27,108.2 L558.87,107.72 L559.47,108.32 L560.07,108.87 L560.67,110.47 L561.27,111.22 L561.87,112.26 L562.47,112.82 L563.07,113.46 L563.67,113.04 L564.27,113.62 L564.87,113.84 L565.47,113.86 L566.07,113.69 L566.67,113.6 L567.27,114.03 L567.87,114.37 L568.47,114.13 L569.07,114.62 L569.67,115 L570.27,114.73 L570.87,115.15 L571.47,115.26 L572.07,115.27 L572.67,115.24 L573.27,115.37 L573.87,115.37 L574.47,115.36 L575.07,115.81 L575.67,115.17 L576.27,115.72 L576.87,115.49 L577.47,115.36 L578.07,115.47 L578.67,115.72 L579.27,115.99 L579.87,115.83 L580.47,115.82 L581.07,115.63 L581.67,115.82 L582.27,115.35 L582.87,115.4 L583.47,115.97 L584.07,115.81 L584.67,115.12 L585.27,115.83 L585.87,115.55 L586.47,115 L587.07,115.39 L587.67,115.32 L588.27,115.55 L588.87,115.74 L589.47,115.5 L590.07,115.4 L590.67,115.65 L591.27,115.58 L591.87,115.53 L592.47,115.24 L593.07,115.87 L593.67,116.15 L594.27,116.11 L594.87,116.07 L595.47,115.47 L596.07,115.58 L596.67,115.16 L597.27,115.45 L597.87,115.73 L598.47,115.43 L599.07,115.94 L599.67,115.2 L600.27,115 L600.87,115.46 L601.47,115.71 L602.07,115.27 L602.67,115.09 L603.27,115.16 L603.87,115.85 L604.47,115.41 L605.07,115.98 L605.67,115.63 L606.27,115.53 L606.87,115.07 L607.47,115.16 L608.07,115.89 L608.67,115.24 L609.27,115.12 L609.87,115.25 L610.47,115.95 L611.07,115.5 L611.67,115.62 L612.27,115.39 L612.87,114.94 L613.47,114.79 L614.07,115.65 L614.67,115.3 L615.27,115.5 L615.87,115.25 L616.47,115.55 L617.07,115.62 L617.67,115.66 L618.27,116.04 L618.87,116.01 L619.47,115.53 L620.07,116.03 L620.67,116.23 L621.27,115.53 L621.87,115.37 L622.47,115.42 L623.07,115.92 L623.67,116.17 L624.27,116.09 L624.87,115.33 L625.47,115.38 L626.07,115.01 L626.67,115.62" fill="none" stroke="#d8e070" stroke-width="0.85" stroke-linejoin="round"/>
<path d="M486.89,120.46 L487.49,120.39 L488.09,120.04 L488.69,120.59 L489.29,120.11 L489.89,120.27 L490.49,120.79 L491.09,120.65 L491.69,120.64 L492.29,120.33 L492.89,119.93 L493.49,120.16 L494.09,120.08 L494.69,120.34 L495.29,120.08 L495.89,120.62 L496.49,120.25 L497.09,120.64 L497.69,120.42 L498.29,120.69 L498.89,120.68 L499.49,120.86 L500.09,120.76 L500.69,120.47 L501.29,120.4 L501.89,120.49 L502.49,120.36 L503.09,120.02 L503.69,120.33 L504.29,120.26 L504.89,120.33 L505.49,119.87 L506.09,120.28 L506.69,120.12 L507.29,120.51 L507.89,120.67 L508.49,120.28 L509.09,120.24 L509.69,120.54 L510.29,120.88 L510.89,120.29 L511.49,120.44 L512.09,120.18 L512.69,120.33 L513.29,120.22 L513.89,120.22 L514.49,119.81 L515.09,119.66 L515.69,120.04 L516.29,120.2 L516.89,120.54 L517.49,120.18 L518.09,120.65 L518.69,120.68 L519.29,120.16 L519.89,120.7 L520.49,120.31 L521.09,120.24 L521.69,120.23 L522.29,120.43 L522.89,120.72 L523.49,120.06 L524.09,119.91 L524.69,119.8 L525.29,120.44 L525.89,120.08 L526.49,120.46 L527.09,120.67 L527.69,120.43 L528.29,120.24 L528.89,120.63 L529.49,120.17 L530.09,120.12 L530.69,119.78 L531.29,119.58 L531.89,119.71 L532.49,120.09 L533.09,119.69 L533.69,119.72 L534.29,120.15 L534.89,119.8 L535.49,119.74 L536.09,120.17 L536.69,120.39 L537.29,120.72 L537.89,120.36 L538.49,120.45 L539.09,120.44 L539.69,120.46 L540.29,120.57 L540.89,120.26 L541.49,120.29 L542.09,120.28 L542.69,120.25 L543.29,119.97 L543.89,119.43 L544.49,119.83 L545.09,119.29 L545.69,118.97 L546.29,118.99 L546.89,118.98 L547.49,118.7 L548.09,118.65 L548.69,118.37 L549.29,117.81 L549.89,117.48 L550.49,117.59 L551.09,117.58 L551.69,116.37 L552.29,115.97 L552.89,114.96 L553.49,114.66 L554.09,114.05 L554.69,113.75 L555.29,113.39 L555.89,113.31 L556.49,114.12 L557.09,114.87 L557.69,115.83 L558.29,116.74 L558.89,116.73 L559.49,117.76 L560.09,117.62 L560.69,117.97 L561.29,118.84 L561.89,118.54 L562.49,119.27 L563.09,119.23 L563.69,119.72 L564.29,119.14 L564.89,119.58 L565.49,119.27 L566.09,119.95 L566.69,119.72 L567.29,120.22 L567.89,120.54 L568.49,120.17 L569.09,119.59 L569.69,119.62 L570.29,119.47 L570.89,119.48 L571.49,119.76 L572.09,120.36 L572.69,120.21 L573.29,120.49 L573.89,120.3 L574.49,120.38 L575.09,120.28 L575.69,120.54 L576.29,120.17 L576.89,120.27 L577.49,120.26 L578.09,120.67 L578.69,120.47 L579.29,120.3 L579.89,119.81 L580.49,119.97 L581.09,120.48 L581.69,120.58 L582.29,120.59 L582.89,120.24 L583.49,119.82 L584.09,119.58 L584.69,119.49 L585.29,119.47 L585.89,119.53 L586.49,119.48 L587.09,120.38 L587.69,120.36 L588.29,120.25 L588.89,120.1 L589.49,120.1 L590.09,120.1 L590.69,119.78 L591.29,120.47 L591.89,120.38 L592.49,119.9 L593.09,120.58 L593.69,120.85 L594.29,120.23 L594.89,119.83 L595.49,120.56 L596.09,120.92 L596.69,120.3 L597.29,120.14 L597.89,120.22 L598.49,120.21 L599.09,120.02 L599.69,119.88 L600.29,120.62 L600.89,120.92 L601.49,120.34 L602.09,119.88 L602.69,119.78 L603.29,120.16 L603.89,120.43 L604.49,120.55 L605.09,120.94 L605.69,120.38 L606.29,120.61 L606.89,120.4 L607.49,120.36 L608.09,120.53 L608.69,120.27 L609.29,120.37 L609.89,120.63 L610.49,120.12 L611.09,120.57 L611.69,120.82 L612.29,120.84 L612.89,120.63 L613.49,120.22 L614.09,120.46 L614.69,120.68 L615.29,120.37 L615.89,120.61 L616.49,120.47 L617.09,120.67 L617.69,120.15 L618.29,120.58 L618.89,120.74 L619.49,120.76 L620.09,120.74 L620.69,120.33 L621.29,120.18 L621.89,119.99 L622.49,120.14 L623.09,120.68 L623.69,120.27 L624.29,120.58 L624.8,121.4 L486.89,121.4 Z" fill="#d4ecaa" stroke="none" stroke-width="1"/>
<path d="M486.89,120.46 L487.49,120.39 L488.09,120.04 L488.69,120.59 L489.29,120.11 L489.89,120.27 L490.49,120.79 L491.09,120.65 L491.69,120.64 L492.29,120.33 L492.89,119.93 L493.49,120.16 L494.09,120.08 L494.69,120.34 L495.29,120.08 L495.89,120.62 L496.49,120.25 L497.09,120.64 L497.69,120.42 L498.29,120.69 L498.89,120.68 L499.49,120.86 L500.09,120.76 L500.69,120.47 L501.29,120.4 L501.89,120.49 L502.49,120.36 L503.09,120.02 L503.69,120.33 L504.29,120.26 L504.89,120.33 L505.49,119.87 L506.09,120.28 L506.69,120.12 L507.29,120.51 L507.89,120.67 L508.49,120.28 L509.09,120.24 L509.69,120.54 L510.29,120.88 L510.89,120.29 L511.49,120.44 L512.09,120.18 L512.69,120.33 L513.29,120.22 L513.89,120.22 L514.49,119.81 L515.09,119.66 L515.69,120.04 L516.29,120.2 L516.89,120.54 L517.49,120.18 L518.09,120.65 L518.69,120.68 L519.29,120.16 L519.89,120.7 L520.49,120.31 L521.09,120.24 L521.69,120.23 L522.29,120.43 L522.89,120.72 L523.49,120.06 L524.09,119.91 L524.69,119.8 L525.29,120.44 L525.89,120.08 L526.49,120.46 L527.09,120.67 L527.69,120.43 L528.29,120.24 L528.89,120.63 L529.49,120.17 L530.09,120.12 L530.69,119.78 L531.29,119.58 L531.89,119.71 L532.49,120.09 L533.09,119.69 L533.69,119.72 L534.29,120.15 L534.89,119.8 L535.49,119.74 L536.09,120.17 L536.69,120.39 L537.29,120.72 L537.89,120.36 L538.49,120.45 L539.09,120.44 L539.69,120.46 L540.29,120.57 L540.89,120.26 L541.49,120.29 L542.09,120.28 L542.69,120.25 L543.29,119.97 L543.89,119.43 L544.49,119.83 L545.09,119.29 L545.69,118.97 L546.29,118.99 L546.89,118.98 L547.49,118.7 L548.09,118.65 L548.69,118.37 L549.29,117.81 L549.89,117.48 L550.49,117.59 L551.09,117.58 L551.69,116.37 L552.29,115.97 L552.89,114.96 L553.49,114.66 L554.09,114.05 L554.69,113.75 L555.29,113.39 L555.89,113.31 L556.49,114.12 L557.09,114.87 L557.69,115.83 L558.29,116.74 L558.89,116.73 L559.49,117.76 L560.09,117.62 L560.69,117.97 L561.29,118.84 L561.89,118.54 L562.49,119.27 L563.09,119.23 L563.69,119.72 L564.29,119.14 L564.89,119.58 L565.49,119.27 L566.09,119.95 L566.69,119.72 L567.29,120.22 L567.89,120.54 L568.49,120.17 L569.09,119.59 L569.69,119.62 L570.29,119.47 L570.89,119.48 L571.49,119.76 L572.09,120.36 L572.69,120.21 L573.29,120.49 L573.89,120.3 L574.49,120.38 L575.09,120.28 L575.69,120.54 L576.29,120.17 L576.89,120.27 L577.49,120.26 L578.09,120.67 L578.69,120.47 L579.29,120.3 L579.89,119.81 L580.49,119.97 L581.09,120.48 L581.69,120.58 L582.29,120.59 L582.89,120.24 L583.49,119.82 L584.09,119.58 L584.69,119.49 L585.29,119.47 L585.89,119.53 L586.49,119.48 L587.09,120.38 L587.69,120.36 L588.29,120.25 L588.89,120.1 L589.49,120.1 L590.09,120.1 L590.69,119.78 L591.29,120.47 L591.89,120.38 L592.49,119.9 L593.09,120.58 L593.69,120.85 L594.29,120.23 L594.89,119.83 L595.49,120.56 L596.09,120.92 L596.69,120.3 L597.29,120.14 L597.89,120.22 L598.49,120.21 L599.09,120.02 L599.69,119.88 L600.29,120.62 L600.89,120.92 L601.49,120.34 L602.09,119.88 L602.69,119.78 L603.29,120.16 L603.89,120.43 L604.49,120.55 L605.09,120.94 L605.69,120.38 L606.29,120.61 L606.89,120.4 L607.49,120.36 L608.09,120.53 L608.69,120.27 L609.29,120.37 L609.89,120.63 L610.49,120.12 L611.09,120.57 L611.69,120.82 L612.29,120.84 L612.89,120.63 L613.49,120.22 L614.09,120.46 L614.69,120.68 L615.29,120.37 L615.89,120.61 L616.49,120.47 L617.09,120.67 L617.69,120.15 L618.29,120.58 L618.89,120.74 L619.49,120.76 L620.09,120.74 L620.69,120.33 L621.29,120.18 L621.89,119.99 L622.49,120.14 L623.09,120.68 L623.69,120.27 L624.29,120.58" fill="none" stroke="#b8e070" stroke-width="0.85" stroke-linejoin="round"/>
<path d="M483.14,125.54 L483.74,125.49 L484.34,124.95 L484.94,125.23 L485.54,125.38 L486.14,124.97 L486.74,124.68 L487.34,125.08 L487.94,125.51 L488.54,125.14 L489.14,124.96 L489.74,125.26 L490.34,125.01 L490.94,125.25 L491.54,125.46 L492.14,125.28 L492.74,125.06 L493.34,125.19 L493.94,124.95 L494.54,125.55 L495.14,125.41 L495.74,125.45 L496.34,125.75 L496.94,125.14 L497.54,125.53 L498.14,125.66 L498.74,125.13 L499.34,124.79 L499.94,124.64 L500.54,125.1 L501.14,124.8 L501.74,125.35 L502.34,125.12 L502.94,124.79 L503.54,125.31 L504.14,125.61 L504.74,125.28 L505.34,124.93 L505.94,124.89 L506.54,124.68 L507.14,125.01 L507.74,125.25 L508.34,125.59 L508.94,125.63 L509.54,125.05 L510.14,125.54 L510.74,125.68 L511.34,125.6 L511.94,125.83 L512.54,125.71 L513.14,125.76 L513.74,125.84 L514.34,125.52 L514.94,125.34 L515.54,125.23 L516.14,125 L516.74,125.09 L517.34,124.76 L517.94,125.37 L518.54,125.55 L519.14,125.77 L519.74,125.67 L520.34,125.21 L520.94,124.83 L521.54,125.02 L522.14,125.42 L522.74,125.47 L523.34,125.27 L523.94,125.42 L524.54,125.05 L525.14,124.69 L525.74,124.98 L526.34,124.99 L526.94,124.77 L527.54,125 L528.14,125.36 L528.74,124.86 L529.34,124.57 L529.94,125.28 L530.54,124.97 L531.14,125.13 L531.74,125.52 L532.34,125.61 L532.94,125.64 L533.54,125.14 L534.14,125.36 L534.74,125.62 L535.34,125.57 L535.94,125.02 L536.54,124.99 L537.14,124.83 L537.74,124.9 L538.34,125.18 L538.94,125.44 L539.54,125.3 L540.14,125.44 L540.74,125.28 L541.34,124.85 L541.94,124.82 L542.54,124.67 L543.14,124.4 L543.74,124.49 L544.34,124.42 L544.94,123.83 L545.54,123.7 L546.14,123.66 L546.74,123.37 L547.34,123.12 L547.94,122.89 L548.54,122 L549.14,121.88 L549.74,120.89 L550.34,120.2 L550.94,119.64 L551.54,119.96 L552.14,119.92 L552.74,119.72 L553.34,120.55 L553.94,121.4 L554.54,121.61 L555.14,122.39 L555.74,122.67 L556.34,123.35 L556.94,123.12 L557.54,123.7 L558.14,124.25 L558.74,124.07 L559.34,124.35 L559.94,124.35 L560.54,124.45 L561.14,124.16 L561.74,124.41 L562.34,124.68 L562.94,125.18 L563.54,125.01 L564.14,125.15 L564.74,124.96 L565.34,124.83 L565.94,124.93 L566.54,125.33 L567.14,125.17 L567.74,125.12 L568.34,124.96 L568.94,124.59 L569.54,125.03 L570.14,125.11 L570.74,125.48 L571.34,125.03 L571.94,125.32 L572.54,124.93 L573.14,124.77 L573.74,125.18 L574.34,124.81 L574.94,124.98 L575.54,125.14 L576.14,125.11 L576.74,124.75 L577.34,124.98 L577.94,125.1 L578.54,125.34 L579.14,124.96 L579.74,125.08 L580.34,125.29 L580.94,125.52 L581.54,125.62 L582.14,125.12 L582.74,124.9 L583.34,124.64 L583.94,124.56 L584.54,124.73 L585.14,124.72 L585.74,124.79 L586.34,124.74 L586.94,124.72 L587.54,125.27 L588.14,124.98 L588.74,125.29 L589.34,125.5 L589.94,125 L590.54,125.55 L591.14,125.39 L591.74,125.46 L592.34,125.1 L592.94,125.08 L593.54,124.8 L594.14,124.64 L594.74,124.82 L595.34,125.43 L595.94,125.2 L596.54,125.58 L597.14,124.99 L597.74,124.79 L598.34,125.2 L598.94,125.51 L599.54,125.22 L600.14,125.01 L600.74,124.71 L601.34,124.88 L601.94,125.41 L602.54,125.14 L603.14,125.6 L603.74,125.11 L604.34,124.95 L604.94,124.86 L605.54,124.73 L606.14,124.94 L606.74,124.71 L607.34,124.87 L607.94,125.08 L608.54,125.28 L609.14,125.41 L609.74,125.77 L610.34,125.83 L610.94,125.29 L611.54,125.53 L612.14,125.27 L612.74,125.03 L613.34,124.98 L613.94,125.12 L614.54,125.36 L615.14,125.53 L615.74,125.68 L616.34,125.35 L616.94,125.15 L617.54,124.82 L618.14,125.2 L618.74,124.86 L619.34,124.7 L619.94,125.18 L620.54,124.83 L621.14,124.95 L621.74,124.7 L622.25,126.1 L483.14,126.1 Z" fill="#bdeaaa" stroke="none" stroke-width="1"/>
<path d="M483.14,125.54 L483.74,125.49 L484.34,124.95 L484.94,125.23 L485.54,125.38 L486.14,124.97 L486.74,124.68 L487.34,125.08 L487.94,125.51 L488.54,125.14 L489.14,124.96 L489.74,125.26 L490.34,125.01 L490.94,125.25 L491.54,125.46 L492.14,125.28 L492.74,125.06 L493.34,125.19 L493.94,124.95 L494.54,125.55 L495.14,125.41 L495.74,125.45 L496.34,125.75 L496.94,125.14 L497.54,125.53 L498.14,125.66 L498.74,125.13 L499.34,124.79 L499.94,124.64 L500.54,125.1 L501.14,124.8 L501.74,125.35 L502.34,125.12 L502.94,124.79 L503.54,125.31 L504.14,125.61 L504.74,125.28 L505.34,124.93 L505.94,124.89 L506.54,124.68 L507.14,125.01 L507.74,125.25 L508.34,125.59 L508.94,125.63 L509.54,125.05 L510.14,125.54 L510.74,125.68 L511.34,125.6 L511.94,125.83 L512.54,125.71 L513.14,125.76 L513.74,125.84 L514.34,125.52 L514.94,125.34 L515.54,125.23 L516.14,125 L516.74,125.09 L517.34,124.76 L517.94,125.37 L518.54,125.55 L519.14,125.77 L519.74,125.67 L520.34,125.21 L520.94,124.83 L521.54,125.02 L522.14,125.42 L522.74,125.47 L523.34,125.27 L523.94,125.42 L524.54,125.05 L525.14,124.69 L525.74,124.98 L526.34,124.99 L526.94,124.77 L527.54,125 L528.14,125.36 L528.74,124.86 L529.34,124.57 L529.94,125.28 L530.54,124.97 L531.14,125.13 L531.74,125.52 L532.34,125.61 L532.94,125.64 L533.54,125.14 L534.14,125.36 L534.74,125.62 L535.34,125.57 L535.94,125.02 L536.54,124.99 L537.14,124.83 L537.74,124.9 L538.34,125.18 L538.94,125.44 L539.54,125.3 L540.14,125.44 L540.74,125.28 L541.34,124.85 L541.94,124.82 L542.54,124.67 L543.14,124.4 L543.74,124.49 L544.34,124.42 L544.94,123.83 L545.54,123.7 L546.14,123.66 L546.74,123.37 L547.34,123.12 L547.94,122.89 L548.54,122 L549.14,121.88 L549.74,120.89 L550.34,120.2 L550.94,119.64 L551.54,119.96 L552.14,119.92 L552.74,119.72 L553.34,120.55 L553.94,121.4 L554.54,121.61 L555.14,122.39 L555.74,122.67 L556.34,123.35 L556.94,123.12 L557.54,123.7 L558.14,124.25 L558.74,124.07 L559.34,124.35 L559.94,124.35 L560.54,124.45 L561.14,124.16 L561.74,124.41 L562.34,124.68 L562.94,125.18 L563.54,125.01 L564.14,125.15 L564.74,124.96 L565.34,124.83 L565.94,124.93 L566.54,125.33 L567.14,125.17 L567.74,125.12 L568.34,124.96 L568.94,124.59 L569.54,125.03 L570.14,125.11 L570.74,125.48 L571.34,125.03 L571.94,125.32 L572.54,124.93 L573.14,124.77 L573.74,125.18 L574.34,124.81 L574.94,124.98 L575.54,125.14 L576.14,125.11 L576.74,124.75 L577.34,124.98 L577.94,125.1 L578.54,125.34 L579.14,124.96 L579.74,125.08 L580.34,125.29 L580.94,125.52 L581.54,125.62 L582.14,125.12 L582.74,124.9 L583.34,124.64 L583.94,124.56 L584.54,124.73 L585.14,124.72 L585.74,124.79 L586.34,124.74 L586.94,124.72 L587.54,125.27 L588.14,124.98 L588.74,125.29 L589.34,125.5 L589.94,125 L590.54,125.55 L591.14,125.39 L591.74,125.46 L592.34,125.1 L592.94,125.08 L593.54,124.8 L594.14,124.64 L594.74,124.82 L595.34,125.43 L595.94,125.2 L596.54,125.58 L597.14,124.99 L597.74,124.79 L598.34,125.2 L598.94,125.51 L599.54,125.22 L600.14,125.01 L600.74,124.71 L601.34,124.88 L601.94,125.41 L602.54,125.14 L603.14,125.6 L603.74,125.11 L604.34,124.95 L604.94,124.86 L605.54,124.73 L606.14,124.94 L606.74,124.71 L607.34,124.87 L607.94,125.08 L608.54,125.28 L609.14,125.41 L609.74,125.77 L610.34,125.83 L610.94,125.29 L611.54,125.53 L612.14,125.27 L612.74,125.03 L613.34,124.98 L613.94,125.12 L614.54,125.36 L615.14,125.53 L615.74,125.68 L616.34,125.35 L616.94,125.15 L617.54,124.82 L618.14,125.2 L618.74,124.86 L619.34,124.7 L619.94,125.18 L620.54,124.83 L621.14,124.95 L621.74,124.7" fill="none" stroke="#8cdc6c" stroke-width="0.85" stroke-linejoin="round"/>
<path d="M479.07,130.27 L479.67,130.51 L480.27,130.67 L480.87,130.56 L481.47,130.53 L482.07,130.88 L482.67,130.39 L483.27,130.41 L483.87,130.47 L484.47,130.28 L485.07,130.58 L485.67,130.77 L486.27,130.56 L486.87,130.73 L487.47,130.74 L488.07,130.96 L488.67,131 L489.27,130.9 L489.87,130.67 L490.47,130.21 L491.07,130.24 L491.67,130.43 L492.27,130.53 L492.87,130.71 L493.47,130.62 L494.07,130.18 L494.67,130.63 L495.27,130.61 L495.87,130.39 L496.47,130.22 L497.07,130.31 L497.67,130.28 L498.27,130.03 L498.87,129.93 L499.47,130.4 L500.07,130.4 L500.67,130.04 L501.27,130.23 L501.87,130.6 L502.47,130.32 L503.07,130.75 L503.67,130.89 L504.27,130.64 L504.87,130.73 L505.47,130.42 L506.07,130.26 L506.67,130.51 L507.27,130.27 L507.87,130.25 L508.47,130.19 L509.07,130.36 L509.67,130.46 L510.27,130.77 L510.87,130.63 L511.47,130.18 L512.07,130 L512.67,130.58 L513.27,130.86 L513.87,130.84 L514.47,130.48 L515.07,130.51 L515.67,130.77 L516.27,130.66 L516.87,130.49 L517.47,130.27 L518.07,130.43 L518.67,130.31 L519.27,130.22 L519.87,130.23 L520.47,130.68 L521.07,130.38 L521.67,130.69 L522.27,130.9 L522.87,130.67 L523.47,130.92 L524.07,131 L524.67,130.78 L525.27,130.6 L525.87,130.8 L526.47,130.22 L527.07,130.01 L527.67,130.19 L528.27,130.19 L528.87,130.41 L529.47,129.98 L530.07,130.45 L530.67,130.53 L531.27,130.63 L531.87,130.15 L532.47,130.19 L533.07,130.28 L533.67,130.33 L534.27,129.94 L534.87,130.24 L535.47,129.95 L536.07,129.85 L536.67,129.99 L537.27,130.11 L537.87,130.08 L538.47,130.02 L539.07,130.07 L539.67,129.8 L540.27,129.79 L540.87,129.81 L541.47,129.37 L542.07,129.32 L542.67,129.18 L543.27,128.67 L543.87,128.6 L544.47,128.45 L545.07,127.76 L545.67,127.12 L546.27,126.71 L546.87,126.6 L547.47,126.17 L548.07,125.85 L548.67,126.12 L549.27,126.11 L549.87,126.17 L550.47,126.7 L551.07,127.18 L551.67,127.81 L552.27,128.12 L552.87,128.74 L553.47,128.73 L554.07,129 L554.67,128.85 L555.27,129.35 L555.87,129.36 L556.47,129.96 L557.07,129.98 L557.67,129.74 L558.27,130.06 L558.87,129.96 L559.47,130.24 L560.07,130.26 L560.67,129.81 L561.27,130.23 L561.87,129.89 L562.47,130.41 L563.07,130.26 L563.67,130 L564.27,129.87 L564.87,130.17 L565.47,130.16 L566.07,130.07 L566.67,129.99 L567.27,129.97 L567.87,130.09 L568.47,130.42 L569.07,130.23 L569.67,130.25 L570.27,130.28 L570.87,129.94 L571.47,130.46 L572.07,130.2 L572.67,130.44 L573.27,130.24 L573.87,129.96 L574.47,130.37 L575.07,130.34 L575.67,130.36 L576.27,130.39 L576.87,130.68 L577.47,130.45 L578.07,130.13 L578.67,130.15 L579.27,130.46 L579.87,130.21 L580.47,130.39 L581.07,130.7 L581.67,130.49 L582.27,130.5 L582.87,130.45 L583.47,130.06 L584.07,130.2 L584.67,129.96 L585.27,130.33 L585.87,130.18 L586.47,130.66 L587.07,130.72 L587.67,130.44 L588.27,130.3 L588.87,130.12 L589.47,130.39 L590.07,130.61 L590.67,130.65 L591.27,130.53 L591.87,130.88 L592.47,130.77 L593.07,130.5 L593.67,130.76 L594.27,130.77 L594.87,130.32 L595.47,130.05 L596.07,130.46 L596.67,130.73 L597.27,130.91 L597.87,131 L598.47,130.51 L599.07,130.3 L599.67,130.58 L600.27,130.54 L600.87,130.35 L601.47,130.79 L602.07,130.38 L602.67,130.14 L603.27,130.54 L603.87,130.35 L604.47,130.25 L605.07,130.5 L605.67,130.19 L606.27,130.56 L606.87,130.54 L607.47,130.66 L608.07,130.62 L608.67,130.3 L609.27,130.34 L609.87,130.32 L610.47,130.01 L611.07,130.47 L611.67,130.7 L612.27,130.5 L612.87,130.77 L613.47,130.26 L614.07,130.5 L614.67,130.54 L615.27,130.57 L615.87,130.26 L616.47,130.04 L617.07,130.12 L617.67,130.57 L618.27,130.64 L618.87,130.4 L619.47,130.67 L619.49,131.2 L479.07,131.2 Z" fill="#9de99d" stroke="none" stroke-width="1"/>
<path d="M479.07,130.27 L479.67,130.51 L480.27,130.67 L480.87,130.56 L481.47,130.53 L482.07,130.88 L482.67,130.39 L483.27,130.41 L483.87,130.47 L484.47,130.28 L485.07,130.58 L485.67,130.77 L486.27,130.56 L486.87,130.73 L487.47,130.74 L488.07,130.96 L488.67,131 L489.27,130.9 L489.87,130.67 L490.47,130.21 L491.07,130.24 L491.67,130.43 L492.27,130.53 L492.87,130.71 L493.47,130.62 L494.07,130.18 L494.67,130.63 L495.27,130.61 L495.87,130.39 L496.47,130.22 L497.07,130.31 L497.67,130.28 L498.27,130.03 L498.87,129.93 L499.47,130.4 L500.07,130.4 L500.67,130.04 L501.27,130.23 L501.87,130.6 L502.47,130.32 L503.07,130.75 L503.67,130.89 L504.27,130.64 L504.87,130.73 L505.47,130.42 L506.07,130.26 L506.67,130.51 L507.27,130.27 L507.87,130.25 L508.47,130.19 L509.07,130.36 L509.67,130.46 L510.27,130.77 L510.87,130.63 L511.47,130.18 L512.07,130 L512.67,130.58 L513.27,130.86 L513.87,130.84 L514.47,130.48 L515.07,130.51 L515.67,130.77 L516.27,130.66 L516.87,130.49 L517.47,130.27 L518.07,130.43 L518.67,130.31 L519.27,130.22 L519.87,130.23 L520.47,130.68 L521.07,130.38 L521.67,130.69 L522.27,130.9 L522.87,130.67 L523.47,130.92 L524.07,131 L524.67,130.78 L525.27,130.6 L525.87,130.8 L526.47,130.22 L527.07,130.01 L527.67,130.19 L528.27,130.19 L528.87,130.41 L529.47,129.98 L530.07,130.45 L530.67,130.53 L531.27,130.63 L531.87,130.15 L532.47,130.19 L533.07,130.28 L533.67,130.33 L534.27,129.94 L534.87,130.24 L535.47,129.95 L536.07,129.85 L536.67,129.99 L537.27,130.11 L537.87,130.08 L538.47,130.02 L539.07,130.07 L539.67,129.8 L540.27,129.79 L540.87,129.81 L541.47,129.37 L542.07,129.32 L542.67,129.18 L543.27,128.67 L543.87,128.6 L544.47,128.45 L545.07,127.76 L545.67,127.12 L546.27,126.71 L546.87,126.6 L547.47,126.17 L548.07,125.85 L548.67,126.12 L549.27,126.11 L549.87,126.17 L550.47,126.7 L551.07,127.18 L551.67,127.81 L552.27,128.12 L552.87,128.74 L553.47,128.73 L554.07,129 L554.67,128.85 L555.27,129.35 L555.87,129.36 L556.47,129.96 L557.07,129.98 L557.67,129.74 L558.27,130.06 L558.87,129.96 L559.47,130.24 L560.07,130.26 L560.67,129.81 L561.27,130.23 L561.87,129.89 L562.47,130.41 L563.07,130.26 L563.67,130 L564.27,129.87 L564.87,130.17 L565.47,130.16 L566.07,130.07 L566.67,129.99 L567.27,129.97 L567.87,130.09 L568.47,130.42 L569.07,130.23 L569.67,130.25 L570.27,130.28 L570.87,129.94 L571.47,130.46 L572.07,130.2 L572.67,130.44 L573.27,130.24 L573.87,129.96 L574.47,130.37 L575.07,130.34 L575.67,130.36 L576.27,130.39 L576.87,130.68 L577.47,130.45 L578.07,130.13 L578.67,130.15 L579.27,130.46 L579.87,130.21 L580.47,130.39 L581.07,130.7 L581.67,130.49 L582.27,130.5 L582.87,130.45 L583.47,130.06 L584.07,130.2 L584.67,129.96 L585.27,130.33 L585.87,130.18 L586.47,130.66 L587.07,130.72 L587.67,130.44 L588.27,130.3 L588.87,130.12 L589.47,130.39 L590.07,130.61 L590.67,130.65 L591.27,130.53 L591.87,130.88 L592.47,130.77 L593.07,130.5 L593.67,130.76 L594.27,130.77 L594.87,130.32 L595.47,130.05 L596.07,130.46 L596.67,130.73 L597.27,130.91 L597.87,131 L598.47,130.51 L599.07,130.3 L599.67,130.58 L600.27,130.54 L600.87,130.35 L601.47,130.79 L602.07,130.38 L602.67,130.14 L603.27,130.54 L603.87,130.35 L604.47,130.25 L605.07,130.5 L605.67,130.19 L606.27,130.56 L606.87,130.54 L607.47,130.66 L608.07,130.62 L608.67,130.3 L609.27,130.34 L609.87,130.32 L610.47,130.01 L611.07,130.47 L611.67,130.7 L612.27,130.5 L612.87,130.77 L613.47,130.26 L614.07,130.5 L614.67,130.54 L615.27,130.57 L615.87,130.26 L616.47,130.04 L617.07,130.12 L617.67,130.57 L618.27,130.64 L618.87,130.4 L619.47,130.67" fill="none" stroke="#50d850" stroke-width="0.85" stroke-linejoin="round"/>
<path d="M474.84,135.62 L475.44,135.49 L476.04,135.89 L476.64,135.99 L477.24,136.13 L477.84,135.86 L478.44,136.2 L479.04,135.91 L479.64,136.21 L480.24,135.81 L480.84,135.82 L481.44,135.8 L482.04,136.13 L482.64,136.3 L483.24,136.22 L483.84,135.71 L484.44,135.73 L485.04,135.55 L485.64,136.03 L486.24,136.25 L486.84,136.3 L487.44,136.01 L488.04,136.18 L488.64,136.2 L489.24,135.92 L489.84,135.77 L490.44,135.95 L491.04,135.94 L491.64,136.07 L492.24,135.93 L492.84,136.01 L493.44,136.05 L494.04,136.15 L494.64,136.17 L495.24,136.2 L495.84,136.3 L496.44,136.27 L497.04,136.01 L497.64,136.11 L498.24,136.27 L498.84,135.83 L499.44,135.88 L500.04,135.87 L500.64,136.01 L501.24,135.67 L501.84,135.59 L502.44,135.65 L503.04,135.65 L503.64,135.63 L504.24,135.75 L504.84,135.88 L505.44,135.96 L506.04,135.91 L506.64,135.92 L507.24,135.88 L507.84,135.85 L508.44,135.66 L509.04,135.48 L509.64,135.88 L510.24,136.21 L510.84,136.18 L511.44,136.3 L512.04,135.9 L512.64,135.8 L513.24,135.99 L513.84,136.14 L514.44,135.74 L515.04,135.56 L515.64,135.58 L516.24,135.58 L516.84,135.54 L517.44,135.73 L518.04,135.86 L518.64,135.82 L519.24,135.56 L519.84,135.35 L520.44,135.3 L521.04,135.33 L521.64,135.89 L522.24,136.04 L522.84,135.6 L523.44,135.68 L524.04,135.74 L524.64,135.91 L525.24,135.6 L525.84,135.69 L526.44,135.4 L527.04,135.9 L527.64,135.49 L528.24,135.98 L528.84,136.12 L529.44,136.02 L530.04,135.78 L530.64,136.04 L531.24,135.83 L531.84,135.45 L532.44,135.61 L533.04,135.45 L533.64,135.48 L534.24,135.49 L534.84,135.77 L535.44,135.68 L536.04,135.3 L536.64,135.25 L537.24,135.52 L537.84,135.45 L538.44,135.31 L539.04,135.33 L539.64,135.11 L540.24,134.88 L540.84,135.11 L541.44,134.98 L542.04,134.49 L542.64,134.43 L543.24,134.39 L543.84,133.79 L544.44,133.77 L545.04,133.34 L545.64,133.51 L546.24,134.04 L546.84,134.06 L547.44,134.46 L548.04,134.38 L548.64,134.48 L549.24,134.58 L549.84,135.19 L550.44,135.56 L551.04,135.24 L551.64,135.59 L552.24,135.74 L552.84,135.97 L553.44,136 L554.04,135.82 L554.64,135.39 L555.24,135.65 L555.84,135.83 L556.44,135.53 L557.04,135.84 L557.64,135.69 L558.24,135.63 L558.84,135.38 L559.44,135.9 L560.04,135.79 L560.64,135.87 L561.24,135.6 L561.84,135.87 L562.44,135.68 L563.04,135.97 L563.64,135.89 L564.24,135.52 L564.84,135.86 L565.44,136 L566.04,135.62 L566.64,135.6 L567.24,136.03 L567.84,136.16 L568.44,136.19 L569.04,136.17 L569.64,135.76 L570.24,135.66 L570.84,135.42 L571.44,135.51 L572.04,135.59 L572.64,135.81 L573.24,135.68 L573.84,135.78 L574.44,136.13 L575.04,136 L575.64,136.02 L576.24,135.92 L576.84,136.22 L577.44,136.3 L578.04,135.78 L578.64,135.92 L579.24,136.02 L579.84,136.2 L580.44,135.97 L581.04,135.63 L581.64,135.98 L582.24,135.93 L582.84,135.9 L583.44,135.7 L584.04,135.74 L584.64,136 L585.24,136.16 L585.84,135.86 L586.44,136.17 L587.04,135.77 L587.64,136.16 L588.24,136.24 L588.84,136.09 L589.44,135.74 L590.04,135.73 L590.64,135.63 L591.24,135.57 L591.84,135.57 L592.44,136.05 L593.04,135.73 L593.64,136.06 L594.24,136.21 L594.84,136.3 L595.44,136.3 L596.04,135.91 L596.64,135.98 L597.24,136.23 L597.84,136.3 L598.44,135.89 L599.04,135.82 L599.64,135.56 L600.24,136.05 L600.84,136.25 L601.44,136.22 L602.04,136.28 L602.64,136.3 L603.24,136.3 L603.84,136.01 L604.44,136.19 L605.04,136.28 L605.64,136.06 L606.24,136.06 L606.84,136.23 L607.44,136.01 L608.04,135.95 L608.64,136 L609.24,135.96 L609.84,136.26 L610.44,135.99 L611.04,136.16 L611.64,136.14 L612.24,136.3 L612.84,135.85 L613.44,135.81 L614.04,135.93 L614.64,135.88 L615.24,135.57 L615.84,136 L616.44,136.03 L616.61,136.5 L474.84,136.5 Z" fill="#a5ecba" stroke="none" stroke-width="1"/>
<path d="M474.84,135.62 L475.44,135.49 L476.04,135.89 L476.64,135.99 L477.24,136.13 L477.84,135.86 L478.44,136.2 L479.04,135.91 L479.64,136.21 L480.24,135.81 L480.84,135.82 L481.44,135.8 L482.04,136.13 L482.64,136.3 L483.24,136.22 L483.84,135.71 L484.44,135.73 L485.04,135.55 L485.64,136.03 L486.24,136.25 L486.84,136.3 L487.44,136.01 L488.04,136.18 L488.64,136.2 L489.24,135.92 L489.84,135.77 L490.44,135.95 L491.04,135.94 L491.64,136.07 L492.24,135.93 L492.84,136.01 L493.44,136.05 L494.04,136.15 L494.64,136.17 L495.24,136.2 L495.84,136.3 L496.44,136.27 L497.04,136.01 L497.64,136.11 L498.24,136.27 L498.84,135.83 L499.44,135.88 L500.04,135.87 L500.64,136.01 L501.24,135.67 L501.84,135.59 L502.44,135.65 L503.04,135.65 L503.64,135.63 L504.24,135.75 L504.84,135.88 L505.44,135.96 L506.04,135.91 L506.64,135.92 L507.24,135.88 L507.84,135.85 L508.44,135.66 L509.04,135.48 L509.64,135.88 L510.24,136.21 L510.84,136.18 L511.44,136.3 L512.04,135.9 L512.64,135.8 L513.24,135.99 L513.84,136.14 L514.44,135.74 L515.04,135.56 L515.64,135.58 L516.24,135.58 L516.84,135.54 L517.44,135.73 L518.04,135.86 L518.64,135.82 L519.24,135.56 L519.84,135.35 L520.44,135.3 L521.04,135.33 L521.64,135.89 L522.24,136.04 L522.84,135.6 L523.44,135.68 L524.04,135.74 L524.64,135.91 L525.24,135.6 L525.84,135.69 L526.44,135.4 L527.04,135.9 L527.64,135.49 L528.24,135.98 L528.84,136.12 L529.44,136.02 L530.04,135.78 L530.64,136.04 L531.24,135.83 L531.84,135.45 L532.44,135.61 L533.04,135.45 L533.64,135.48 L534.24,135.49 L534.84,135.77 L535.44,135.68 L536.04,135.3 L536.64,135.25 L537.24,135.52 L537.84,135.45 L538.44,135.31 L539.04,135.33 L539.64,135.11 L540.24,134.88 L540.84,135.11 L541.44,134.98 L542.04,134.49 L542.64,134.43 L543.24,134.39 L543.84,133.79 L544.44,133.77 L545.04,133.34 L545.64,133.51 L546.24,134.04 L546.84,134.06 L547.44,134.46 L548.04,134.38 L548.64,134.48 L549.24,134.58 L549.84,135.19 L550.44,135.56 L551.04,135.24 L551.64,135.59 L552.24,135.74 L552.84,135.97 L553.44,136 L554.04,135.82 L554.64,135.39 L555.24,135.65 L555.84,135.83 L556.44,135.53 L557.04,135.84 L557.64,135.69 L558.24,135.63 L558.84,135.38 L559.44,135.9 L560.04,135.79 L560.64,135.87 L561.24,135.6 L561.84,135.87 L562.44,135.68 L563.04,135.97 L563.64,135.89 L564.24,135.52 L564.84,135.86 L565.44,136 L566.04,135.62 L566.64,135.6 L567.24,136.03 L567.84,136.16 L568.44,136.19 L569.04,136.17 L569.64,135.76 L570.24,135.66 L570.84,135.42 L571.44,135.51 L572.04,135.59 L572.64,135.81 L573.24,135.68 L573.84,135.78 L574.44,136.13 L575.04,136 L575.64,136.02 L576.24,135.92 L576.84,136.22 L577.44,136.3 L578.04,135.78 L578.64,135.92 L579.24,136.02 L579.84,136.2 L580.44,135.97 L581.04,135.63 L581.64,135.98 L582.24,135.93 L582.84,135.9 L583.44,135.7 L584.04,135.74 L584.64,136 L585.24,136.16 L585.84,135.86 L586.44,136.17 L587.04,135.77 L587.64,136.16 L588.24,136.24 L588.84,136.09 L589.44,135.74 L590.04,135.73 L590.64,135.63 L591.24,135.57 L591.84,135.57 L592.44,136.05 L593.04,135.73 L593.64,136.06 L594.24,136.21 L594.84,136.3 L595.44,136.3 L596.04,135.91 L596.64,135.98 L597.24,136.23 L597.84,136.3 L598.44,135.89 L599.04,135.82 L599.64,135.56 L600.24,136.05 L600.84,136.25 L601.44,136.22 L602.04,136.28 L602.64,136.3 L603.24,136.3 L603.84,136.01 L604.44,136.19 L605.04,136.28 L605.64,136.06 L606.24,136.06 L606.84,136.23 L607.44,136.01 L608.04,135.95 L608.64,136 L609.24,135.96 L609.84,136.26 L610.44,135.99 L611.04,136.16 L611.64,136.14 L612.24,136.3 L612.84,135.85 L613.44,135.81 L614.04,135.93 L614.64,135.88 L615.24,135.57 L615.84,136 L616.44,136.03" fill="none" stroke="#58dc80" stroke-width="0.85" stroke-linejoin="round"/>
<path d="M471.02,140.66 L471.62,140.81 L472.22,140.67 L472.82,140.47 L473.42,140.92 L474.02,141 L474.62,141.03 L475.22,140.75 L475.82,140.59 L476.42,140.57 L477.02,140.41 L477.62,140.8 L478.22,140.86 L478.82,140.6 L479.42,140.53 L480.02,140.91 L480.62,140.54 L481.22,140.52 L481.82,140.42 L482.42,140.69 L483.02,140.68 L483.62,140.44 L484.22,140.36 L484.82,140.53 L485.42,140.41 L486.02,140.28 L486.62,140.32 L487.22,140.46 L487.82,140.33 L488.42,140.79 L489.02,140.85 L489.62,140.78 L490.22,141.02 L490.82,140.72 L491.42,141.03 L492.02,140.83 L492.62,140.95 L493.22,140.98 L493.82,140.81 L494.42,141 L495.02,140.92 L495.62,140.63 L496.22,140.4 L496.82,140.74 L497.42,140.85 L498.02,140.69 L498.62,140.93 L499.22,140.64 L499.82,140.9 L500.42,140.8 L501.02,140.89 L501.62,141.1 L502.22,141.1 L502.82,141.1 L503.42,141.1 L504.02,141.1 L504.62,140.63 L505.22,140.62 L505.82,140.97 L506.42,140.74 L507.02,140.92 L507.62,140.86 L508.22,140.67 L508.82,140.5 L509.42,140.36 L510.02,140.61 L510.62,140.81 L511.22,140.85 L511.82,140.93 L512.42,140.69 L513.02,140.75 L513.62,140.64 L514.22,140.92 L514.82,140.66 L515.42,140.41 L516.02,140.77 L516.62,140.68 L517.22,140.93 L517.82,141.1 L518.42,140.99 L519.02,141.06 L519.62,140.75 L520.22,140.7 L520.82,140.6 L521.42,140.36 L522.02,140.82 L522.62,141.02 L523.22,141.1 L523.82,140.95 L524.42,140.62 L525.02,140.53 L525.62,140.58 L526.22,140.4 L526.82,140.61 L527.42,140.87 L528.02,140.66 L528.62,140.94 L529.22,140.94 L529.82,141.06 L530.42,141.02 L531.02,141.05 L531.62,140.76 L532.22,140.85 L532.82,140.57 L533.42,140.27 L534.02,140.4 L534.62,140.57 L535.22,140.26 L535.82,140.03 L536.42,139.75 L537.02,139.75 L537.62,139.66 L538.22,139.33 L538.82,139.18 L539.42,138.8 L540.02,138.95 L540.62,138.64 L541.22,138.54 L541.82,138.63 L542.42,139.04 L543.02,139.07 L543.62,139.34 L544.22,139.37 L544.82,139.54 L545.42,139.71 L546.02,140.14 L546.62,140.37 L547.22,140.22 L547.82,140.14 L548.42,139.94 L549.02,139.98 L549.62,140.35 L550.22,140.45 L550.82,140.48 L551.42,140.32 L552.02,140.51 L552.62,140.28 L553.22,140.46 L553.82,140.6 L554.42,140.63 L555.02,140.73 L555.62,140.38 L556.22,140.81 L556.82,140.81 L557.42,141.02 L558.02,140.74 L558.62,140.94 L559.22,141.05 L559.82,140.93 L560.42,140.76 L561.02,140.57 L561.62,140.69 L562.22,140.84 L562.82,140.87 L563.42,140.56 L564.02,140.83 L564.62,141.1 L565.22,140.68 L565.82,140.72 L566.42,140.97 L567.02,141.09 L567.62,140.68 L568.22,140.56 L568.82,140.94 L569.42,140.74 L570.02,140.93 L570.62,140.88 L571.22,140.76 L571.82,141.05 L572.42,140.63 L573.02,140.81 L573.62,141.01 L574.22,140.71 L574.82,140.99 L575.42,141.1 L576.02,140.88 L576.62,140.85 L577.22,140.56 L577.82,140.48 L578.42,140.82 L579.02,141.09 L579.62,140.87 L580.22,140.84 L580.82,140.94 L581.42,140.59 L582.02,140.87 L582.62,140.74 L583.22,141.03 L583.82,140.64 L584.42,140.43 L585.02,140.53 L585.62,140.77 L586.22,140.64 L586.82,140.45 L587.42,140.43 L588.02,140.9 L588.62,140.84 L589.22,141.04 L589.82,140.89 L590.42,140.55 L591.02,140.44 L591.62,140.77 L592.22,140.75 L592.82,140.88 L593.42,141.05 L594.02,140.76 L594.62,140.61 L595.22,140.8 L595.82,140.85 L596.42,140.69 L597.02,140.6 L597.62,140.72 L598.22,141 L598.82,141.1 L599.42,141.1 L600.02,140.78 L600.62,140.79 L601.22,140.7 L601.82,140.83 L602.42,140.89 L603.02,141.05 L603.62,140.62 L604.22,140.64 L604.82,140.95 L605.42,140.74 L606.02,140.71 L606.62,140.68 L607.22,140.56 L607.82,140.61 L608.42,140.46 L609.02,140.33 L609.62,140.62 L610.22,140.61 L610.82,140.78 L611.42,140.85 L612.02,140.9 L612.62,140.76 L613.22,140.87 L613.82,140.93 L614.01,141.3 L471.02,141.3 Z" fill="#a8ecd1" stroke="none" stroke-width="1"/>
<path d="M471.02,140.66 L471.62,140.81 L472.22,140.67 L472.82,140.47 L473.42,140.92 L474.02,141 L474.62,141.03 L475.22,140.75 L475.82,140.59 L476.42,140.57 L477.02,140.41 L477.62,140.8 L478.22,140.86 L478.82,140.6 L479.42,140.53 L480.02,140.91 L480.62,140.54 L481.22,140.52 L481.82,140.42 L482.42,140.69 L483.02,140.68 L483.62,140.44 L484.22,140.36 L484.82,140.53 L485.42,140.41 L486.02,140.28 L486.62,140.32 L487.22,140.46 L487.82,140.33 L488.42,140.79 L489.02,140.85 L489.62,140.78 L490.22,141.02 L490.82,140.72 L491.42,141.03 L492.02,140.83 L492.62,140.95 L493.22,140.98 L493.82,140.81 L494.42,141 L495.02,140.92 L495.62,140.63 L496.22,140.4 L496.82,140.74 L497.42,140.85 L498.02,140.69 L498.62,140.93 L499.22,140.64 L499.82,140.9 L500.42,140.8 L501.02,140.89 L501.62,141.1 L502.22,141.1 L502.82,141.1 L503.42,141.1 L504.02,141.1 L504.62,140.63 L505.22,140.62 L505.82,140.97 L506.42,140.74 L507.02,140.92 L507.62,140.86 L508.22,140.67 L508.82,140.5 L509.42,140.36 L510.02,140.61 L510.62,140.81 L511.22,140.85 L511.82,140.93 L512.42,140.69 L513.02,140.75 L513.62,140.64 L514.22,140.92 L514.82,140.66 L515.42,140.41 L516.02,140.77 L516.62,140.68 L517.22,140.93 L517.82,141.1 L518.42,140.99 L519.02,141.06 L519.62,140.75 L520.22,140.7 L520.82,140.6 L521.42,140.36 L522.02,140.82 L522.62,141.02 L523.22,141.1 L523.82,140.95 L524.42,140.62 L525.02,140.53 L525.62,140.58 L526.22,140.4 L526.82,140.61 L527.42,140.87 L528.02,140.66 L528.62,140.94 L529.22,140.94 L529.82,141.06 L530.42,141.02 L531.02,141.05 L531.62,140.76 L532.22,140.85 L532.82,140.57 L533.42,140.27 L534.02,140.4 L534.62,140.57 L535.22,140.26 L535.82,140.03 L536.42,139.75 L537.02,139.75 L537.62,139.66 L538.22,139.33 L538.82,139.18 L539.42,138.8 L540.02,138.95 L540.62,138.64 L541.22,138.54 L541.82,138.63 L542.42,139.04 L543.02,139.07 L543.62,139.34 L544.22,139.37 L544.82,139.54 L545.42,139.71 L546.02,140.14 L546.62,140.37 L547.22,140.22 L547.82,140.14 L548.42,139.94 L549.02,139.98 L549.62,140.35 L550.22,140.45 L550.82,140.48 L551.42,140.32 L552.02,140.51 L552.62,140.28 L553.22,140.46 L553.82,140.6 L554.42,140.63 L555.02,140.73 L555.62,140.38 L556.22,140.81 L556.82,140.81 L557.42,141.02 L558.02,140.74 L558.62,140.94 L559.22,141.05 L559.82,140.93 L560.42,140.76 L561.02,140.57 L561.62,140.69 L562.22,140.84 L562.82,140.87 L563.42,140.56 L564.02,140.83 L564.62,141.1 L565.22,140.68 L565.82,140.72 L566.42,140.97 L567.02,141.09 L567.62,140.68 L568.22,140.56 L568.82,140.94 L569.42,140.74 L570.02,140.93 L570.62,140.88 L571.22,140.76 L571.82,141.05 L572.42,140.63 L573.02,140.81 L573.62,141.01 L574.22,140.71 L574.82,140.99 L575.42,141.1 L576.02,140.88 L576.62,140.85 L577.22,140.56 L577.82,140.48 L578.42,140.82 L579.02,141.09 L579.62,140.87 L580.22,140.84 L580.82,140.94 L581.42,140.59 L582.02,140.87 L582.62,140.74 L583.22,141.03 L583.82,140.64 L584.42,140.43 L585.02,140.53 L585.62,140.77 L586.22,140.64 L586.82,140.45 L587.42,140.43 L588.02,140.9 L588.62,140.84 L589.22,141.04 L589.82,140.89 L590.42,140.55 L591.02,140.44 L591.62,140.77 L592.22,140.75 L592.82,140.88 L593.42,141.05 L594.02,140.76 L594.62,140.61 L595.22,140.8 L595.82,140.85 L596.42,140.69 L597.02,140.6 L597.62,140.72 L598.22,141 L598.82,141.1 L599.42,141.1 L600.02,140.78 L600.62,140.79 L601.22,140.7 L601.82,140.83 L602.42,140.89 L603.02,141.05 L603.62,140.62 L604.22,140.64 L604.82,140.95 L605.42,140.74 L606.02,140.71 L606.62,140.68 L607.22,140.56 L607.82,140.61 L608.42,140.46 L609.02,140.33 L609.62,140.62 L610.22,140.61 L610.82,140.78 L611.42,140.85 L612.02,140.9 L612.62,140.76 L613.22,140.87 L613.82,140.93" fill="none" stroke="#58dca8" stroke-width="0.85" stroke-linejoin="round"/>
<path d="M466.71,146 L467.31,145.93 L467.91,145.96 L468.51,145.89 L469.11,146.1 L469.71,146.07 L470.31,146.27 L470.91,146.34 L471.51,146.49 L472.11,146.18 L472.71,145.95 L473.31,146.18 L473.91,146.26 L474.51,146.44 L475.11,146.5 L475.71,146.28 L476.31,146.02 L476.91,146.34 L477.51,146.41 L478.11,146.15 L478.71,146.33 L479.31,146.05 L479.91,146.2 L480.51,146.21 L481.11,146.37 L481.71,146.4 L482.31,146.34 L482.91,146.39 L483.51,146.16 L484.11,146.44 L484.71,146.24 L485.31,146.04 L485.91,146.22 L486.51,146.38 L487.11,146.5 L487.71,146.5 L488.31,146.22 L488.91,146.15 L489.51,146.44 L490.11,146.34 L490.71,146.21 L491.31,146.3 L491.91,146.5 L492.51,146.39 L493.11,146.37 L493.71,146.01 L494.31,146.18 L494.91,145.95 L495.51,145.86 L496.11,145.98 L496.71,146.3 L497.31,146.07 L497.91,146.36 L498.51,146.24 L499.11,146.44 L499.71,146.5 L500.31,146.41 L500.91,146.49 L501.51,146.06 L502.11,146.08 L502.71,145.91 L503.31,145.79 L503.91,145.84 L504.51,145.93 L505.11,146.07 L505.71,145.97 L506.31,145.98 L506.91,146.27 L507.51,146.21 L508.11,146.24 L508.71,146.2 L509.31,146.07 L509.91,146.01 L510.51,146.05 L511.11,145.95 L511.71,145.87 L512.31,146.25 L512.91,146.41 L513.51,146.5 L514.11,146.5 L514.71,146.09 L515.31,146.23 L515.91,146.23 L516.51,146.21 L517.11,146.14 L517.71,146.27 L518.31,146.05 L518.91,146.19 L519.51,145.97 L520.11,145.88 L520.71,146.29 L521.31,146.18 L521.91,146.38 L522.51,146.03 L523.11,146.31 L523.71,146.33 L524.31,146.06 L524.91,146.02 L525.51,145.95 L526.11,146.05 L526.71,146.03 L527.31,146.19 L527.91,146.12 L528.51,146.19 L529.11,145.97 L529.71,146.17 L530.31,146.23 L530.91,146.21 L531.51,145.98 L532.11,145.8 L532.71,146.01 L533.31,145.51 L533.91,145.29 L534.51,145.37 L535.11,145.47 L535.71,145.07 L536.31,144.71 L536.91,144.93 L537.51,144.69 L538.11,144.55 L538.71,144.47 L539.31,144.91 L539.91,145.26 L540.51,145.48 L541.11,145.62 L541.71,145.37 L542.31,145.29 L542.91,145.53 L543.51,145.87 L544.11,145.94 L544.71,146.06 L545.31,145.91 L545.91,145.81 L546.51,145.74 L547.11,145.91 L547.71,145.99 L548.31,146.03 L548.91,146.12 L549.51,146.12 L550.11,145.99 L550.71,145.92 L551.31,146.11 L551.91,146.07 L552.51,146.29 L553.11,146.46 L553.71,146.36 L554.31,146.32 L554.91,146.49 L555.51,146.5 L556.11,146.39 L556.71,146.02 L557.31,145.89 L557.91,146.29 L558.51,146.32 L559.11,146.31 L559.71,146.34 L560.31,146.46 L560.91,146.26 L561.51,146.02 L562.11,146.16 L562.71,146.35 L563.31,146.48 L563.91,146.5 L564.51,146.24 L565.11,146.36 L565.71,146.14 L566.31,145.99 L566.91,146.32 L567.51,146.42 L568.11,146.4 L568.71,146.14 L569.31,146.03 L569.91,146.21 L570.51,146.22 L571.11,146.28 L571.71,146.25 L572.31,146.05 L572.91,146.25 L573.51,146.04 L574.11,145.88 L574.71,145.97 L575.31,145.82 L575.91,145.76 L576.51,146.16 L577.11,145.89 L577.71,146.21 L578.31,146.03 L578.91,146.32 L579.51,146.37 L580.11,146.31 L580.71,146.06 L581.31,146.02 L581.91,146.27 L582.51,146.01 L583.11,145.89 L583.71,146.04 L584.31,146.37 L584.91,146.4 L585.51,146.41 L586.11,146.35 L586.71,146.02 L587.31,146.05 L587.91,145.94 L588.51,146.31 L589.11,146.39 L589.71,146.16 L590.31,146.27 L590.91,146.38 L591.51,146.5 L592.11,146.5 L592.71,146.45 L593.31,146.3 L593.91,146.3 L594.51,146.21 L595.11,146.32 L595.71,146.5 L596.31,146.26 L596.91,146.32 L597.51,146.26 L598.11,146.3 L598.71,146.38 L599.31,146.5 L599.91,146.48 L600.51,146.45 L601.11,146.5 L601.71,146.5 L602.31,146.43 L602.91,146.5 L603.51,146.17 L604.11,146.26 L604.71,146.26 L605.31,146.21 L605.91,146.47 L606.51,146.5 L607.11,146.22 L607.71,146.17 L608.31,146.19 L608.91,146.28 L609.51,146.1 L610.11,146.14 L610.71,146.01 L611.08,146.7 L466.71,146.7 Z" fill="#aaebe7" stroke="none" stroke-width="1"/>
<path d="M466.71,146 L467.31,145.93 L467.91,145.96 L468.51,145.89 L469.11,146.1 L469.71,146.07 L470.31,146.27 L470.91,146.34 L471.51,146.49 L472.11,146.18 L472.71,145.95 L473.31,146.18 L473.91,146.26 L474.51,146.44 L475.11,146.5 L475.71,146.28 L476.31,146.02 L476.91,146.34 L477.51,146.41 L478.11,146.15 L478.71,146.33 L479.31,146.05 L479.91,146.2 L480.51,146.21 L481.11,146.37 L481.71,146.4 L482.31,146.34 L482.91,146.39 L483.51,146.16 L484.11,146.44 L484.71,146.24 L485.31,146.04 L485.91,146.22 L486.51,146.38 L487.11,146.5 L487.71,146.5 L488.31,146.22 L488.91,146.15 L489.51,146.44 L490.11,146.34 L490.71,146.21 L491.31,146.3 L491.91,146.5 L492.51,146.39 L493.11,146.37 L493.71,146.01 L494.31,146.18 L494.91,145.95 L495.51,145.86 L496.11,145.98 L496.71,146.3 L497.31,146.07 L497.91,146.36 L498.51,146.24 L499.11,146.44 L499.71,146.5 L500.31,146.41 L500.91,146.49 L501.51,146.06 L502.11,146.08 L502.71,145.91 L503.31,145.79 L503.91,145.84 L504.51,145.93 L505.11,146.07 L505.71,145.97 L506.31,145.98 L506.91,146.27 L507.51,146.21 L508.11,146.24 L508.71,146.2 L509.31,146.07 L509.91,146.01 L510.51,146.05 L511.11,145.95 L511.71,145.87 L512.31,146.25 L512.91,146.41 L513.51,146.5 L514.11,146.5 L514.71,146.09 L515.31,146.23 L515.91,146.23 L516.51,146.21 L517.11,146.14 L517.71,146.27 L518.31,146.05 L518.91,146.19 L519.51,145.97 L520.11,145.88 L520.71,146.29 L521.31,146.18 L521.91,146.38 L522.51,146.03 L523.11,146.31 L523.71,146.33 L524.31,146.06 L524.91,146.02 L525.51,145.95 L526.11,146.05 L526.71,146.03 L527.31,146.19 L527.91,146.12 L528.51,146.19 L529.11,145.97 L529.71,146.17 L530.31,146.23 L530.91,146.21 L531.51,145.98 L532.11,145.8 L532.71,146.01 L533.31,145.51 L533.91,145.29 L534.51,145.37 L535.11,145.47 L535.71,145.07 L536.31,144.71 L536.91,144.93 L537.51,144.69 L538.11,144.55 L538.71,144.47 L539.31,144.91 L539.91,145.26 L540.51,145.48 L541.11,145.62 L541.71,145.37 L542.31,145.29 L542.91,145.53 L543.51,145.87 L544.11,145.94 L544.71,146.06 L545.31,145.91 L545.91,145.81 L546.51,145.74 L547.11,145.91 L547.71,145.99 L548.31,146.03 L548.91,146.12 L549.51,146.12 L550.11,145.99 L550.71,145.92 L551.31,146.11 L551.91,146.07 L552.51,146.29 L553.11,146.46 L553.71,146.36 L554.31,146.32 L554.91,146.49 L555.51,146.5 L556.11,146.39 L556.71,146.02 L557.31,145.89 L557.91,146.29 L558.51,146.32 L559.11,146.31 L559.71,146.34 L560.31,146.46 L560.91,146.26 L561.51,146.02 L562.11,146.16 L562.71,146.35 L563.31,146.48 L563.91,146.5 L564.51,146.24 L565.11,146.36 L565.71,146.14 L566.31,145.99 L566.91,146.32 L567.51,146.42 L568.11,146.4 L568.71,146.14 L569.31,146.03 L569.91,146.21 L570.51,146.22 L571.11,146.28 L571.71,146.25 L572.31,146.05 L572.91,146.25 L573.51,146.04 L574.11,145.88 L574.71,145.97 L575.31,145.82 L575.91,145.76 L576.51,146.16 L577.11,145.89 L577.71,146.21 L578.31,146.03 L578.91,146.32 L579.51,146.37 L580.11,146.31 L580.71,146.06 L581.31,146.02 L581.91,146.27 L582.51,146.01 L583.11,145.89 L583.71,146.04 L584.31,146.37 L584.91,146.4 L585.51,146.41 L586.11,146.35 L586.71,146.02 L587.31,146.05 L587.91,145.94 L588.51,146.31 L589.11,146.39 L589.71,146.16 L590.31,146.27 L590.91,146.38 L591.51,146.5 L592.11,146.5 L592.71,146.45 L593.31,146.3 L593.91,146.3 L594.51,146.21 L595.11,146.32 L595.71,146.5 L596.31,146.26 L596.91,146.32 L597.51,146.26 L598.11,146.3 L598.71,146.38 L599.31,146.5 L599.91,146.48 L600.51,146.45 L601.11,146.5 L601.71,146.5 L602.31,146.43 L602.91,146.5 L603.51,146.17 L604.11,146.26 L604.71,146.26 L605.31,146.21 L605.91,146.47 L606.51,146.5 L607.11,146.22 L607.71,146.17 L608.31,146.19 L608.91,146.28 L609.51,146.1 L610.11,146.14 L610.71,146.01" fill="none" stroke="#58d8d0" stroke-width="0.85" stroke-linejoin="round"/>
<path d="M462.64,151.12 L463.24,151.01 L463.84,151.04 L464.44,151.08 L465.04,151.2 L465.64,151.23 L466.24,151.22 L466.84,151.24 L467.44,151.11 L468.04,151.02 L468.64,151.38 L469.24,151.21 L469.84,151.19 L470.44,151.19 L471.04,151.04 L471.64,151.39 L472.24,151.35 L472.84,151.38 L473.44,151.11 L474.04,151.37 L474.64,151.3 L475.24,151.47 L475.84,151.25 L476.44,151.28 L477.04,151.16 L477.64,151.32 L478.24,151.11 L478.84,151.45 L479.44,151.51 L480.04,151.28 L480.64,151.09 L481.24,151.05 L481.84,151.28 L482.44,151.5 L483.04,151.29 L483.64,151.17 L484.24,151.45 L484.84,151.15 L485.44,151.2 L486.04,151.48 L486.64,151.39 L487.24,151.42 L487.84,151.55 L488.44,151.22 L489.04,151.03 L489.64,151.35 L490.24,151.34 L490.84,151.43 L491.44,151.27 L492.04,151.47 L492.64,151.46 L493.24,151.41 L493.84,151.36 L494.44,151.35 L495.04,151.27 L495.64,151.05 L496.24,150.95 L496.84,150.91 L497.44,150.92 L498.04,151.24 L498.64,151.38 L499.24,151.35 L499.84,151.24 L500.44,151.2 L501.04,151.31 L501.64,151.04 L502.24,151.25 L502.84,151.5 L503.44,151.59 L504.04,151.57 L504.64,151.3 L505.24,151.11 L505.84,151.41 L506.44,151.47 L507.04,151.49 L507.64,151.23 L508.24,151.04 L508.84,151.26 L509.44,151.45 L510.04,151.11 L510.64,150.94 L511.24,150.98 L511.84,151.12 L512.44,151.05 L513.04,151 L513.64,151.11 L514.24,151.28 L514.84,151.23 L515.44,151.14 L516.04,151.26 L516.64,151.16 L517.24,151.35 L517.84,151.03 L518.44,151.25 L519.04,151.34 L519.64,151.02 L520.24,150.85 L520.84,150.78 L521.44,150.77 L522.04,150.76 L522.64,150.76 L523.24,150.88 L523.84,151.17 L524.44,150.98 L525.04,150.81 L525.64,150.71 L526.24,151.04 L526.84,151.18 L527.44,150.89 L528.04,150.83 L528.64,150.57 L529.24,150.36 L529.84,150.48 L530.44,150.39 L531.04,150.31 L531.64,150.2 L532.24,150.27 L532.84,150.14 L533.44,150.33 L534.04,150 L534.64,149.93 L535.24,149.88 L535.84,150.06 L536.44,150.32 L537.04,150.37 L537.64,150.33 L538.24,150.42 L538.84,150.72 L539.44,150.96 L540.04,150.92 L540.64,151 L541.24,151.07 L541.84,151.13 L542.44,151.09 L543.04,150.94 L543.64,150.77 L544.24,150.82 L544.84,151.18 L545.44,150.95 L546.04,150.97 L546.64,150.93 L547.24,150.97 L547.84,151.13 L548.44,151.22 L549.04,151.41 L549.64,151.21 L550.24,151.42 L550.84,151.21 L551.44,151 L552.04,151.01 L552.64,151.06 L553.24,150.98 L553.84,150.87 L554.44,150.89 L555.04,150.81 L555.64,151.04 L556.24,151.38 L556.84,151.25 L557.44,151.18 L558.04,151.03 L558.64,151.08 L559.24,151.23 L559.84,151.49 L560.44,151.2 L561.04,151.17 L561.64,150.97 L562.24,151.07 L562.84,150.99 L563.44,150.99 L564.04,150.88 L564.64,151.09 L565.24,150.98 L565.84,151.17 L566.44,151.47 L567.04,151.45 L567.64,151.44 L568.24,151.11 L568.84,151.24 L569.44,151.37 L570.04,151.23 L570.64,151.45 L571.24,151.46 L571.84,151.42 L572.44,151.54 L573.04,151.36 L573.64,151.36 L574.24,151.17 L574.84,151.3 L575.44,151.05 L576.04,151.32 L576.64,151.28 L577.24,151.42 L577.84,151.6 L578.44,151.54 L579.04,151.21 L579.64,151.35 L580.24,151.32 L580.84,151.29 L581.44,151.41 L582.04,151.33 L582.64,151.52 L583.24,151.48 L583.84,151.49 L584.44,151.23 L585.04,151.12 L585.64,151.1 L586.24,151.15 L586.84,151.03 L587.44,151.04 L588.04,151.39 L588.64,151.52 L589.24,151.28 L589.84,151.11 L590.44,150.96 L591.04,150.98 L591.64,151.31 L592.24,151.27 L592.84,151.22 L593.44,151.2 L594.04,151.43 L594.64,151.12 L595.24,151.2 L595.84,151.36 L596.44,151.09 L597.04,151.25 L597.64,151.48 L598.24,151.3 L598.84,151.42 L599.44,151.5 L600.04,151.49 L600.64,151.34 L601.24,151.41 L601.84,151.27 L602.44,151.08 L603.04,150.94 L603.64,150.92 L604.24,150.89 L604.84,151.22 L605.44,151.09 L606.04,151.4 L606.64,151.31 L607.24,151.51 L607.84,151.6 L608.32,151.8 L462.64,151.8 Z" fill="#a9e4f3" stroke="none" stroke-width="1"/>
<path d="M462.64,151.12 L463.24,151.01 L463.84,151.04 L464.44,151.08 L465.04,151.2 L465.64,151.23 L466.24,151.22 L466.84,151.24 L467.44,151.11 L468.04,151.02 L468.64,151.38 L469.24,151.21 L469.84,151.19 L470.44,151.19 L471.04,151.04 L471.64,151.39 L472.24,151.35 L472.84,151.38 L473.44,151.11 L474.04,151.37 L474.64,151.3 L475.24,151.47 L475.84,151.25 L476.44,151.28 L477.04,151.16 L477.64,151.32 L478.24,151.11 L478.84,151.45 L479.44,151.51 L480.04,151.28 L480.64,151.09 L481.24,151.05 L481.84,151.28 L482.44,151.5 L483.04,151.29 L483.64,151.17 L484.24,151.45 L484.84,151.15 L485.44,151.2 L486.04,151.48 L486.64,151.39 L487.24,151.42 L487.84,151.55 L488.44,151.22 L489.04,151.03 L489.64,151.35 L490.24,151.34 L490.84,151.43 L491.44,151.27 L492.04,151.47 L492.64,151.46 L493.24,151.41 L493.84,151.36 L494.44,151.35 L495.04,151.27 L495.64,151.05 L496.24,150.95 L496.84,150.91 L497.44,150.92 L498.04,151.24 L498.64,151.38 L499.24,151.35 L499.84,151.24 L500.44,151.2 L501.04,151.31 L501.64,151.04 L502.24,151.25 L502.84,151.5 L503.44,151.59 L504.04,151.57 L504.64,151.3 L505.24,151.11 L505.84,151.41 L506.44,151.47 L507.04,151.49 L507.64,151.23 L508.24,151.04 L508.84,151.26 L509.44,151.45 L510.04,151.11 L510.64,150.94 L511.24,150.98 L511.84,151.12 L512.44,151.05 L513.04,151 L513.64,151.11 L514.24,151.28 L514.84,151.23 L515.44,151.14 L516.04,151.26 L516.64,151.16 L517.24,151.35 L517.84,151.03 L518.44,151.25 L519.04,151.34 L519.64,151.02 L520.24,150.85 L520.84,150.78 L521.44,150.77 L522.04,150.76 L522.64,150.76 L523.24,150.88 L523.84,151.17 L524.44,150.98 L525.04,150.81 L525.64,150.71 L526.24,151.04 L526.84,151.18 L527.44,150.89 L528.04,150.83 L528.64,150.57 L529.24,150.36 L529.84,150.48 L530.44,150.39 L531.04,150.31 L531.64,150.2 L532.24,150.27 L532.84,150.14 L533.44,150.33 L534.04,150 L534.64,149.93 L535.24,149.88 L535.84,150.06 L536.44,150.32 L537.04,150.37 L537.64,150.33 L538.24,150.42 L538.84,150.72 L539.44,150.96 L540.04,150.92 L540.64,151 L541.24,151.07 L541.84,151.13 L542.44,151.09 L543.04,150.94 L543.64,150.77 L544.24,150.82 L544.84,151.18 L545.44,150.95 L546.04,150.97 L546.64,150.93 L547.24,150.97 L547.84,151.13 L548.44,151.22 L549.04,151.41 L549.64,151.21 L550.24,151.42 L550.84,151.21 L551.44,151 L552.04,151.01 L552.64,151.06 L553.24,150.98 L553.84,150.87 L554.44,150.89 L555.04,150.81 L555.64,151.04 L556.24,151.38 L556.84,151.25 L557.44,151.18 L558.04,151.03 L558.64,151.08 L559.24,151.23 L559.84,151.49 L560.44,151.2 L561.04,151.17 L561.64,150.97 L562.24,151.07 L562.84,150.99 L563.44,150.99 L564.04,150.88 L564.64,151.09 L565.24,150.98 L565.84,151.17 L566.44,151.47 L567.04,151.45 L567.64,151.44 L568.24,151.11 L568.84,151.24 L569.44,151.37 L570.04,151.23 L570.64,151.45 L571.24,151.46 L571.84,151.42 L572.44,151.54 L573.04,151.36 L573.64,151.36 L574.24,151.17 L574.84,151.3 L575.44,151.05 L576.04,151.32 L576.64,151.28 L577.24,151.42 L577.84,151.6 L578.44,151.54 L579.04,151.21 L579.64,151.35 L580.24,151.32 L580.84,151.29 L581.44,151.41 L582.04,151.33 L582.64,151.52 L583.24,151.48 L583.84,151.49 L584.44,151.23 L585.04,151.12 L585.64,151.1 L586.24,151.15 L586.84,151.03 L587.44,151.04 L588.04,151.39 L588.64,151.52 L589.24,151.28 L589.84,151.11 L590.44,150.96 L591.04,150.98 L591.64,151.31 L592.24,151.27 L592.84,151.22 L593.44,151.2 L594.04,151.43 L594.64,151.12 L595.24,151.2 L595.84,151.36 L596.44,151.09 L597.04,151.25 L597.64,151.48 L598.24,151.3 L598.84,151.42 L599.44,151.5 L600.04,151.49 L600.64,151.34 L601.24,151.41 L601.84,151.27 L602.44,151.08 L603.04,150.94 L603.64,150.92 L604.24,150.89 L604.84,151.22 L605.44,151.09 L606.04,151.4 L606.64,151.31 L607.24,151.51 L607.84,151.6" fill="none" stroke="#50c8e8" stroke-width="0.85" stroke-linejoin="round"/>
<path d="M458.34,156.49 L458.94,156.76 L459.54,156.63 L460.14,156.65 L460.74,156.9 L461.34,156.66 L461.94,156.87 L462.54,156.61 L463.14,156.51 L463.74,156.6 L464.34,156.67 L464.94,156.89 L465.54,156.7 L466.14,156.9 L466.74,156.79 L467.34,156.55 L467.94,156.54 L468.54,156.79 L469.14,156.64 L469.74,156.58 L470.34,156.71 L470.94,156.58 L471.54,156.6 L472.14,156.68 L472.74,156.68 L473.34,156.78 L473.94,156.83 L474.54,156.59 L475.14,156.71 L475.74,156.58 L476.34,156.69 L476.94,156.83 L477.54,156.98 L478.14,156.63 L478.74,156.54 L479.34,156.4 L479.94,156.5 L480.54,156.79 L481.14,156.89 L481.74,156.99 L482.34,156.79 L482.94,156.68 L483.54,156.48 L484.14,156.67 L484.74,156.8 L485.34,156.87 L485.94,156.93 L486.54,157 L487.14,156.85 L487.74,156.8 L488.34,156.8 L488.94,156.54 L489.54,156.69 L490.14,156.54 L490.74,156.6 L491.34,156.82 L491.94,156.96 L492.54,156.77 L493.14,156.55 L493.74,156.82 L494.34,156.66 L494.94,156.79 L495.54,156.65 L496.14,156.51 L496.74,156.49 L497.34,156.69 L497.94,156.84 L498.54,156.54 L499.14,156.42 L499.74,156.35 L500.34,156.49 L500.94,156.78 L501.54,156.78 L502.14,156.54 L502.74,156.79 L503.34,156.82 L503.94,156.94 L504.54,156.63 L505.14,156.7 L505.74,156.86 L506.34,156.82 L506.94,156.86 L507.54,156.78 L508.14,156.66 L508.74,156.58 L509.34,156.78 L509.94,156.69 L510.54,156.86 L511.14,156.76 L511.74,156.55 L512.34,156.69 L512.94,156.5 L513.54,156.66 L514.14,156.67 L514.74,156.5 L515.34,156.76 L515.94,156.64 L516.54,156.58 L517.14,156.46 L517.74,156.3 L518.34,156.32 L518.94,156.53 L519.54,156.64 L520.14,156.56 L520.74,156.6 L521.34,156.48 L521.94,156.61 L522.54,156.39 L523.14,156.39 L523.74,156.53 L524.34,156.54 L524.94,156.16 L525.54,155.97 L526.14,155.83 L526.74,155.94 L527.34,155.69 L527.94,155.88 L528.54,155.7 L529.14,155.47 L529.74,155.67 L530.34,155.84 L530.94,155.88 L531.54,155.94 L532.14,155.67 L532.74,155.66 L533.34,155.76 L533.94,156.01 L534.54,155.94 L535.14,156.17 L535.74,156.32 L536.34,156.22 L536.94,156.17 L537.54,156.1 L538.14,156.07 L538.74,156.39 L539.34,156.48 L539.94,156.62 L540.54,156.54 L541.14,156.72 L541.74,156.44 L542.34,156.4 L542.94,156.32 L543.54,156.44 L544.14,156.31 L544.74,156.28 L545.34,156.28 L545.94,156.29 L546.54,156.57 L547.14,156.65 L547.74,156.82 L548.34,156.6 L548.94,156.62 L549.54,156.4 L550.14,156.6 L550.74,156.65 L551.34,156.47 L551.94,156.34 L552.54,156.37 L553.14,156.34 L553.74,156.3 L554.34,156.57 L554.94,156.56 L555.54,156.8 L556.14,156.65 L556.74,156.45 L557.34,156.55 L557.94,156.76 L558.54,156.68 L559.14,156.87 L559.74,156.78 L560.34,156.91 L560.94,156.83 L561.54,156.6 L562.14,156.53 L562.74,156.44 L563.34,156.57 L563.94,156.65 L564.54,156.86 L565.14,156.64 L565.74,156.62 L566.34,156.69 L566.94,156.84 L567.54,156.78 L568.14,156.92 L568.74,156.97 L569.34,157 L569.94,156.88 L570.54,156.94 L571.14,156.66 L571.74,156.62 L572.34,156.49 L572.94,156.56 L573.54,156.77 L574.14,156.83 L574.74,156.6 L575.34,156.61 L575.94,156.58 L576.54,156.57 L577.14,156.83 L577.74,156.89 L578.34,156.82 L578.94,156.6 L579.54,156.44 L580.14,156.52 L580.74,156.71 L581.34,156.9 L581.94,156.77 L582.54,156.77 L583.14,156.54 L583.74,156.74 L584.34,156.85 L584.94,156.99 L585.54,157 L586.14,156.73 L586.74,156.54 L587.34,156.77 L587.94,156.95 L588.54,156.79 L589.14,156.85 L589.74,156.72 L590.34,156.52 L590.94,156.49 L591.54,156.69 L592.14,156.64 L592.74,156.76 L593.34,156.61 L593.94,156.76 L594.54,156.56 L595.14,156.55 L595.74,156.44 L596.34,156.64 L596.94,156.46 L597.54,156.54 L598.14,156.73 L598.74,156.64 L599.34,156.75 L599.94,156.9 L600.54,157 L601.14,156.8 L601.74,156.86 L602.34,156.96 L602.94,156.7 L603.54,156.86 L604.14,156.66 L604.74,156.78 L605.34,156.8 L605.39,157.2 L458.34,157.2 Z" fill="#acd9f7" stroke="none" stroke-width="1"/>
<path d="M458.34,156.49 L458.94,156.76 L459.54,156.63 L460.14,156.65 L460.74,156.9 L461.34,156.66 L461.94,156.87 L462.54,156.61 L463.14,156.51 L463.74,156.6 L464.34,156.67 L464.94,156.89 L465.54,156.7 L466.14,156.9 L466.74,156.79 L467.34,156.55 L467.94,156.54 L468.54,156.79 L469.14,156.64 L469.74,156.58 L470.34,156.71 L470.94,156.58 L471.54,156.6 L472.14,156.68 L472.74,156.68 L473.34,156.78 L473.94,156.83 L474.54,156.59 L475.14,156.71 L475.74,156.58 L476.34,156.69 L476.94,156.83 L477.54,156.98 L478.14,156.63 L478.74,156.54 L479.34,156.4 L479.94,156.5 L480.54,156.79 L481.14,156.89 L481.74,156.99 L482.34,156.79 L482.94,156.68 L483.54,156.48 L484.14,156.67 L484.74,156.8 L485.34,156.87 L485.94,156.93 L486.54,157 L487.14,156.85 L487.74,156.8 L488.34,156.8 L488.94,156.54 L489.54,156.69 L490.14,156.54 L490.74,156.6 L491.34,156.82 L491.94,156.96 L492.54,156.77 L493.14,156.55 L493.74,156.82 L494.34,156.66 L494.94,156.79 L495.54,156.65 L496.14,156.51 L496.74,156.49 L497.34,156.69 L497.94,156.84 L498.54,156.54 L499.14,156.42 L499.74,156.35 L500.34,156.49 L500.94,156.78 L501.54,156.78 L502.14,156.54 L502.74,156.79 L503.34,156.82 L503.94,156.94 L504.54,156.63 L505.14,156.7 L505.74,156.86 L506.34,156.82 L506.94,156.86 L507.54,156.78 L508.14,156.66 L508.74,156.58 L509.34,156.78 L509.94,156.69 L510.54,156.86 L511.14,156.76 L511.74,156.55 L512.34,156.69 L512.94,156.5 L513.54,156.66 L514.14,156.67 L514.74,156.5 L515.34,156.76 L515.94,156.64 L516.54,156.58 L517.14,156.46 L517.74,156.3 L518.34,156.32 L518.94,156.53 L519.54,156.64 L520.14,156.56 L520.74,156.6 L521.34,156.48 L521.94,156.61 L522.54,156.39 L523.14,156.39 L523.74,156.53 L524.34,156.54 L524.94,156.16 L525.54,155.97 L526.14,155.83 L526.74,155.94 L527.34,155.69 L527.94,155.88 L528.54,155.7 L529.14,155.47 L529.74,155.67 L530.34,155.84 L530.94,155.88 L531.54,155.94 L532.14,155.67 L532.74,155.66 L533.34,155.76 L533.94,156.01 L534.54,155.94 L535.14,156.17 L535.74,156.32 L536.34,156.22 L536.94,156.17 L537.54,156.1 L538.14,156.07 L538.74,156.39 L539.34,156.48 L539.94,156.62 L540.54,156.54 L541.14,156.72 L541.74,156.44 L542.34,156.4 L542.94,156.32 L543.54,156.44 L544.14,156.31 L544.74,156.28 L545.34,156.28 L545.94,156.29 L546.54,156.57 L547.14,156.65 L547.74,156.82 L548.34,156.6 L548.94,156.62 L549.54,156.4 L550.14,156.6 L550.74,156.65 L551.34,156.47 L551.94,156.34 L552.54,156.37 L553.14,156.34 L553.74,156.3 L554.34,156.57 L554.94,156.56 L555.54,156.8 L556.14,156.65 L556.74,156.45 L557.34,156.55 L557.94,156.76 L558.54,156.68 L559.14,156.87 L559.74,156.78 L560.34,156.91 L560.94,156.83 L561.54,156.6 L562.14,156.53 L562.74,156.44 L563.34,156.57 L563.94,156.65 L564.54,156.86 L565.14,156.64 L565.74,156.62 L566.34,156.69 L566.94,156.84 L567.54,156.78 L568.14,156.92 L568.74,156.97 L569.34,157 L569.94,156.88 L570.54,156.94 L571.14,156.66 L571.74,156.62 L572.34,156.49 L572.94,156.56 L573.54,156.77 L574.14,156.83 L574.74,156.6 L575.34,156.61 L575.94,156.58 L576.54,156.57 L577.14,156.83 L577.74,156.89 L578.34,156.82 L578.94,156.6 L579.54,156.44 L580.14,156.52 L580.74,156.71 L581.34,156.9 L581.94,156.77 L582.54,156.77 L583.14,156.54 L583.74,156.74 L584.34,156.85 L584.94,156.99 L585.54,157 L586.14,156.73 L586.74,156.54 L587.34,156.77 L587.94,156.95 L588.54,156.79 L589.14,156.85 L589.74,156.72 L590.34,156.52 L590.94,156.49 L591.54,156.69 L592.14,156.64 L592.74,156.76 L593.34,156.61 L593.94,156.76 L594.54,156.56 L595.14,156.55 L595.74,156.44 L596.34,156.64 L596.94,156.46 L597.54,156.54 L598.14,156.73 L598.74,156.64 L599.34,156.75 L599.94,156.9 L600.54,157 L601.14,156.8 L601.74,156.86 L602.34,156.96 L602.94,156.7 L603.54,156.86 L604.14,156.66 L604.74,156.78 L605.34,156.8" fill="none" stroke="#50b0f0" stroke-width="0.85" stroke-linejoin="round"/>
<path d="M454.03,161.92 L454.63,161.87 L455.23,161.85 L455.83,161.78 L456.43,161.89 L457.03,161.82 L457.63,161.9 L458.23,161.97 L458.83,162.1 L459.43,162.14 L460.03,162.09 L460.63,162.19 L461.23,162.08 L461.83,161.94 L462.43,161.93 L463.03,162.12 L463.63,162.3 L464.23,162.25 L464.83,162.19 L465.43,162 L466.03,162.03 L466.63,162.05 L467.23,162.03 L467.83,162.04 L468.43,161.99 L469.03,162.02 L469.63,162.03 L470.23,162.17 L470.83,162.28 L471.43,162.21 L472.03,161.99 L472.63,161.86 L473.23,162.06 L473.83,162.04 L474.43,162.06 L475.03,162.09 L475.63,162.22 L476.23,162.03 L476.83,162.23 L477.43,162.26 L478.03,162.26 L478.63,162.29 L479.23,162.31 L479.83,162.37 L480.43,162.21 L481.03,162.28 L481.63,162.12 L482.23,162.06 L482.83,162.02 L483.43,162.06 L484.03,162.02 L484.63,162.13 L485.23,162.12 L485.83,162.02 L486.43,162.16 L487.03,162.03 L487.63,162.02 L488.23,161.85 L488.83,161.92 L489.43,161.97 L490.03,161.91 L490.63,162.08 L491.23,162.13 L491.83,162.12 L492.43,162 L493.03,161.95 L493.63,162.13 L494.23,161.91 L494.83,161.79 L495.43,161.93 L496.03,161.79 L496.63,161.88 L497.23,162.01 L497.83,162.2 L498.43,162.32 L499.03,162.15 L499.63,162.01 L500.23,161.98 L500.83,161.9 L501.43,162 L502.03,161.92 L502.63,161.94 L503.23,161.93 L503.83,161.96 L504.43,161.93 L505.03,161.95 L505.63,162.15 L506.23,162.01 L506.83,161.93 L507.43,161.99 L508.03,161.81 L508.63,161.91 L509.23,162.08 L509.83,162.02 L510.43,162.05 L511.03,162.14 L511.63,161.89 L512.23,162.04 L512.83,161.9 L513.43,162.04 L514.03,161.96 L514.63,161.72 L515.23,161.96 L515.83,161.75 L516.43,161.98 L517.03,161.69 L517.63,161.56 L518.23,161.66 L518.83,161.62 L519.43,161.64 L520.03,161.75 L520.63,161.7 L521.23,161.6 L521.83,161.35 L522.43,161.48 L523.03,161.34 L523.63,161.24 L524.23,161.12 L524.83,160.91 L525.43,160.85 L526.03,160.9 L526.63,160.65 L527.23,160.67 L527.83,160.84 L528.43,160.84 L529.03,160.75 L529.63,161.09 L530.23,161.07 L530.83,161.17 L531.43,161.34 L532.03,161.52 L532.63,161.61 L533.23,161.61 L533.83,161.64 L534.43,161.61 L535.03,161.75 L535.63,161.7 L536.23,161.75 L536.83,161.66 L537.43,161.62 L538.03,161.84 L538.63,161.66 L539.23,161.76 L539.83,161.9 L540.43,162.01 L541.03,161.88 L541.63,161.94 L542.23,161.87 L542.83,162.02 L543.43,161.85 L544.03,162.01 L544.63,161.85 L545.23,161.95 L545.83,162.01 L546.43,161.98 L547.03,161.99 L547.63,161.98 L548.23,161.98 L548.83,161.82 L549.43,161.82 L550.03,162.09 L550.63,161.87 L551.23,162.15 L551.83,162.27 L552.43,162.03 L553.03,162.13 L553.63,162.28 L554.23,162.29 L554.83,162.17 L555.43,161.98 L556.03,162.21 L556.63,162.27 L557.23,162.36 L557.83,162.39 L558.43,162.3 L559.03,162.19 L559.63,161.94 L560.23,161.94 L560.83,161.86 L561.43,161.93 L562.03,161.83 L562.63,161.88 L563.23,162.08 L563.83,162.13 L564.43,162.11 L565.03,162.25 L565.63,161.99 L566.23,162.04 L566.83,162.18 L567.43,162.13 L568.03,161.98 L568.63,162.12 L569.23,162.06 L569.83,162.24 L570.43,162.26 L571.03,162.3 L571.63,162.19 L572.23,162.06 L572.83,162.18 L573.43,162.05 L574.03,162.03 L574.63,161.96 L575.23,161.82 L575.83,162.02 L576.43,161.85 L577.03,161.99 L577.63,162.03 L578.23,162.19 L578.83,162.3 L579.43,162.14 L580.03,162.27 L580.63,162.37 L581.23,162.39 L581.83,162.22 L582.43,162.28 L583.03,162.28 L583.63,162.08 L584.23,162.1 L584.83,162.24 L585.43,162.09 L586.03,161.89 L586.63,161.94 L587.23,162.04 L587.83,162.05 L588.43,161.99 L589.03,161.9 L589.63,161.88 L590.23,162.09 L590.83,161.98 L591.43,162.19 L592.03,162.29 L592.63,162.19 L593.23,162.27 L593.83,162.15 L594.43,162.21 L595.03,161.97 L595.63,162.06 L596.23,161.95 L596.83,161.84 L597.43,161.99 L598.03,161.93 L598.63,162.01 L599.23,162.09 L599.83,162.24 L600.43,162.1 L601.03,161.93 L601.63,161.94 L602.23,162.09 L602.46,162.6 L454.03,162.6 Z" fill="#b2c4f8" stroke="none" stroke-width="1"/>
<path d="M454.03,161.92 L454.63,161.87 L455.23,161.85 L455.83,161.78 L456.43,161.89 L457.03,161.82 L457.63,161.9 L458.23,161.97 L458.83,162.1 L459.43,162.14 L460.03,162.09 L460.63,162.19 L461.23,162.08 L461.83,161.94 L462.43,161.93 L463.03,162.12 L463.63,162.3 L464.23,162.25 L464.83,162.19 L465.43,162 L466.03,162.03 L466.63,162.05 L467.23,162.03 L467.83,162.04 L468.43,161.99 L469.03,162.02 L469.63,162.03 L470.23,162.17 L470.83,162.28 L471.43,162.21 L472.03,161.99 L472.63,161.86 L473.23,162.06 L473.83,162.04 L474.43,162.06 L475.03,162.09 L475.63,162.22 L476.23,162.03 L476.83,162.23 L477.43,162.26 L478.03,162.26 L478.63,162.29 L479.23,162.31 L479.83,162.37 L480.43,162.21 L481.03,162.28 L481.63,162.12 L482.23,162.06 L482.83,162.02 L483.43,162.06 L484.03,162.02 L484.63,162.13 L485.23,162.12 L485.83,162.02 L486.43,162.16 L487.03,162.03 L487.63,162.02 L488.23,161.85 L488.83,161.92 L489.43,161.97 L490.03,161.91 L490.63,162.08 L491.23,162.13 L491.83,162.12 L492.43,162 L493.03,161.95 L493.63,162.13 L494.23,161.91 L494.83,161.79 L495.43,161.93 L496.03,161.79 L496.63,161.88 L497.23,162.01 L497.83,162.2 L498.43,162.32 L499.03,162.15 L499.63,162.01 L500.23,161.98 L500.83,161.9 L501.43,162 L502.03,161.92 L502.63,161.94 L503.23,161.93 L503.83,161.96 L504.43,161.93 L505.03,161.95 L505.63,162.15 L506.23,162.01 L506.83,161.93 L507.43,161.99 L508.03,161.81 L508.63,161.91 L509.23,162.08 L509.83,162.02 L510.43,162.05 L511.03,162.14 L511.63,161.89 L512.23,162.04 L512.83,161.9 L513.43,162.04 L514.03,161.96 L514.63,161.72 L515.23,161.96 L515.83,161.75 L516.43,161.98 L517.03,161.69 L517.63,161.56 L518.23,161.66 L518.83,161.62 L519.43,161.64 L520.03,161.75 L520.63,161.7 L521.23,161.6 L521.83,161.35 L522.43,161.48 L523.03,161.34 L523.63,161.24 L524.23,161.12 L524.83,160.91 L525.43,160.85 L526.03,160.9 L526.63,160.65 L527.23,160.67 L527.83,160.84 L528.43,160.84 L529.03,160.75 L529.63,161.09 L530.23,161.07 L530.83,161.17 L531.43,161.34 L532.03,161.52 L532.63,161.61 L533.23,161.61 L533.83,161.64 L534.43,161.61 L535.03,161.75 L535.63,161.7 L536.23,161.75 L536.83,161.66 L537.43,161.62 L538.03,161.84 L538.63,161.66 L539.23,161.76 L539.83,161.9 L540.43,162.01 L541.03,161.88 L541.63,161.94 L542.23,161.87 L542.83,162.02 L543.43,161.85 L544.03,162.01 L544.63,161.85 L545.23,161.95 L545.83,162.01 L546.43,161.98 L547.03,161.99 L547.63,161.98 L548.23,161.98 L548.83,161.82 L549.43,161.82 L550.03,162.09 L550.63,161.87 L551.23,162.15 L551.83,162.27 L552.43,162.03 L553.03,162.13 L553.63,162.28 L554.23,162.29 L554.83,162.17 L555.43,161.98 L556.03,162.21 L556.63,162.27 L557.23,162.36 L557.83,162.39 L558.43,162.3 L559.03,162.19 L559.63,161.94 L560.23,161.94 L560.83,161.86 L561.43,161.93 L562.03,161.83 L562.63,161.88 L563.23,162.08 L563.83,162.13 L564.43,162.11 L565.03,162.25 L565.63,161.99 L566.23,162.04 L566.83,162.18 L567.43,162.13 L568.03,161.98 L568.63,162.12 L569.23,162.06 L569.83,162.24 L570.43,162.26 L571.03,162.3 L571.63,162.19 L572.23,162.06 L572.83,162.18 L573.43,162.05 L574.03,162.03 L574.63,161.96 L575.23,161.82 L575.83,162.02 L576.43,161.85 L577.03,161.99 L577.63,162.03 L578.23,162.19 L578.83,162.3 L579.43,162.14 L580.03,162.27 L580.63,162.37 L581.23,162.39 L581.83,162.22 L582.43,162.28 L583.03,162.28 L583.63,162.08 L584.23,162.1 L584.83,162.24 L585.43,162.09 L586.03,161.89 L586.63,161.94 L587.23,162.04 L587.83,162.05 L588.43,161.99 L589.03,161.9 L589.63,161.88 L590.23,162.09 L590.83,161.98 L591.43,162.19 L592.03,162.29 L592.63,162.19 L593.23,162.27 L593.83,162.15 L594.43,162.21 L595.03,161.97 L595.63,162.06 L596.23,161.95 L596.83,161.84 L597.43,161.99 L598.03,161.93 L598.63,162.01 L599.23,162.09 L599.83,162.24 L600.43,162.1 L601.03,161.93 L601.63,161.94 L602.23,162.09" fill="none" stroke="#5a80f0" stroke-width="0.85" stroke-linejoin="round"/>
<path d="M449.88,167.28 L450.48,167.34 L451.08,167.36 L451.68,167.22 L452.28,167.44 L452.88,167.37 L453.48,167.33 L454.08,167.44 L454.68,167.28 L455.28,167.38 L455.88,167.37 L456.48,167.42 L457.08,167.32 L457.68,167.33 L458.28,167.24 L458.88,167.3 L459.48,167.19 L460.08,167.22 L460.68,167.4 L461.28,167.35 L461.88,167.41 L462.48,167.42 L463.08,167.19 L463.68,167.25 L464.28,167.18 L464.88,167.36 L465.48,167.28 L466.08,167.42 L466.68,167.46 L467.28,167.51 L467.88,167.57 L468.48,167.28 L469.08,167.11 L469.68,167.25 L470.28,167.45 L470.88,167.28 L471.48,167.22 L472.08,167.42 L472.68,167.26 L473.28,167.43 L473.88,167.45 L474.48,167.27 L475.08,167.18 L475.68,167.33 L476.28,167.3 L476.88,167.18 L477.48,167.19 L478.08,167.23 L478.68,167.37 L479.28,167.48 L479.88,167.5 L480.48,167.38 L481.08,167.29 L481.68,167.3 L482.28,167.24 L482.88,167.24 L483.48,167.2 L484.08,167.27 L484.68,167.15 L485.28,167.2 L485.88,167.1 L486.48,167.01 L487.08,167.02 L487.68,167.05 L488.28,167.09 L488.88,167.16 L489.48,167.31 L490.08,167.43 L490.68,167.29 L491.28,167.37 L491.88,167.28 L492.48,167.25 L493.08,167.22 L493.68,167.26 L494.28,167.36 L494.88,167.38 L495.48,167.24 L496.08,167.11 L496.68,167.24 L497.28,167.31 L497.88,167.3 L498.48,167.3 L499.08,167.22 L499.68,167.13 L500.28,167.09 L500.88,167.05 L501.48,167.05 L502.08,166.97 L502.68,167.11 L503.28,167.18 L503.88,167.14 L504.48,167.24 L505.08,167.1 L505.68,167.18 L506.28,167.16 L506.88,167.16 L507.48,167.21 L508.08,167.37 L508.68,167.34 L509.28,167.25 L509.88,167.02 L510.48,167.2 L511.08,167 L511.68,166.87 L512.28,166.86 L512.88,167.03 L513.48,167.2 L514.08,166.95 L514.68,167.11 L515.28,167.09 L515.88,166.82 L516.48,166.76 L517.08,166.65 L517.68,166.56 L518.28,166.72 L518.88,166.64 L519.48,166.72 L520.08,166.6 L520.68,166.46 L521.28,166.23 L521.88,166.27 L522.48,166.13 L523.08,166.24 L523.68,166.25 L524.28,166.34 L524.88,166.22 L525.48,166.2 L526.08,166.19 L526.68,166.33 L527.28,166.26 L527.88,166.34 L528.48,166.48 L529.08,166.47 L529.68,166.75 L530.28,166.87 L530.88,166.86 L531.48,166.86 L532.08,166.74 L532.68,166.8 L533.28,167.08 L533.88,166.9 L534.48,166.99 L535.08,167.15 L535.68,167.03 L536.28,167.02 L536.88,166.95 L537.48,167.03 L538.08,167.18 L538.68,167.18 L539.28,167.19 L539.88,167.24 L540.48,167.18 L541.08,167.32 L541.68,167.35 L542.28,167.42 L542.88,167.49 L543.48,167.34 L544.08,167.19 L544.68,167.24 L545.28,167.09 L545.88,167.12 L546.48,167.12 L547.08,167.26 L547.68,167.1 L548.28,167.23 L548.88,167.11 L549.48,167.27 L550.08,167.1 L550.68,167.11 L551.28,167.3 L551.88,167.19 L552.48,167.35 L553.08,167.35 L553.68,167.35 L554.28,167.37 L554.88,167.37 L555.48,167.44 L556.08,167.39 L556.68,167.48 L557.28,167.26 L557.88,167.32 L558.48,167.22 L559.08,167.27 L559.68,167.1 L560.28,167.05 L560.88,167.09 L561.48,167.06 L562.08,167.01 L562.68,166.99 L563.28,167.16 L563.88,167.19 L564.48,167.39 L565.08,167.38 L565.68,167.4 L566.28,167.29 L566.88,167.47 L567.48,167.28 L568.08,167.44 L568.68,167.39 L569.28,167.34 L569.88,167.19 L570.48,167.19 L571.08,167.36 L571.68,167.26 L572.28,167.37 L572.88,167.29 L573.48,167.32 L574.08,167.13 L574.68,167.23 L575.28,167.34 L575.88,167.38 L576.48,167.17 L577.08,167.28 L577.68,167.38 L578.28,167.32 L578.88,167.24 L579.48,167.1 L580.08,167.35 L580.68,167.38 L581.28,167.25 L581.88,167.27 L582.48,167.21 L583.08,167.19 L583.68,167.39 L584.28,167.5 L584.88,167.52 L585.48,167.47 L586.08,167.5 L586.68,167.47 L587.28,167.52 L587.88,167.58 L588.48,167.43 L589.08,167.26 L589.68,167.4 L590.28,167.5 L590.88,167.31 L591.48,167.46 L592.08,167.51 L592.68,167.4 L593.28,167.42 L593.88,167.25 L594.48,167.27 L595.08,167.27 L595.68,167.33 L596.28,167.48 L596.88,167.27 L597.48,167.32 L598.08,167.19 L598.68,167.39 L599.28,167.36 L599.64,167.8 L449.88,167.8 Z" fill="#c2c2f8" stroke="none" stroke-width="1"/>
<path d="M449.88,167.28 L450.48,167.34 L451.08,167.36 L451.68,167.22 L452.28,167.44 L452.88,167.37 L453.48,167.33 L454.08,167.44 L454.68,167.28 L455.28,167.38 L455.88,167.37 L456.48,167.42 L457.08,167.32 L457.68,167.33 L458.28,167.24 L458.88,167.3 L459.48,167.19 L460.08,167.22 L460.68,167.4 L461.28,167.35 L461.88,167.41 L462.48,167.42 L463.08,167.19 L463.68,167.25 L464.28,167.18 L464.88,167.36 L465.48,167.28 L466.08,167.42 L466.68,167.46 L467.28,167.51 L467.88,167.57 L468.48,167.28 L469.08,167.11 L469.68,167.25 L470.28,167.45 L470.88,167.28 L471.48,167.22 L472.08,167.42 L472.68,167.26 L473.28,167.43 L473.88,167.45 L474.48,167.27 L475.08,167.18 L475.68,167.33 L476.28,167.3 L476.88,167.18 L477.48,167.19 L478.08,167.23 L478.68,167.37 L479.28,167.48 L479.88,167.5 L480.48,167.38 L481.08,167.29 L481.68,167.3 L482.28,167.24 L482.88,167.24 L483.48,167.2 L484.08,167.27 L484.68,167.15 L485.28,167.2 L485.88,167.1 L486.48,167.01 L487.08,167.02 L487.68,167.05 L488.28,167.09 L488.88,167.16 L489.48,167.31 L490.08,167.43 L490.68,167.29 L491.28,167.37 L491.88,167.28 L492.48,167.25 L493.08,167.22 L493.68,167.26 L494.28,167.36 L494.88,167.38 L495.48,167.24 L496.08,167.11 L496.68,167.24 L497.28,167.31 L497.88,167.3 L498.48,167.3 L499.08,167.22 L499.68,167.13 L500.28,167.09 L500.88,167.05 L501.48,167.05 L502.08,166.97 L502.68,167.11 L503.28,167.18 L503.88,167.14 L504.48,167.24 L505.08,167.1 L505.68,167.18 L506.28,167.16 L506.88,167.16 L507.48,167.21 L508.08,167.37 L508.68,167.34 L509.28,167.25 L509.88,167.02 L510.48,167.2 L511.08,167 L511.68,166.87 L512.28,166.86 L512.88,167.03 L513.48,167.2 L514.08,166.95 L514.68,167.11 L515.28,167.09 L515.88,166.82 L516.48,166.76 L517.08,166.65 L517.68,166.56 L518.28,166.72 L518.88,166.64 L519.48,166.72 L520.08,166.6 L520.68,166.46 L521.28,166.23 L521.88,166.27 L522.48,166.13 L523.08,166.24 L523.68,166.25 L524.28,166.34 L524.88,166.22 L525.48,166.2 L526.08,166.19 L526.68,166.33 L527.28,166.26 L527.88,166.34 L528.48,166.48 L529.08,166.47 L529.68,166.75 L530.28,166.87 L530.88,166.86 L531.48,166.86 L532.08,166.74 L532.68,166.8 L533.28,167.08 L533.88,166.9 L534.48,166.99 L535.08,167.15 L535.68,167.03 L536.28,167.02 L536.88,166.95 L537.48,167.03 L538.08,167.18 L538.68,167.18 L539.28,167.19 L539.88,167.24 L540.48,167.18 L541.08,167.32 L541.68,167.35 L542.28,167.42 L542.88,167.49 L543.48,167.34 L544.08,167.19 L544.68,167.24 L545.28,167.09 L545.88,167.12 L546.48,167.12 L547.08,167.26 L547.68,167.1 L548.28,167.23 L548.88,167.11 L549.48,167.27 L550.08,167.1 L550.68,167.11 L551.28,167.3 L551.88,167.19 L552.48,167.35 L553.08,167.35 L553.68,167.35 L554.28,167.37 L554.88,167.37 L555.48,167.44 L556.08,167.39 L556.68,167.48 L557.28,167.26 L557.88,167.32 L558.48,167.22 L559.08,167.27 L559.68,167.1 L560.28,167.05 L560.88,167.09 L561.48,167.06 L562.08,167.01 L562.68,166.99 L563.28,167.16 L563.88,167.19 L564.48,167.39 L565.08,167.38 L565.68,167.4 L566.28,167.29 L566.88,167.47 L567.48,167.28 L568.08,167.44 L568.68,167.39 L569.28,167.34 L569.88,167.19 L570.48,167.19 L571.08,167.36 L571.68,167.26 L572.28,167.37 L572.88,167.29 L573.48,167.32 L574.08,167.13 L574.68,167.23 L575.28,167.34 L575.88,167.38 L576.48,167.17 L577.08,167.28 L577.68,167.38 L578.28,167.32 L578.88,167.24 L579.48,167.1 L580.08,167.35 L580.68,167.38 L581.28,167.25 L581.88,167.27 L582.48,167.21 L583.08,167.19 L583.68,167.39 L584.28,167.5 L584.88,167.52 L585.48,167.47 L586.08,167.5 L586.68,167.47 L587.28,167.52 L587.88,167.58 L588.48,167.43 L589.08,167.26 L589.68,167.4 L590.28,167.5 L590.88,167.31 L591.48,167.46 L592.08,167.51 L592.68,167.4 L593.28,167.42 L593.88,167.25 L594.48,167.27 L595.08,167.27 L595.68,167.33 L596.28,167.48 L596.88,167.27 L597.48,167.32 L598.08,167.19 L598.68,167.39 L599.28,167.36" fill="none" stroke="#7878f0" stroke-width="0.85" stroke-linejoin="round"/>
<path d="M445.34,172.98 L445.94,173.1 L446.54,173.19 L447.14,172.94 L447.74,172.82 L448.34,172.74 L448.94,172.85 L449.54,172.84 L450.14,172.88 L450.74,172.94 L451.34,173.08 L451.94,172.99 L452.54,173.01 L453.14,172.94 L453.74,173.12 L454.34,173.12 L454.94,173.19 L455.54,173 L456.14,173 L456.74,173.07 L457.34,172.93 L457.94,172.95 L458.54,173.04 L459.14,173.05 L459.74,173.19 L460.34,173.24 L460.94,173.27 L461.54,172.97 L462.14,172.85 L462.74,172.9 L463.34,172.8 L463.94,172.88 L464.54,172.87 L465.14,173.06 L465.74,173.04 L466.34,172.98 L466.94,173.01 L467.54,172.95 L468.14,173.02 L468.74,172.95 L469.34,173.06 L469.94,173.03 L470.54,173.03 L471.14,173 L471.74,173.14 L472.34,173.15 L472.94,172.99 L473.54,173.1 L474.14,173.05 L474.74,172.85 L475.34,172.87 L475.94,172.85 L476.54,172.82 L477.14,172.74 L477.74,172.9 L478.34,172.97 L478.94,172.89 L479.54,173.09 L480.14,173.04 L480.74,173.08 L481.34,173.01 L481.94,172.91 L482.54,172.82 L483.14,172.89 L483.74,172.86 L484.34,173.06 L484.94,172.96 L485.54,172.81 L486.14,172.85 L486.74,172.91 L487.34,172.93 L487.94,172.97 L488.54,173.07 L489.14,173.12 L489.74,172.93 L490.34,172.94 L490.94,173.1 L491.54,172.98 L492.14,172.85 L492.74,172.85 L493.34,173 L493.94,172.82 L494.54,172.98 L495.14,172.95 L495.74,172.95 L496.34,173.05 L496.94,173.06 L497.54,173.09 L498.14,173.11 L498.74,173.16 L499.34,172.98 L499.94,172.88 L500.54,172.97 L501.14,172.77 L501.74,172.85 L502.34,172.87 L502.94,172.72 L503.54,172.73 L504.14,172.8 L504.74,172.73 L505.34,172.69 L505.94,172.81 L506.54,172.94 L507.14,172.77 L507.74,172.67 L508.34,172.66 L508.94,172.81 L509.54,172.65 L510.14,172.75 L510.74,172.57 L511.34,172.52 L511.94,172.47 L512.54,172.6 L513.14,172.54 L513.74,172.35 L514.34,172.43 L514.94,172.45 L515.54,172.29 L516.14,172.01 L516.74,171.9 L517.34,171.93 L517.94,171.95 L518.54,171.67 L519.14,171.51 L519.74,171.47 L520.34,171.64 L520.94,171.56 L521.54,171.82 L522.14,171.94 L522.74,172.01 L523.34,171.87 L523.94,172.17 L524.54,172.31 L525.14,172.23 L525.74,172.22 L526.34,172.41 L526.94,172.6 L527.54,172.45 L528.14,172.36 L528.74,172.36 L529.34,172.49 L529.94,172.73 L530.54,172.64 L531.14,172.64 L531.74,172.59 L532.34,172.6 L532.94,172.69 L533.54,172.59 L534.14,172.72 L534.74,172.8 L535.34,172.77 L535.94,172.72 L536.54,172.76 L537.14,172.67 L537.74,172.85 L538.34,172.74 L538.94,172.69 L539.54,172.84 L540.14,173.03 L540.74,172.94 L541.34,172.88 L541.94,172.75 L542.54,172.81 L543.14,172.79 L543.74,172.77 L544.34,172.97 L544.94,172.89 L545.54,172.94 L546.14,173.03 L546.74,173.06 L547.34,173.05 L547.94,172.92 L548.54,172.92 L549.14,173 L549.74,173.12 L550.34,172.94 L550.94,172.86 L551.54,172.8 L552.14,172.78 L552.74,173.02 L553.34,173.06 L553.94,173.03 L554.54,173.06 L555.14,172.91 L555.74,173.04 L556.34,173.17 L556.94,173.08 L557.54,173.18 L558.14,173.23 L558.74,173.07 L559.34,172.98 L559.94,172.96 L560.54,173.11 L561.14,173.02 L561.74,172.99 L562.34,173.05 L562.94,173.11 L563.54,173.16 L564.14,173.07 L564.74,173.07 L565.34,173 L565.94,172.93 L566.54,173.03 L567.14,172.97 L567.74,173.06 L568.34,172.94 L568.94,173.06 L569.54,172.99 L570.14,172.91 L570.74,172.84 L571.34,172.9 L571.94,172.8 L572.54,172.73 L573.14,172.76 L573.74,172.92 L574.34,173.03 L574.94,172.97 L575.54,173.1 L576.14,173.15 L576.74,173.21 L577.34,173.05 L577.94,173.05 L578.54,172.88 L579.14,172.83 L579.74,172.9 L580.34,173 L580.94,173.05 L581.54,173.17 L582.14,173.21 L582.74,172.97 L583.34,173.05 L583.94,173.19 L584.54,172.93 L585.14,173 L585.74,172.9 L586.34,172.96 L586.94,172.82 L587.54,173.05 L588.14,173.03 L588.74,172.96 L589.34,173.14 L589.94,172.92 L590.54,173.01 L591.14,172.94 L591.74,173.11 L592.34,173.19 L592.94,173.23 L593.54,173.01 L594.14,172.85 L594.74,172.78 L595.34,172.88 L595.94,173.07 L596.54,172.94 L596.55,173.5 L445.34,173.5 Z" fill="#cac3f8" stroke="none" stroke-width="1"/>
<path d="M445.34,172.98 L445.94,173.1 L446.54,173.19 L447.14,172.94 L447.74,172.82 L448.34,172.74 L448.94,172.85 L449.54,172.84 L450.14,172.88 L450.74,172.94 L451.34,173.08 L451.94,172.99 L452.54,173.01 L453.14,172.94 L453.74,173.12 L454.34,173.12 L454.94,173.19 L455.54,173 L456.14,173 L456.74,173.07 L457.34,172.93 L457.94,172.95 L458.54,173.04 L459.14,173.05 L459.74,173.19 L460.34,173.24 L460.94,173.27 L461.54,172.97 L462.14,172.85 L462.74,172.9 L463.34,172.8 L463.94,172.88 L464.54,172.87 L465.14,173.06 L465.74,173.04 L466.34,172.98 L466.94,173.01 L467.54,172.95 L468.14,173.02 L468.74,172.95 L469.34,173.06 L469.94,173.03 L470.54,173.03 L471.14,173 L471.74,173.14 L472.34,173.15 L472.94,172.99 L473.54,173.1 L474.14,173.05 L474.74,172.85 L475.34,172.87 L475.94,172.85 L476.54,172.82 L477.14,172.74 L477.74,172.9 L478.34,172.97 L478.94,172.89 L479.54,173.09 L480.14,173.04 L480.74,173.08 L481.34,173.01 L481.94,172.91 L482.54,172.82 L483.14,172.89 L483.74,172.86 L484.34,173.06 L484.94,172.96 L485.54,172.81 L486.14,172.85 L486.74,172.91 L487.34,172.93 L487.94,172.97 L488.54,173.07 L489.14,173.12 L489.74,172.93 L490.34,172.94 L490.94,173.1 L491.54,172.98 L492.14,172.85 L492.74,172.85 L493.34,173 L493.94,172.82 L494.54,172.98 L495.14,172.95 L495.74,172.95 L496.34,173.05 L496.94,173.06 L497.54,173.09 L498.14,173.11 L498.74,173.16 L499.34,172.98 L499.94,172.88 L500.54,172.97 L501.14,172.77 L501.74,172.85 L502.34,172.87 L502.94,172.72 L503.54,172.73 L504.14,172.8 L504.74,172.73 L505.34,172.69 L505.94,172.81 L506.54,172.94 L507.14,172.77 L507.74,172.67 L508.34,172.66 L508.94,172.81 L509.54,172.65 L510.14,172.75 L510.74,172.57 L511.34,172.52 L511.94,172.47 L512.54,172.6 L513.14,172.54 L513.74,172.35 L514.34,172.43 L514.94,172.45 L515.54,172.29 L516.14,172.01 L516.74,171.9 L517.34,171.93 L517.94,171.95 L518.54,171.67 L519.14,171.51 L519.74,171.47 L520.34,171.64 L520.94,171.56 L521.54,171.82 L522.14,171.94 L522.74,172.01 L523.34,171.87 L523.94,172.17 L524.54,172.31 L525.14,172.23 L525.74,172.22 L526.34,172.41 L526.94,172.6 L527.54,172.45 L528.14,172.36 L528.74,172.36 L529.34,172.49 L529.94,172.73 L530.54,172.64 L531.14,172.64 L531.74,172.59 L532.34,172.6 L532.94,172.69 L533.54,172.59 L534.14,172.72 L534.74,172.8 L535.34,172.77 L535.94,172.72 L536.54,172.76 L537.14,172.67 L537.74,172.85 L538.34,172.74 L538.94,172.69 L539.54,172.84 L540.14,173.03 L540.74,172.94 L541.34,172.88 L541.94,172.75 L542.54,172.81 L543.14,172.79 L543.74,172.77 L544.34,172.97 L544.94,172.89 L545.54,172.94 L546.14,173.03 L546.74,173.06 L547.34,173.05 L547.94,172.92 L548.54,172.92 L549.14,173 L549.74,173.12 L550.34,172.94 L550.94,172.86 L551.54,172.8 L552.14,172.78 L552.74,173.02 L553.34,173.06 L553.94,173.03 L554.54,173.06 L555.14,172.91 L555.74,173.04 L556.34,173.17 L556.94,173.08 L557.54,173.18 L558.14,173.23 L558.74,173.07 L559.34,172.98 L559.94,172.96 L560.54,173.11 L561.14,173.02 L561.74,172.99 L562.34,173.05 L562.94,173.11 L563.54,173.16 L564.14,173.07 L564.74,173.07 L565.34,173 L565.94,172.93 L566.54,173.03 L567.14,172.97 L567.74,173.06 L568.34,172.94 L568.94,173.06 L569.54,172.99 L570.14,172.91 L570.74,172.84 L571.34,172.9 L571.94,172.8 L572.54,172.73 L573.14,172.76 L573.74,172.92 L574.34,173.03 L574.94,172.97 L575.54,173.1 L576.14,173.15 L576.74,173.21 L577.34,173.05 L577.94,173.05 L578.54,172.88 L579.14,172.83 L579.74,172.9 L580.34,173 L580.94,173.05 L581.54,173.17 L582.14,173.21 L582.74,172.97 L583.34,173.05 L583.94,173.19 L584.54,172.93 L585.14,173 L585.74,172.9 L586.34,172.96 L586.94,172.82 L587.54,173.05 L588.14,173.03 L588.74,172.96 L589.34,173.14 L589.94,172.92 L590.54,173.01 L591.14,172.94 L591.74,173.11 L592.34,173.19 L592.94,173.23 L593.54,173.01 L594.14,172.85 L594.74,172.78 L595.34,172.88 L595.94,173.07 L596.54,172.94" fill="none" stroke="#8878f0" stroke-width="0.85" stroke-linejoin="round"/>
<path d="M440.87,178.59 L441.47,178.5 L442.07,178.5 L442.67,178.53 L443.27,178.66 L443.87,178.74 L444.47,178.8 L445.07,178.72 L445.67,178.72 L446.27,178.51 L446.87,178.69 L447.47,178.56 L448.07,178.69 L448.67,178.77 L449.27,178.54 L449.87,178.66 L450.47,178.59 L451.07,178.56 L451.67,178.61 L452.27,178.65 L452.87,178.73 L453.47,178.6 L454.07,178.63 L454.67,178.58 L455.27,178.48 L455.87,178.67 L456.47,178.65 L457.07,178.67 L457.67,178.49 L458.27,178.5 L458.87,178.64 L459.47,178.62 L460.07,178.76 L460.67,178.67 L461.27,178.76 L461.87,178.79 L462.47,178.68 L463.07,178.62 L463.67,178.69 L464.27,178.61 L464.87,178.66 L465.47,178.55 L466.07,178.71 L466.67,178.54 L467.27,178.57 L467.87,178.68 L468.47,178.7 L469.07,178.6 L469.67,178.72 L470.27,178.52 L470.87,178.63 L471.47,178.63 L472.07,178.74 L472.67,178.67 L473.27,178.48 L473.87,178.62 L474.47,178.7 L475.07,178.62 L475.67,178.55 L476.27,178.67 L476.87,178.71 L477.47,178.61 L478.07,178.67 L478.67,178.77 L479.27,178.6 L479.87,178.47 L480.47,178.42 L481.07,178.38 L481.67,178.56 L482.27,178.62 L482.87,178.56 L483.47,178.52 L484.07,178.5 L484.67,178.51 L485.27,178.61 L485.87,178.66 L486.47,178.74 L487.07,178.78 L487.67,178.63 L488.27,178.72 L488.87,178.51 L489.47,178.38 L490.07,178.56 L490.67,178.4 L491.27,178.42 L491.87,178.63 L492.47,178.61 L493.07,178.6 L493.67,178.62 L494.27,178.7 L494.87,178.68 L495.47,178.74 L496.07,178.63 L496.67,178.56 L497.27,178.6 L497.87,178.4 L498.47,178.3 L499.07,178.37 L499.67,178.31 L500.27,178.41 L500.87,178.33 L501.47,178.28 L502.07,178.38 L502.67,178.29 L503.27,178.37 L503.87,178.45 L504.47,178.4 L505.07,178.46 L505.67,178.28 L506.27,178.32 L506.87,178.25 L507.47,178.09 L508.07,178.05 L508.67,177.9 L509.27,177.86 L509.87,177.81 L510.47,177.73 L511.07,177.66 L511.67,177.5 L512.27,177.48 L512.87,177.39 L513.47,177.33 L514.07,177.26 L514.67,177.05 L515.27,177.13 L515.87,177.2 L516.47,177.15 L517.07,177.21 L517.67,177.15 L518.27,177.2 L518.87,177.48 L519.47,177.61 L520.07,177.6 L520.67,177.71 L521.27,177.72 L521.87,177.83 L522.47,178.03 L523.07,177.98 L523.67,177.89 L524.27,178.15 L524.87,178.13 L525.47,178.14 L526.07,178.17 L526.67,178.22 L527.27,178.27 L527.87,178.15 L528.47,178.13 L529.07,178.27 L529.67,178.23 L530.27,178.27 L530.87,178.24 L531.47,178.18 L532.07,178.45 L532.67,178.54 L533.27,178.58 L533.87,178.42 L534.47,178.32 L535.07,178.49 L535.67,178.49 L536.27,178.37 L536.87,178.36 L537.47,178.41 L538.07,178.33 L538.67,178.29 L539.27,178.53 L539.87,178.38 L540.47,178.52 L541.07,178.49 L541.67,178.43 L542.27,178.55 L542.87,178.6 L543.47,178.44 L544.07,178.4 L544.67,178.32 L545.27,178.56 L545.87,178.52 L546.47,178.46 L547.07,178.36 L547.67,178.39 L548.27,178.54 L548.87,178.68 L549.47,178.72 L550.07,178.72 L550.67,178.62 L551.27,178.65 L551.87,178.72 L552.47,178.77 L553.07,178.61 L553.67,178.49 L554.27,178.65 L554.87,178.6 L555.47,178.44 L556.07,178.55 L556.67,178.55 L557.27,178.46 L557.87,178.67 L558.47,178.5 L559.07,178.45 L559.67,178.44 L560.27,178.56 L560.87,178.57 L561.47,178.43 L562.07,178.64 L562.67,178.74 L563.27,178.62 L563.87,178.46 L564.47,178.63 L565.07,178.7 L565.67,178.65 L566.27,178.53 L566.87,178.53 L567.47,178.51 L568.07,178.69 L568.67,178.73 L569.27,178.63 L569.87,178.54 L570.47,178.69 L571.07,178.77 L571.67,178.73 L572.27,178.69 L572.87,178.69 L573.47,178.74 L574.07,178.8 L574.67,178.65 L575.27,178.47 L575.87,178.49 L576.47,178.4 L577.07,178.61 L577.67,178.56 L578.27,178.62 L578.87,178.49 L579.47,178.51 L580.07,178.51 L580.67,178.42 L581.27,178.36 L581.87,178.59 L582.47,178.61 L583.07,178.73 L583.67,178.64 L584.27,178.7 L584.87,178.58 L585.47,178.63 L586.07,178.77 L586.67,178.56 L587.27,178.69 L587.87,178.71 L588.47,178.65 L589.07,178.76 L589.67,178.59 L590.27,178.52 L590.87,178.68 L591.47,178.6 L592.07,178.71 L592.67,178.64 L593.27,178.75 L593.51,179.1 L440.87,179.1 Z" fill="#d6c1f8" stroke="none" stroke-width="1"/>
<path d="M440.87,178.59 L441.47,178.5 L442.07,178.5 L442.67,178.53 L443.27,178.66 L443.87,178.74 L444.47,178.8 L445.07,178.72 L445.67,178.72 L446.27,178.51 L446.87,178.69 L447.47,178.56 L448.07,178.69 L448.67,178.77 L449.27,178.54 L449.87,178.66 L450.47,178.59 L451.07,178.56 L451.67,178.61 L452.27,178.65 L452.87,178.73 L453.47,178.6 L454.07,178.63 L454.67,178.58 L455.27,178.48 L455.87,178.67 L456.47,178.65 L457.07,178.67 L457.67,178.49 L458.27,178.5 L458.87,178.64 L459.47,178.62 L460.07,178.76 L460.67,178.67 L461.27,178.76 L461.87,178.79 L462.47,178.68 L463.07,178.62 L463.67,178.69 L464.27,178.61 L464.87,178.66 L465.47,178.55 L466.07,178.71 L466.67,178.54 L467.27,178.57 L467.87,178.68 L468.47,178.7 L469.07,178.6 L469.67,178.72 L470.27,178.52 L470.87,178.63 L471.47,178.63 L472.07,178.74 L472.67,178.67 L473.27,178.48 L473.87,178.62 L474.47,178.7 L475.07,178.62 L475.67,178.55 L476.27,178.67 L476.87,178.71 L477.47,178.61 L478.07,178.67 L478.67,178.77 L479.27,178.6 L479.87,178.47 L480.47,178.42 L481.07,178.38 L481.67,178.56 L482.27,178.62 L482.87,178.56 L483.47,178.52 L484.07,178.5 L484.67,178.51 L485.27,178.61 L485.87,178.66 L486.47,178.74 L487.07,178.78 L487.67,178.63 L488.27,178.72 L488.87,178.51 L489.47,178.38 L490.07,178.56 L490.67,178.4 L491.27,178.42 L491.87,178.63 L492.47,178.61 L493.07,178.6 L493.67,178.62 L494.27,178.7 L494.87,178.68 L495.47,178.74 L496.07,178.63 L496.67,178.56 L497.27,178.6 L497.87,178.4 L498.47,178.3 L499.07,178.37 L499.67,178.31 L500.27,178.41 L500.87,178.33 L501.47,178.28 L502.07,178.38 L502.67,178.29 L503.27,178.37 L503.87,178.45 L504.47,178.4 L505.07,178.46 L505.67,178.28 L506.27,178.32 L506.87,178.25 L507.47,178.09 L508.07,178.05 L508.67,177.9 L509.27,177.86 L509.87,177.81 L510.47,177.73 L511.07,177.66 L511.67,177.5 L512.27,177.48 L512.87,177.39 L513.47,177.33 L514.07,177.26 L514.67,177.05 L515.27,177.13 L515.87,177.2 L516.47,177.15 L517.07,177.21 L517.67,177.15 L518.27,177.2 L518.87,177.48 L519.47,177.61 L520.07,177.6 L520.67,177.71 L521.27,177.72 L521.87,177.83 L522.47,178.03 L523.07,177.98 L523.67,177.89 L524.27,178.15 L524.87,178.13 L525.47,178.14 L526.07,178.17 L526.67,178.22 L527.27,178.27 L527.87,178.15 L528.47,178.13 L529.07,178.27 L529.67,178.23 L530.27,178.27 L530.87,178.24 L531.47,178.18 L532.07,178.45 L532.67,178.54 L533.27,178.58 L533.87,178.42 L534.47,178.32 L535.07,178.49 L535.67,178.49 L536.27,178.37 L536.87,178.36 L537.47,178.41 L538.07,178.33 L538.67,178.29 L539.27,178.53 L539.87,178.38 L540.47,178.52 L541.07,178.49 L541.67,178.43 L542.27,178.55 L542.87,178.6 L543.47,178.44 L544.07,178.4 L544.67,178.32 L545.27,178.56 L545.87,178.52 L546.47,178.46 L547.07,178.36 L547.67,178.39 L548.27,178.54 L548.87,178.68 L549.47,178.72 L550.07,178.72 L550.67,178.62 L551.27,178.65 L551.87,178.72 L552.47,178.77 L553.07,178.61 L553.67,178.49 L554.27,178.65 L554.87,178.6 L555.47,178.44 L556.07,178.55 L556.67,178.55 L557.27,178.46 L557.87,178.67 L558.47,178.5 L559.07,178.45 L559.67,178.44 L560.27,178.56 L560.87,178.57 L561.47,178.43 L562.07,178.64 L562.67,178.74 L563.27,178.62 L563.87,178.46 L564.47,178.63 L565.07,178.7 L565.67,178.65 L566.27,178.53 L566.87,178.53 L567.47,178.51 L568.07,178.69 L568.67,178.73 L569.27,178.63 L569.87,178.54 L570.47,178.69 L571.07,178.77 L571.67,178.73 L572.27,178.69 L572.87,178.69 L573.47,178.74 L574.07,178.8 L574.67,178.65 L575.27,178.47 L575.87,178.49 L576.47,178.4 L577.07,178.61 L577.67,178.56 L578.27,178.62 L578.87,178.49 L579.47,178.51 L580.07,178.51 L580.67,178.42 L581.27,178.36 L581.87,178.59 L582.47,178.61 L583.07,178.73 L583.67,178.64 L584.27,178.7 L584.87,178.58 L585.47,178.63 L586.07,178.77 L586.67,178.56 L587.27,178.69 L587.87,178.71 L588.47,178.65 L589.07,178.76 L589.67,178.59 L590.27,178.52 L590.87,178.68 L591.47,178.6 L592.07,178.71 L592.67,178.64 L593.27,178.75" fill="none" stroke="#a070f0" stroke-width="0.85" stroke-linejoin="round"/>
<path d="M436.01,184.76 L436.61,184.74 L437.21,184.7 L437.81,184.65 L438.41,184.54 L439.01,184.67 L439.61,184.72 L440.21,184.8 L440.81,184.67 L441.41,184.72 L442.01,184.79 L442.61,184.84 L443.21,184.79 L443.81,184.64 L444.41,184.68 L445.01,184.59 L445.61,184.65 L446.21,184.64 L446.81,184.74 L447.41,184.74 L448.01,184.65 L448.61,184.8 L449.21,184.76 L449.81,184.8 L450.41,184.81 L451.01,184.8 L451.61,184.83 L452.21,184.74 L452.81,184.85 L453.41,184.85 L454.01,184.84 L454.61,184.86 L455.21,184.67 L455.81,184.62 L456.41,184.54 L457.01,184.72 L457.61,184.8 L458.21,184.8 L458.81,184.74 L459.41,184.61 L460.01,184.55 L460.61,184.51 L461.21,184.74 L461.81,184.86 L462.41,184.82 L463.01,184.77 L463.61,184.88 L464.21,184.82 L464.81,184.87 L465.41,184.66 L466.01,184.76 L466.61,184.77 L467.21,184.83 L467.81,184.65 L468.41,184.78 L469.01,184.75 L469.61,184.8 L470.21,184.81 L470.81,184.59 L471.41,184.57 L472.01,184.55 L472.61,184.65 L473.21,184.52 L473.81,184.45 L474.41,184.52 L475.01,184.68 L475.61,184.81 L476.21,184.72 L476.81,184.7 L477.41,184.57 L478.01,184.47 L478.61,184.47 L479.21,184.64 L479.81,184.5 L480.41,184.55 L481.01,184.74 L481.61,184.79 L482.21,184.58 L482.81,184.53 L483.41,184.51 L484.01,184.53 L484.61,184.73 L485.21,184.55 L485.81,184.66 L486.41,184.56 L487.01,184.59 L487.61,184.61 L488.21,184.61 L488.81,184.49 L489.41,184.45 L490.01,184.57 L490.61,184.48 L491.21,184.64 L491.81,184.67 L492.41,184.69 L493.01,184.77 L493.61,184.71 L494.21,184.79 L494.81,184.54 L495.41,184.45 L496.01,184.5 L496.61,184.65 L497.21,184.66 L497.81,184.5 L498.41,184.56 L499.01,184.64 L499.61,184.57 L500.21,184.48 L500.81,184.56 L501.41,184.52 L502.01,184.42 L502.61,184.3 L503.21,184.33 L503.81,184.14 L504.41,184.25 L505.01,184.12 L505.61,184.23 L506.21,184 L506.81,183.96 L507.41,184.01 L508.01,183.8 L508.61,183.62 L509.21,183.72 L509.81,183.5 L510.41,183.33 L511.01,183.41 L511.61,183.3 L512.21,183.28 L512.81,183.33 L513.41,183.45 L514.01,183.57 L514.61,183.52 L515.21,183.56 L515.81,183.57 L516.41,183.89 L517.01,183.93 L517.61,183.95 L518.21,184.13 L518.81,184.31 L519.41,184.16 L520.01,184.14 L520.61,184.17 L521.21,184.32 L521.81,184.37 L522.41,184.3 L523.01,184.49 L523.61,184.41 L524.21,184.38 L524.81,184.45 L525.41,184.34 L526.01,184.39 L526.61,184.35 L527.21,184.54 L527.81,184.58 L528.41,184.63 L529.01,184.6 L529.61,184.52 L530.21,184.4 L530.81,184.37 L531.41,184.38 L532.01,184.35 L532.61,184.41 L533.21,184.44 L533.81,184.65 L534.41,184.67 L535.01,184.65 L535.61,184.76 L536.21,184.57 L536.81,184.64 L537.41,184.72 L538.01,184.81 L538.61,184.71 L539.21,184.73 L539.81,184.55 L540.41,184.56 L541.01,184.63 L541.61,184.75 L542.21,184.84 L542.81,184.69 L543.41,184.64 L544.01,184.65 L544.61,184.66 L545.21,184.69 L545.81,184.55 L546.41,184.74 L547.01,184.79 L547.61,184.64 L548.21,184.71 L548.81,184.74 L549.41,184.73 L550.01,184.76 L550.61,184.64 L551.21,184.78 L551.81,184.71 L552.41,184.63 L553.01,184.7 L553.61,184.62 L554.21,184.69 L554.81,184.65 L555.41,184.78 L556.01,184.79 L556.61,184.71 L557.21,184.66 L557.81,184.68 L558.41,184.82 L559.01,184.74 L559.61,184.6 L560.21,184.71 L560.81,184.79 L561.41,184.7 L562.01,184.77 L562.61,184.85 L563.21,184.9 L563.81,184.75 L564.41,184.6 L565.01,184.56 L565.61,184.6 L566.21,184.53 L566.81,184.5 L567.41,184.66 L568.01,184.71 L568.61,184.56 L569.21,184.49 L569.81,184.54 L570.41,184.58 L571.01,184.68 L571.61,184.81 L572.21,184.8 L572.81,184.83 L573.41,184.72 L574.01,184.66 L574.61,184.63 L575.21,184.54 L575.81,184.76 L576.41,184.82 L577.01,184.88 L577.61,184.82 L578.21,184.63 L578.81,184.67 L579.41,184.59 L580.01,184.74 L580.61,184.76 L581.21,184.63 L581.81,184.73 L582.41,184.64 L583.01,184.63 L583.61,184.62 L584.21,184.8 L584.81,184.79 L585.41,184.59 L586.01,184.68 L586.61,184.75 L587.21,184.57 L587.81,184.6 L588.41,184.59 L589.01,184.65 L589.61,184.63 L590.21,184.7 L590.2,185.2 L436.01,185.2 Z" fill="#ddc2f5" stroke="none" stroke-width="1"/>
<path d="M436.01,184.76 L436.61,184.74 L437.21,184.7 L437.81,184.65 L438.41,184.54 L439.01,184.67 L439.61,184.72 L440.21,184.8 L440.81,184.67 L441.41,184.72 L442.01,184.79 L442.61,184.84 L443.21,184.79 L443.81,184.64 L444.41,184.68 L445.01,184.59 L445.61,184.65 L446.21,184.64 L446.81,184.74 L447.41,184.74 L448.01,184.65 L448.61,184.8 L449.21,184.76 L449.81,184.8 L450.41,184.81 L451.01,184.8 L451.61,184.83 L452.21,184.74 L452.81,184.85 L453.41,184.85 L454.01,184.84 L454.61,184.86 L455.21,184.67 L455.81,184.62 L456.41,184.54 L457.01,184.72 L457.61,184.8 L458.21,184.8 L458.81,184.74 L459.41,184.61 L460.01,184.55 L460.61,184.51 L461.21,184.74 L461.81,184.86 L462.41,184.82 L463.01,184.77 L463.61,184.88 L464.21,184.82 L464.81,184.87 L465.41,184.66 L466.01,184.76 L466.61,184.77 L467.21,184.83 L467.81,184.65 L468.41,184.78 L469.01,184.75 L469.61,184.8 L470.21,184.81 L470.81,184.59 L471.41,184.57 L472.01,184.55 L472.61,184.65 L473.21,184.52 L473.81,184.45 L474.41,184.52 L475.01,184.68 L475.61,184.81 L476.21,184.72 L476.81,184.7 L477.41,184.57 L478.01,184.47 L478.61,184.47 L479.21,184.64 L479.81,184.5 L480.41,184.55 L481.01,184.74 L481.61,184.79 L482.21,184.58 L482.81,184.53 L483.41,184.51 L484.01,184.53 L484.61,184.73 L485.21,184.55 L485.81,184.66 L486.41,184.56 L487.01,184.59 L487.61,184.61 L488.21,184.61 L488.81,184.49 L489.41,184.45 L490.01,184.57 L490.61,184.48 L491.21,184.64 L491.81,184.67 L492.41,184.69 L493.01,184.77 L493.61,184.71 L494.21,184.79 L494.81,184.54 L495.41,184.45 L496.01,184.5 L496.61,184.65 L497.21,184.66 L497.81,184.5 L498.41,184.56 L499.01,184.64 L499.61,184.57 L500.21,184.48 L500.81,184.56 L501.41,184.52 L502.01,184.42 L502.61,184.3 L503.21,184.33 L503.81,184.14 L504.41,184.25 L505.01,184.12 L505.61,184.23 L506.21,184 L506.81,183.96 L507.41,184.01 L508.01,183.8 L508.61,183.62 L509.21,183.72 L509.81,183.5 L510.41,183.33 L511.01,183.41 L511.61,183.3 L512.21,183.28 L512.81,183.33 L513.41,183.45 L514.01,183.57 L514.61,183.52 L515.21,183.56 L515.81,183.57 L516.41,183.89 L517.01,183.93 L517.61,183.95 L518.21,184.13 L518.81,184.31 L519.41,184.16 L520.01,184.14 L520.61,184.17 L521.21,184.32 L521.81,184.37 L522.41,184.3 L523.01,184.49 L523.61,184.41 L524.21,184.38 L524.81,184.45 L525.41,184.34 L526.01,184.39 L526.61,184.35 L527.21,184.54 L527.81,184.58 L528.41,184.63 L529.01,184.6 L529.61,184.52 L530.21,184.4 L530.81,184.37 L531.41,184.38 L532.01,184.35 L532.61,184.41 L533.21,184.44 L533.81,184.65 L534.41,184.67 L535.01,184.65 L535.61,184.76 L536.21,184.57 L536.81,184.64 L537.41,184.72 L538.01,184.81 L538.61,184.71 L539.21,184.73 L539.81,184.55 L540.41,184.56 L541.01,184.63 L541.61,184.75 L542.21,184.84 L542.81,184.69 L543.41,184.64 L544.01,184.65 L544.61,184.66 L545.21,184.69 L545.81,184.55 L546.41,184.74 L547.01,184.79 L547.61,184.64 L548.21,184.71 L548.81,184.74 L549.41,184.73 L550.01,184.76 L550.61,184.64 L551.21,184.78 L551.81,184.71 L552.41,184.63 L553.01,184.7 L553.61,184.62 L554.21,184.69 L554.81,184.65 L555.41,184.78 L556.01,184.79 L556.61,184.71 L557.21,184.66 L557.81,184.68 L558.41,184.82 L559.01,184.74 L559.61,184.6 L560.21,184.71 L560.81,184.79 L561.41,184.7 L562.01,184.77 L562.61,184.85 L563.21,184.9 L563.81,184.75 L564.41,184.6 L565.01,184.56 L565.61,184.6 L566.21,184.53 L566.81,184.5 L567.41,184.66 L568.01,184.71 L568.61,184.56 L569.21,184.49 L569.81,184.54 L570.41,184.58 L571.01,184.68 L571.61,184.81 L572.21,184.8 L572.81,184.83 L573.41,184.72 L574.01,184.66 L574.61,184.63 L575.21,184.54 L575.81,184.76 L576.41,184.82 L577.01,184.88 L577.61,184.82 L578.21,184.63 L578.81,184.67 L579.41,184.59 L580.01,184.74 L580.61,184.76 L581.21,184.63 L581.81,184.73 L582.41,184.64 L583.01,184.63 L583.61,184.62 L584.21,184.8 L584.81,184.79 L585.41,184.59 L586.01,184.68 L586.61,184.75 L587.21,184.57 L587.81,184.6 L588.41,184.59 L589.01,184.65 L589.61,184.63 L590.21,184.7" fill="none" stroke="#b070e8" stroke-width="0.85" stroke-linejoin="round"/>
<path d="M430.59,191.56 L431.19,191.59 L431.79,191.62 L432.39,191.5 L432.99,191.62 L433.59,191.67 L434.19,191.58 L434.79,191.39 L435.39,191.36 L435.99,191.37 L436.59,191.36 L437.19,191.52 L437.79,191.5 L438.39,191.64 L438.99,191.56 L439.59,191.67 L440.19,191.7 L440.79,191.71 L441.39,191.65 L441.99,191.58 L442.59,191.62 L443.19,191.68 L443.79,191.7 L444.39,191.46 L444.99,191.33 L445.59,191.29 L446.19,191.5 L446.79,191.58 L447.39,191.42 L447.99,191.6 L448.59,191.65 L449.19,191.53 L449.79,191.37 L450.39,191.3 L450.99,191.29 L451.59,191.45 L452.19,191.4 L452.79,191.31 L453.39,191.28 L453.99,191.24 L454.59,191.29 L455.19,191.3 L455.79,191.33 L456.39,191.43 L456.99,191.44 L457.59,191.33 L458.19,191.39 L458.79,191.58 L459.39,191.55 L459.99,191.41 L460.59,191.38 L461.19,191.44 L461.79,191.33 L462.39,191.33 L462.99,191.49 L463.59,191.43 L464.19,191.34 L464.79,191.56 L465.39,191.39 L465.99,191.46 L466.59,191.36 L467.19,191.57 L467.79,191.58 L468.39,191.59 L468.99,191.62 L469.59,191.5 L470.19,191.4 L470.79,191.39 L471.39,191.31 L471.99,191.51 L472.59,191.55 L473.19,191.54 L473.79,191.42 L474.39,191.37 L474.99,191.27 L475.59,191.26 L476.19,191.35 L476.79,191.34 L477.39,191.3 L477.99,191.38 L478.59,191.37 L479.19,191.31 L479.79,191.28 L480.39,191.47 L480.99,191.6 L481.59,191.46 L482.19,191.36 L482.79,191.5 L483.39,191.37 L483.99,191.33 L484.59,191.48 L485.19,191.56 L485.79,191.45 L486.39,191.4 L486.99,191.51 L487.59,191.34 L488.19,191.46 L488.79,191.34 L489.39,191.24 L489.99,191.43 L490.59,191.35 L491.19,191.35 L491.79,191.24 L492.39,191.32 L492.99,191.36 L493.59,191.43 L494.19,191.28 L494.79,191.35 L495.39,191.21 L495.99,191.39 L496.59,191.21 L497.19,191.37 L497.79,191.23 L498.39,191.08 L498.99,191.17 L499.59,191.12 L500.19,191.13 L500.79,191.22 L501.39,191.01 L501.99,190.97 L502.59,190.84 L503.19,190.96 L503.79,190.96 L504.39,190.9 L504.99,190.66 L505.59,190.75 L506.19,190.77 L506.79,190.66 L507.39,190.61 L507.99,190.45 L508.59,190.39 L509.19,190.58 L509.79,190.55 L510.39,190.69 L510.99,190.67 L511.59,190.73 L512.19,190.97 L512.79,190.99 L513.39,191.04 L513.99,191.08 L514.59,191.09 L515.19,191.07 L515.79,191.16 L516.39,191.19 L516.99,191.12 L517.59,191.14 L518.19,191.31 L518.79,191.42 L519.39,191.44 L519.99,191.25 L520.59,191.33 L521.19,191.23 L521.79,191.16 L522.39,191.21 L522.99,191.34 L523.59,191.29 L524.19,191.34 L524.79,191.24 L525.39,191.32 L525.99,191.33 L526.59,191.32 L527.19,191.33 L527.79,191.48 L528.39,191.43 L528.99,191.46 L529.59,191.39 L530.19,191.33 L530.79,191.48 L531.39,191.5 L531.99,191.55 L532.59,191.36 L533.19,191.41 L533.79,191.45 L534.39,191.31 L534.99,191.3 L535.59,191.27 L536.19,191.37 L536.79,191.53 L537.39,191.53 L537.99,191.63 L538.59,191.58 L539.19,191.54 L539.79,191.51 L540.39,191.35 L540.99,191.4 L541.59,191.54 L542.19,191.6 L542.79,191.48 L543.39,191.47 L543.99,191.5 L544.59,191.49 L545.19,191.51 L545.79,191.44 L546.39,191.43 L546.99,191.59 L547.59,191.54 L548.19,191.58 L548.79,191.51 L549.39,191.51 L549.99,191.42 L550.59,191.31 L551.19,191.32 L551.79,191.37 L552.39,191.42 L552.99,191.57 L553.59,191.46 L554.19,191.56 L554.79,191.56 L555.39,191.5 L555.99,191.56 L556.59,191.42 L557.19,191.44 L557.79,191.32 L558.39,191.55 L558.99,191.53 L559.59,191.56 L560.19,191.5 L560.79,191.45 L561.39,191.44 L561.99,191.33 L562.59,191.43 L563.19,191.5 L563.79,191.42 L564.39,191.44 L564.99,191.53 L565.59,191.39 L566.19,191.52 L566.79,191.63 L567.39,191.55 L567.99,191.4 L568.59,191.34 L569.19,191.32 L569.79,191.37 L570.39,191.43 L570.99,191.52 L571.59,191.61 L572.19,191.57 L572.79,191.43 L573.39,191.44 L573.99,191.32 L574.59,191.32 L575.19,191.39 L575.79,191.42 L576.39,191.48 L576.99,191.36 L577.59,191.33 L578.19,191.51 L578.79,191.38 L579.39,191.38 L579.99,191.48 L580.59,191.41 L581.19,191.48 L581.79,191.43 L582.39,191.46 L582.99,191.44 L583.59,191.34 L584.19,191.3 L584.79,191.4 L585.39,191.48 L585.99,191.42 L586.51,192 L430.59,192 Z" fill="#ebd0f5" stroke="none" stroke-width="1"/>
<path d="M430.59,191.56 L431.19,191.59 L431.79,191.62 L432.39,191.5 L432.99,191.62 L433.59,191.67 L434.19,191.58 L434.79,191.39 L435.39,191.36 L435.99,191.37 L436.59,191.36 L437.19,191.52 L437.79,191.5 L438.39,191.64 L438.99,191.56 L439.59,191.67 L440.19,191.7 L440.79,191.71 L441.39,191.65 L441.99,191.58 L442.59,191.62 L443.19,191.68 L443.79,191.7 L444.39,191.46 L444.99,191.33 L445.59,191.29 L446.19,191.5 L446.79,191.58 L447.39,191.42 L447.99,191.6 L448.59,191.65 L449.19,191.53 L449.79,191.37 L450.39,191.3 L450.99,191.29 L451.59,191.45 L452.19,191.4 L452.79,191.31 L453.39,191.28 L453.99,191.24 L454.59,191.29 L455.19,191.3 L455.79,191.33 L456.39,191.43 L456.99,191.44 L457.59,191.33 L458.19,191.39 L458.79,191.58 L459.39,191.55 L459.99,191.41 L460.59,191.38 L461.19,191.44 L461.79,191.33 L462.39,191.33 L462.99,191.49 L463.59,191.43 L464.19,191.34 L464.79,191.56 L465.39,191.39 L465.99,191.46 L466.59,191.36 L467.19,191.57 L467.79,191.58 L468.39,191.59 L468.99,191.62 L469.59,191.5 L470.19,191.4 L470.79,191.39 L471.39,191.31 L471.99,191.51 L472.59,191.55 L473.19,191.54 L473.79,191.42 L474.39,191.37 L474.99,191.27 L475.59,191.26 L476.19,191.35 L476.79,191.34 L477.39,191.3 L477.99,191.38 L478.59,191.37 L479.19,191.31 L479.79,191.28 L480.39,191.47 L480.99,191.6 L481.59,191.46 L482.19,191.36 L482.79,191.5 L483.39,191.37 L483.99,191.33 L484.59,191.48 L485.19,191.56 L485.79,191.45 L486.39,191.4 L486.99,191.51 L487.59,191.34 L488.19,191.46 L488.79,191.34 L489.39,191.24 L489.99,191.43 L490.59,191.35 L491.19,191.35 L491.79,191.24 L492.39,191.32 L492.99,191.36 L493.59,191.43 L494.19,191.28 L494.79,191.35 L495.39,191.21 L495.99,191.39 L496.59,191.21 L497.19,191.37 L497.79,191.23 L498.39,191.08 L498.99,191.17 L499.59,191.12 L500.19,191.13 L500.79,191.22 L501.39,191.01 L501.99,190.97 L502.59,190.84 L503.19,190.96 L503.79,190.96 L504.39,190.9 L504.99,190.66 L505.59,190.75 L506.19,190.77 L506.79,190.66 L507.39,190.61 L507.99,190.45 L508.59,190.39 L509.19,190.58 L509.79,190.55 L510.39,190.69 L510.99,190.67 L511.59,190.73 L512.19,190.97 L512.79,190.99 L513.39,191.04 L513.99,191.08 L514.59,191.09 L515.19,191.07 L515.79,191.16 L516.39,191.19 L516.99,191.12 L517.59,191.14 L518.19,191.31 L518.79,191.42 L519.39,191.44 L519.99,191.25 L520.59,191.33 L521.19,191.23 L521.79,191.16 L522.39,191.21 L522.99,191.34 L523.59,191.29 L524.19,191.34 L524.79,191.24 L525.39,191.32 L525.99,191.33 L526.59,191.32 L527.19,191.33 L527.79,191.48 L528.39,191.43 L528.99,191.46 L529.59,191.39 L530.19,191.33 L530.79,191.48 L531.39,191.5 L531.99,191.55 L532.59,191.36 L533.19,191.41 L533.79,191.45 L534.39,191.31 L534.99,191.3 L535.59,191.27 L536.19,191.37 L536.79,191.53 L537.39,191.53 L537.99,191.63 L538.59,191.58 L539.19,191.54 L539.79,191.51 L540.39,191.35 L540.99,191.4 L541.59,191.54 L542.19,191.6 L542.79,191.48 L543.39,191.47 L543.99,191.5 L544.59,191.49 L545.19,191.51 L545.79,191.44 L546.39,191.43 L546.99,191.59 L547.59,191.54 L548.19,191.58 L548.79,191.51 L549.39,191.51 L549.99,191.42 L550.59,191.31 L551.19,191.32 L551.79,191.37 L552.39,191.42 L552.99,191.57 L553.59,191.46 L554.19,191.56 L554.79,191.56 L555.39,191.5 L555.99,191.56 L556.59,191.42 L557.19,191.44 L557.79,191.32 L558.39,191.55 L558.99,191.53 L559.59,191.56 L560.19,191.5 L560.79,191.45 L561.39,191.44 L561.99,191.33 L562.59,191.43 L563.19,191.5 L563.79,191.42 L564.39,191.44 L564.99,191.53 L565.59,191.39 L566.19,191.52 L566.79,191.63 L567.39,191.55 L567.99,191.4 L568.59,191.34 L569.19,191.32 L569.79,191.37 L570.39,191.43 L570.99,191.52 L571.59,191.61 L572.19,191.57 L572.79,191.43 L573.39,191.44 L573.99,191.32 L574.59,191.32 L575.19,191.39 L575.79,191.42 L576.39,191.48 L576.99,191.36 L577.59,191.33 L578.19,191.51 L578.79,191.38 L579.39,191.38 L579.99,191.48 L580.59,191.41 L581.19,191.48 L581.79,191.43 L582.39,191.46 L582.99,191.44 L583.59,191.34 L584.19,191.3 L584.79,191.4 L585.39,191.48 L585.99,191.42" fill="none" stroke="#d090e8" stroke-width="0.85" stroke-linejoin="round"/>
<line x1="426.6" y1="118.6" x2="426.6" y2="197.5" stroke="#231f20" stroke-width="1"/>
<line x1="426.6" y1="118.6" x2="519.5" y2="17.5" stroke="#333" stroke-width="1"/>
<line x1="519.5" y1="17.5" x2="647.8" y2="17.5" stroke="#6e6e6e" stroke-width="0.9"/>
<line x1="647.8" y1="17.5" x2="647.8" y2="79" stroke="#6e6e6e" stroke-width="0.9"/>
<line x1="426.3" y1="197" x2="583.8" y2="197" stroke="#231f20" stroke-width="1"/>
<line x1="583.8" y1="197" x2="647.8" y2="78.8" stroke="#231f20" stroke-width="1"/>
<line x1="471.66" y1="197" x2="471.66" y2="193.8" stroke="#231f20" stroke-width="0.9"/>
<line x1="516.51" y1="197" x2="516.51" y2="194.4" stroke="#231f20" stroke-width="0.9"/>
<line x1="561.37" y1="197" x2="561.37" y2="193.8" stroke="#231f20" stroke-width="0.9"/>
<line x1="584.83" y1="195.09" x2="583.23" y2="195.09" stroke="#231f20" stroke-width="0.8"/>
<line x1="586.68" y1="191.68" x2="585.08" y2="191.68" stroke="#231f20" stroke-width="0.8"/>
<line x1="588.28" y1="188.73" x2="586.68" y2="188.73" stroke="#231f20" stroke-width="0.8"/>
<line x1="589.7" y1="186.13" x2="588.1" y2="186.13" stroke="#231f20" stroke-width="0.8"/>
<line x1="590.96" y1="183.8" x2="587.96" y2="183.8" stroke="#231f20" stroke-width="0.8"/>
<line x1="599.27" y1="168.48" x2="597.67" y2="168.48" stroke="#231f20" stroke-width="0.8"/>
<line x1="604.13" y1="159.51" x2="602.53" y2="159.51" stroke="#231f20" stroke-width="0.8"/>
<line x1="607.58" y1="153.16" x2="605.98" y2="153.16" stroke="#231f20" stroke-width="0.8"/>
<line x1="610.26" y1="148.22" x2="608.66" y2="148.22" stroke="#231f20" stroke-width="0.8"/>
<line x1="612.44" y1="144.19" x2="610.84" y2="144.19" stroke="#231f20" stroke-width="0.8"/>
<line x1="614.29" y1="140.78" x2="612.69" y2="140.78" stroke="#231f20" stroke-width="0.8"/>
<line x1="615.89" y1="137.83" x2="614.29" y2="137.83" stroke="#231f20" stroke-width="0.8"/>
<line x1="617.3" y1="135.23" x2="615.7" y2="135.23" stroke="#231f20" stroke-width="0.8"/>
<line x1="618.57" y1="132.9" x2="615.57" y2="132.9" stroke="#231f20" stroke-width="0.8"/>
<line x1="626.53" y1="118.21" x2="624.93" y2="118.21" stroke="#231f20" stroke-width="0.8"/>
<line x1="631.19" y1="109.62" x2="629.59" y2="109.62" stroke="#231f20" stroke-width="0.8"/>
<line x1="634.5" y1="103.52" x2="632.9" y2="103.52" stroke="#231f20" stroke-width="0.8"/>
<line x1="637.07" y1="98.79" x2="635.47" y2="98.79" stroke="#231f20" stroke-width="0.8"/>
<line x1="639.16" y1="94.93" x2="637.56" y2="94.93" stroke="#231f20" stroke-width="0.8"/>
<line x1="640.93" y1="91.66" x2="639.33" y2="91.66" stroke="#231f20" stroke-width="0.8"/>
<line x1="642.47" y1="88.83" x2="640.87" y2="88.83" stroke="#231f20" stroke-width="0.8"/>
<line x1="643.82" y1="86.33" x2="642.22" y2="86.33" stroke="#231f20" stroke-width="0.8"/>
<text x="597.5" y="188.6" font-size="13.8" text-anchor="start" fill="#231f20">1</text>
<text x="623.6" y="137.8" font-size="13.8" text-anchor="start" fill="#231f20">10</text>
<text x="649.8" y="88.9" font-size="13.8" text-anchor="start" fill="#231f20">100</text>
<text x="470.5" y="212.3" font-size="13.8" text-anchor="middle" fill="#231f20">640</text>
<text x="560.1" y="212.7" font-size="13.8" text-anchor="middle" fill="#231f20">642</text>
<text x="503.6" y="228.4" font-size="13.9" text-anchor="middle" fill="#231f20">Wavelength (nm)</text>
<text x="0" y="0" font-size="14" text-anchor="middle" fill="#231f20" transform="translate(419.7,153.7) rotate(-90)">PL intensity (arb. units)</text>
<text x="0" y="0" font-size="13.4" text-anchor="start" fill="#231f20" transform="translate(620.5,214) rotate(-62.4)">Power density (W cm<tspan font-size="8.5" dy="-5">-2</tspan><tspan dy="5">)</tspan></text>
<text x="0.5" y="253.6" font-size="18.5" text-anchor="start" fill="#000" font-weight="bold" stroke="#000" stroke-width="0.3">d</text>
<g clip-path="url(#cd)">
<path d="M35,420.6 L75,396.1 L80.8,392.2 L84.7,389.3 L94.3,380.6 L104,371.5 L181,300 L227.4,257.4 L251.4,257.4 L251.4,258.4 L125,372.9 L88,406.5 L75,414 L47.5,431.1 L35.9,431.1 Z" fill="url(#gd)" stroke="none" stroke-width="1"/>
</g>
<rect x="36.5" y="257.4" width="214.9" height="173.6" fill="none" stroke="#231f20" stroke-width="1"/>
<line x1="36.5" y1="406.2" x2="40" y2="406.2" stroke="#231f20" stroke-width="1"/>
<line x1="36.5" y1="381.4" x2="38.5" y2="381.4" stroke="#231f20" stroke-width="1"/>
<line x1="36.5" y1="356.6" x2="40" y2="356.6" stroke="#231f20" stroke-width="1"/>
<line x1="36.5" y1="331.8" x2="38.5" y2="331.8" stroke="#231f20" stroke-width="1"/>
<line x1="36.5" y1="307" x2="40" y2="307" stroke="#231f20" stroke-width="1"/>
<line x1="36.5" y1="282.2" x2="38.5" y2="282.2" stroke="#231f20" stroke-width="1"/>
<line x1="61.6" y1="431" x2="61.6" y2="427.5" stroke="#231f20" stroke-width="1"/>
<line x1="93.22" y1="431" x2="93.22" y2="429" stroke="#231f20" stroke-width="1"/>
<line x1="124.85" y1="431" x2="124.85" y2="427.5" stroke="#231f20" stroke-width="1"/>
<line x1="156.47" y1="431" x2="156.47" y2="429" stroke="#231f20" stroke-width="1"/>
<line x1="188.1" y1="431" x2="188.1" y2="427.5" stroke="#231f20" stroke-width="1"/>
<line x1="219.72" y1="431" x2="219.72" y2="429" stroke="#231f20" stroke-width="1"/>
<text x="33.3" y="411.1" font-size="13.8" text-anchor="end" fill="#231f20">10</text>
<text x="33.3" y="361.5" font-size="13.8" text-anchor="end" fill="#231f20">20</text>
<text x="33.3" y="311.9" font-size="13.8" text-anchor="end" fill="#231f20">30</text>
<text x="33.3" y="262.3" font-size="13.8" text-anchor="end" fill="#231f20">40</text>
<text x="61.6" y="444.6" font-size="13.8" text-anchor="middle" fill="#231f20">5</text>
<text x="124.85" y="444.6" font-size="13.8" text-anchor="middle" fill="#231f20">10</text>
<text x="188.1" y="444.6" font-size="13.8" text-anchor="middle" fill="#231f20">15</text>
<text x="251.35" y="444.6" font-size="13.8" text-anchor="middle" fill="#231f20">20</text>
<text x="0" y="0" font-size="14" text-anchor="middle" fill="#231f20" transform="translate(10.2,336.65) rotate(-90)">PL intensity (arb. units)</text>
<text x="151.7" y="459.1" font-size="13.9" text-anchor="middle" fill="#231f20">Power density (W cm<tspan font-size="8.5" dy="-5">-2</tspan><tspan dy="5">)</tspan></text>
<circle cx="39.4" cy="426" r="4.0" fill="#fff" stroke="#9d91e8" stroke-width="1.3"/>
<circle cx="50" cy="420.8" r="4.0" fill="#fff" stroke="#9d91e8" stroke-width="1.3"/>
<circle cx="65.4" cy="411.4" r="4.0" fill="#fff" stroke="#9d91e8" stroke-width="1.3"/>
<circle cx="79.6" cy="403.4" r="4.0" fill="#fff" stroke="#9d91e8" stroke-width="1.3"/>
<circle cx="106" cy="380" r="4.0" fill="#fff" stroke="#9d91e8" stroke-width="1.3"/>
<circle cx="133" cy="350.5" r="4.0" fill="#fff" stroke="#9d91e8" stroke-width="1.3"/>
<circle cx="168.8" cy="318" r="4.0" fill="#fff" stroke="#9d91e8" stroke-width="1.3"/>
<circle cx="212.4" cy="292.4" r="4.0" fill="#fff" stroke="#9d91e8" stroke-width="1.3"/>
<line x1="84.4" y1="342" x2="84.4" y2="371.5" stroke="#231f20" stroke-width="1.1"/>
<path d="M84.4,377.8 L81.4,369.8 L87.4,369.8 Z" fill="#231f20" stroke="none" stroke-width="1"/>
<text x="71.2" y="331" font-size="13.5" text-anchor="start" fill="#231f20">Kink</text>
<text x="263" y="254" font-size="18.5" text-anchor="start" fill="#000" font-weight="bold" stroke="#000" stroke-width="0.3">e</text>
<g clip-path="url(#ce)">
<path d="M307.6,396.2 L387,283 L381.6,316 L307.6,424 Z" fill="url(#ge1)" stroke="none" stroke-width="1"/>
<path d="M387,283 L418.4,390 L419.42,387 L420.86,382.72 L422.54,377.72 L424.32,372.56 L426.03,367.8 L427.5,364 L428.72,361.23 L429.82,359.04 L430.84,357.26 L431.85,355.7 L432.88,354.17 L434,352.5 L435.16,350.71 L436.3,348.95 L437.48,347.22 L438.73,345.54 L440.09,343.9 L441.6,342.3 L443.26,340.73 L445.03,339.18 L446.91,337.68 L448.9,336.23 L450.99,334.86 L453.2,333.6 L455.56,332.41 L458.08,331.29 L460.71,330.24 L463.39,329.3 L466.07,328.48 L468.7,327.8 L471.24,327.27 L473.72,326.87 L476.21,326.59 L478.74,326.43 L481.39,326.37 L484.2,326.4 L487.2,326.57 L490.34,326.89 L493.59,327.31 L496.91,327.78 L500.26,328.26 L503.6,328.7 L507.18,329.13 L511.08,329.61 L515.01,330.09 L518.67,330.54 L521.77,330.93 L524,331.2 L524,346.4 L522.19,346.05 L519.69,345.55 L516.72,344.96 L513.54,344.35 L510.38,343.78 L507.5,343.3 L504.86,342.89 L502.26,342.5 L499.69,342.15 L497.13,341.85 L494.57,341.63 L492,341.5 L489.42,341.45 L486.83,341.46 L484.25,341.54 L481.67,341.71 L479.08,341.99 L476.5,342.4 L473.87,342.91 L471.19,343.5 L468.51,344.19 L465.88,345.03 L463.36,346.02 L461,347.2 L458.78,348.62 L456.64,350.26 L454.61,352.07 L452.71,353.97 L450.97,355.9 L449.4,357.8 L448.06,359.69 L446.94,361.63 L445.98,363.59 L445.09,365.57 L444.22,367.55 L443.3,369.5 L442.34,371.37 L441.4,373.15 L440.47,374.93 L439.56,376.78 L438.63,378.78 L437.7,381 L436.77,383.3 L435.85,385.58 L434.93,388.01 L433.99,390.75 L433.01,393.96 L432,397.8 L430.85,402.83 L429.56,409.03 L428.24,415.7 L427,422.14 L425.95,427.64 L425.2,431.5 L415,431.5 L381.6,316 Z" fill="url(#ge2)" stroke="none" stroke-width="1"/>
</g>
<rect x="307.6" y="257.5" width="215.3" height="173.5" fill="none" stroke="#231f20" stroke-width="1"/>
<line x1="307.6" y1="265.9" x2="309.6" y2="265.9" stroke="#231f20" stroke-width="1"/>
<line x1="307.6" y1="274.1" x2="309.6" y2="274.1" stroke="#231f20" stroke-width="1"/>
<line x1="307.6" y1="282.2" x2="309.6" y2="282.2" stroke="#231f20" stroke-width="1"/>
<line x1="307.6" y1="290.8" x2="309.6" y2="290.8" stroke="#231f20" stroke-width="1"/>
<line x1="307.6" y1="300" x2="309.6" y2="300" stroke="#231f20" stroke-width="1"/>
<line x1="307.6" y1="309.2" x2="309.6" y2="309.2" stroke="#231f20" stroke-width="1"/>
<line x1="307.6" y1="318.4" x2="309.6" y2="318.4" stroke="#231f20" stroke-width="1"/>
<line x1="307.6" y1="327.6" x2="309.6" y2="327.6" stroke="#231f20" stroke-width="1"/>
<line x1="307.6" y1="337.1" x2="311.1" y2="337.1" stroke="#231f20" stroke-width="1"/>
<line x1="307.6" y1="347.1" x2="309.6" y2="347.1" stroke="#231f20" stroke-width="1"/>
<line x1="307.6" y1="357" x2="309.6" y2="357" stroke="#231f20" stroke-width="1"/>
<line x1="307.6" y1="366.5" x2="309.6" y2="366.5" stroke="#231f20" stroke-width="1"/>
<line x1="307.6" y1="376.8" x2="309.6" y2="376.8" stroke="#231f20" stroke-width="1"/>
<line x1="307.6" y1="387.4" x2="309.6" y2="387.4" stroke="#231f20" stroke-width="1"/>
<line x1="307.6" y1="397.9" x2="309.6" y2="397.9" stroke="#231f20" stroke-width="1"/>
<line x1="307.6" y1="408.5" x2="309.6" y2="408.5" stroke="#231f20" stroke-width="1"/>
<line x1="307.6" y1="419.8" x2="309.6" y2="419.8" stroke="#231f20" stroke-width="1"/>
<line x1="321.57" y1="431" x2="321.57" y2="429" stroke="#231f20" stroke-width="1"/>
<line x1="342.44" y1="431" x2="342.44" y2="429" stroke="#231f20" stroke-width="1"/>
<line x1="357.24" y1="431" x2="357.24" y2="429" stroke="#231f20" stroke-width="1"/>
<line x1="368.73" y1="431" x2="368.73" y2="429" stroke="#231f20" stroke-width="1"/>
<line x1="378.11" y1="431" x2="378.11" y2="429" stroke="#231f20" stroke-width="1"/>
<line x1="386.04" y1="431" x2="386.04" y2="429" stroke="#231f20" stroke-width="1"/>
<line x1="392.92" y1="431" x2="392.92" y2="429" stroke="#231f20" stroke-width="1"/>
<line x1="398.98" y1="431" x2="398.98" y2="429" stroke="#231f20" stroke-width="1"/>
<line x1="404.4" y1="431" x2="404.4" y2="427.5" stroke="#231f20" stroke-width="1"/>
<line x1="440.07" y1="431" x2="440.07" y2="429" stroke="#231f20" stroke-width="1"/>
<line x1="460.94" y1="431" x2="460.94" y2="429" stroke="#231f20" stroke-width="1"/>
<line x1="475.74" y1="431" x2="475.74" y2="429" stroke="#231f20" stroke-width="1"/>
<line x1="487.23" y1="431" x2="487.23" y2="429" stroke="#231f20" stroke-width="1"/>
<line x1="496.61" y1="431" x2="496.61" y2="429" stroke="#231f20" stroke-width="1"/>
<line x1="504.54" y1="431" x2="504.54" y2="429" stroke="#231f20" stroke-width="1"/>
<line x1="511.42" y1="431" x2="511.42" y2="429" stroke="#231f20" stroke-width="1"/>
<line x1="517.48" y1="431" x2="517.48" y2="429" stroke="#231f20" stroke-width="1"/>
<text x="278.9" y="260.9" font-size="13.8" text-anchor="start" fill="#231f20">0.35</text>
<text x="278.9" y="341.1" font-size="13.8" text-anchor="start" fill="#231f20">0.3</text>
<text x="278.9" y="437.3" font-size="13.8" text-anchor="start" fill="#231f20">0.25</text>
<text x="404.4" y="446.5" font-size="13.8" text-anchor="middle" fill="#231f20">10</text>
<text x="522.9" y="446.5" font-size="13.8" text-anchor="middle" fill="#231f20">100</text>
<text x="421.8" y="460.4" font-size="13.9" text-anchor="middle" fill="#231f20">Power density (W cm<tspan font-size="8.5" dy="-5">-2</tspan><tspan dy="5">)</tspan></text>
<text x="0" y="0" font-size="14" text-anchor="middle" fill="#231f20" transform="translate(273.6,351.2) rotate(-90)">Linewidth (nm)</text>
<line x1="311" y1="389" x2="311" y2="431" stroke="#a195ea" stroke-width="1.2"/>
<line x1="308.6" y1="389" x2="313.4" y2="389" stroke="#a195ea" stroke-width="1.2"/>
<line x1="323.4" y1="381" x2="323.4" y2="425.6" stroke="#a195ea" stroke-width="1.2"/>
<line x1="321" y1="381" x2="325.8" y2="381" stroke="#a195ea" stroke-width="1.2"/>
<line x1="321" y1="425.6" x2="325.8" y2="425.6" stroke="#a195ea" stroke-width="1.2"/>
<line x1="335" y1="359.6" x2="335" y2="393" stroke="#a195ea" stroke-width="1.2"/>
<line x1="332.6" y1="359.6" x2="337.4" y2="359.6" stroke="#a195ea" stroke-width="1.2"/>
<line x1="332.6" y1="393" x2="337.4" y2="393" stroke="#a195ea" stroke-width="1.2"/>
<line x1="347" y1="328.4" x2="347" y2="369.4" stroke="#a195ea" stroke-width="1.2"/>
<line x1="344.6" y1="328.4" x2="349.4" y2="328.4" stroke="#a195ea" stroke-width="1.2"/>
<line x1="344.6" y1="369.4" x2="349.4" y2="369.4" stroke="#a195ea" stroke-width="1.2"/>
<line x1="358.6" y1="314" x2="358.6" y2="379" stroke="#a195ea" stroke-width="1.2"/>
<line x1="356.2" y1="314" x2="361" y2="314" stroke="#a195ea" stroke-width="1.2"/>
<line x1="356.2" y1="379" x2="361" y2="379" stroke="#a195ea" stroke-width="1.2"/>
<line x1="372.4" y1="299.4" x2="372.4" y2="334.4" stroke="#a195ea" stroke-width="1.2"/>
<line x1="370" y1="299.4" x2="374.8" y2="299.4" stroke="#a195ea" stroke-width="1.2"/>
<line x1="370" y1="334.4" x2="374.8" y2="334.4" stroke="#a195ea" stroke-width="1.2"/>
<line x1="382" y1="284.6" x2="382" y2="314" stroke="#a195ea" stroke-width="1.2"/>
<line x1="379.6" y1="284.6" x2="384.4" y2="284.6" stroke="#a195ea" stroke-width="1.2"/>
<line x1="379.6" y1="314" x2="384.4" y2="314" stroke="#a195ea" stroke-width="1.2"/>
<line x1="396.5" y1="325.6" x2="396.5" y2="348.2" stroke="#a195ea" stroke-width="1.2"/>
<line x1="394.1" y1="325.6" x2="398.9" y2="325.6" stroke="#a195ea" stroke-width="1.2"/>
<line x1="394.1" y1="348.2" x2="398.9" y2="348.2" stroke="#a195ea" stroke-width="1.2"/>
<line x1="407.8" y1="374.7" x2="407.8" y2="401.6" stroke="#a195ea" stroke-width="1.2"/>
<line x1="405.4" y1="374.7" x2="410.2" y2="374.7" stroke="#a195ea" stroke-width="1.2"/>
<line x1="405.4" y1="401.6" x2="410.2" y2="401.6" stroke="#a195ea" stroke-width="1.2"/>
<line x1="420" y1="398.5" x2="420" y2="431" stroke="#a195ea" stroke-width="1.2"/>
<line x1="417.6" y1="398.5" x2="422.4" y2="398.5" stroke="#a195ea" stroke-width="1.2"/>
<line x1="431.8" y1="360.5" x2="431.8" y2="386.5" stroke="#a195ea" stroke-width="1.2"/>
<line x1="429.4" y1="360.5" x2="434.2" y2="360.5" stroke="#a195ea" stroke-width="1.2"/>
<line x1="429.4" y1="386.5" x2="434.2" y2="386.5" stroke="#a195ea" stroke-width="1.2"/>
<line x1="443.3" y1="328.3" x2="443.3" y2="359.1" stroke="#a195ea" stroke-width="1.2"/>
<line x1="440.9" y1="328.3" x2="445.7" y2="328.3" stroke="#a195ea" stroke-width="1.2"/>
<line x1="440.9" y1="359.1" x2="445.7" y2="359.1" stroke="#a195ea" stroke-width="1.2"/>
<line x1="454.7" y1="328.3" x2="454.7" y2="355.3" stroke="#a195ea" stroke-width="1.2"/>
<line x1="452.3" y1="328.3" x2="457.1" y2="328.3" stroke="#a195ea" stroke-width="1.2"/>
<line x1="452.3" y1="355.3" x2="457.1" y2="355.3" stroke="#a195ea" stroke-width="1.2"/>
<line x1="467.2" y1="336.1" x2="467.2" y2="357.4" stroke="#a195ea" stroke-width="1.2"/>
<line x1="464.8" y1="336.1" x2="469.6" y2="336.1" stroke="#a195ea" stroke-width="1.2"/>
<line x1="464.8" y1="357.4" x2="469.6" y2="357.4" stroke="#a195ea" stroke-width="1.2"/>
<line x1="479.8" y1="311.9" x2="479.8" y2="344.6" stroke="#a195ea" stroke-width="1.2"/>
<line x1="477.4" y1="311.9" x2="482.2" y2="311.9" stroke="#a195ea" stroke-width="1.2"/>
<line x1="477.4" y1="344.6" x2="482.2" y2="344.6" stroke="#a195ea" stroke-width="1.2"/>
<line x1="491" y1="351.8" x2="491" y2="378.8" stroke="#a195ea" stroke-width="1.2"/>
<line x1="488.6" y1="351.8" x2="493.4" y2="351.8" stroke="#a195ea" stroke-width="1.2"/>
<line x1="488.6" y1="378.8" x2="493.4" y2="378.8" stroke="#a195ea" stroke-width="1.2"/>
<line x1="501.5" y1="313.6" x2="501.5" y2="414.9" stroke="#a195ea" stroke-width="1.2"/>
<line x1="499.1" y1="313.6" x2="503.9" y2="313.6" stroke="#a195ea" stroke-width="1.2"/>
<line x1="499.1" y1="414.9" x2="503.9" y2="414.9" stroke="#a195ea" stroke-width="1.2"/>
<line x1="514.2" y1="337.4" x2="514.2" y2="356.8" stroke="#a195ea" stroke-width="1.2"/>
<line x1="511.8" y1="337.4" x2="516.6" y2="337.4" stroke="#a195ea" stroke-width="1.2"/>
<line x1="511.8" y1="356.8" x2="516.6" y2="356.8" stroke="#a195ea" stroke-width="1.2"/>
<circle cx="311" cy="415" r="4.0" fill="#fff" stroke="#9d91e8" stroke-width="1.3"/>
<circle cx="323.4" cy="402.6" r="4.0" fill="#fff" stroke="#9d91e8" stroke-width="1.3"/>
<circle cx="335" cy="376.4" r="4.0" fill="#fff" stroke="#9d91e8" stroke-width="1.3"/>
<circle cx="347" cy="348.6" r="4.0" fill="#fff" stroke="#9d91e8" stroke-width="1.3"/>
<circle cx="358.6" cy="345.6" r="4.0" fill="#fff" stroke="#9d91e8" stroke-width="1.3"/>
<circle cx="372.4" cy="316.6" r="4.0" fill="#fff" stroke="#9d91e8" stroke-width="1.3"/>
<circle cx="382" cy="298.6" r="4.0" fill="#fff" stroke="#9d91e8" stroke-width="1.3"/>
<circle cx="396.5" cy="336.7" r="4.0" fill="#fff" stroke="#9d91e8" stroke-width="1.3"/>
<circle cx="407.8" cy="388.1" r="4.0" fill="#fff" stroke="#9d91e8" stroke-width="1.3"/>
<circle cx="420" cy="414.3" r="4.0" fill="#fff" stroke="#9d91e8" stroke-width="1.3"/>
<circle cx="431.8" cy="373.2" r="4.0" fill="#fff" stroke="#9d91e8" stroke-width="1.3"/>
<circle cx="443.3" cy="343.6" r="4.0" fill="#fff" stroke="#9d91e8" stroke-width="1.3"/>
<circle cx="454.7" cy="341.3" r="4.0" fill="#fff" stroke="#9d91e8" stroke-width="1.3"/>
<circle cx="467.2" cy="346.6" r="4.0" fill="#fff" stroke="#9d91e8" stroke-width="1.3"/>
<circle cx="479.8" cy="328.3" r="4.0" fill="#fff" stroke="#9d91e8" stroke-width="1.3"/>
<circle cx="491" cy="365.1" r="4.0" fill="#fff" stroke="#9d91e8" stroke-width="1.3"/>
<circle cx="501.5" cy="361.8" r="4.0" fill="#fff" stroke="#9d91e8" stroke-width="1.3"/>
<circle cx="514.2" cy="347.1" r="4.0" fill="#fff" stroke="#9d91e8" stroke-width="1.3"/>
<g clip-path="url(#ce)">
<circle cx="522.9" cy="361.4" r="4.0" fill="#fff" stroke="#9d91e8" stroke-width="1.3"/>
</g>
<line x1="402" y1="293.4" x2="420.6" y2="357.4" stroke="#231f20" stroke-width="1.1"/>
<path d="M423.4,366.6 L417.6,359.8 L423.4,358.1 Z" fill="#231f20" stroke="none" stroke-width="1"/>
<text x="412.2" y="294.9" font-size="13.9" text-anchor="start" fill="#231f20">Narrowing</text>
<text x="543.6" y="253.8" font-size="18.5" text-anchor="start" fill="#000" font-weight="bold" stroke="#000" stroke-width="0.3">f</text>
<g clip-path="url(#cf1)">
<path d="M560,321.06 L560.5,321.01 L561,320.96 L561.5,320.9 L562,320.85 L562.5,320.79 L563,320.73 L563.5,320.67 L564,320.61 L564.5,320.55 L565,320.48 L565.5,320.42 L566,320.35 L566.5,320.27 L567,320.2 L567.5,320.12 L568,320.05 L568.5,319.97 L569,319.88 L569.5,319.8 L570,319.71 L570.5,319.62 L571,319.52 L571.5,319.42 L572,319.32 L572.5,319.22 L573,319.11 L573.5,319 L574,318.88 L574.5,318.76 L575,318.64 L575.5,318.51 L576,318.37 L576.5,318.23 L577,318.09 L577.5,317.94 L578,317.79 L578.5,317.63 L579,317.46 L579.5,317.28 L580,317.1 L580.5,316.92 L581,316.72 L581.5,316.52 L582,316.3 L582.5,316.08 L583,315.85 L583.5,315.61 L584,315.36 L584.5,315.1 L585,314.82 L585.5,314.54 L586,314.24 L586.5,313.92 L587,313.6 L587.5,313.25 L588,312.89 L588.5,312.52 L589,312.12 L589.5,311.71 L590,311.28 L590.5,310.82 L591,310.34 L591.5,309.84 L592,309.31 L592.5,308.75 L593,308.17 L593.5,307.55 L594,306.91 L594.5,306.23 L595,305.51 L595.5,304.76 L596,303.96 L596.5,303.13 L597,302.25 L597.5,301.32 L598,300.35 L598.5,299.33 L599,298.26 L599.5,297.13 L600,295.95 L600.5,294.71 L601,293.42 L601.5,292.07 L602,290.67 L602.5,289.21 L603,287.7 L603.5,286.15 L604,284.55 L604.5,282.92 L605,281.27 L605.5,279.6 L606,277.93 L606.5,276.28 L607,274.65 L607.5,273.07 L608,271.57 L608.5,270.15 L609,268.85 L609.5,267.69 L610,266.69 L610.5,265.87 L611,265.24 L611.5,264.82 L612,264.62 L612.5,264.64 L613,264.89 L613.5,265.35 L614,266.02 L614.5,266.88 L615,267.91 L615.5,269.1 L616,270.43 L616.5,271.86 L617,273.38 L617.5,274.97 L618,276.6 L618.5,278.27 L619,279.94 L619.5,281.6 L620,283.25 L620.5,284.88 L621,286.46 L621.5,288.01 L622,289.51 L622.5,290.95 L623,292.34 L623.5,293.68 L624,294.96 L624.5,296.19 L625,297.36 L625.5,298.47 L626,299.54 L626.5,300.55 L627,301.51 L627.5,302.43 L628,303.3 L628.5,304.13 L629,304.91 L629.5,305.66 L630,306.37 L630.5,307.04 L631,307.68 L631.5,308.29 L632,308.87 L632.5,309.42 L633,309.94 L633.5,310.44 L634,310.91 L634.5,311.36 L635,311.79 L635.5,312.2 L636,312.59 L636.5,312.97 L637,313.32 L637.5,313.66 L638,313.99 L638.5,314.3 L639,314.59 L639.5,314.88 L640,315.15 L640.5,315.41 L641,315.66 L641.5,315.9 L642,316.13 L642.5,316.35 L643,316.56 L643.5,316.76 L644,316.95 L644.5,317.14 L645,317.32 L645.5,317.49 L646,317.66 L646.5,317.82 L647,317.97 L647.5,318.12 L648,318.26 L648.5,318.4 L649,318.53 L649.5,318.66 L650,318.78 L650.5,318.9 L651,319.02 L651.5,319.13 L652,319.24 L652.5,319.34 L653,319.44 L653.5,319.54 L654,319.63 L654.5,319.73 L655,319.81 L655.5,319.9 L656,319.98 L656.5,320.06 L657,320.14 L657.5,320.22 L658,320.29 L658.5,320.36 L659,320.43 L659.5,320.5 L660,320.56 L660.5,320.62 L661,320.69 L661.5,320.74 L662,320.8 L662.5,320.86 L663,320.91 L663.5,320.97 L664,321.02 L664.5,321.07 L665,321.12 L665.5,321.17 L666,321.21 L666.5,321.26 L667,321.3 L667.5,321.35 L668,321.39 L668.5,321.43 L669,321.47 L669.5,321.51 L670,321.55" fill="none" stroke="#b0cdf6" stroke-width="3.8" stroke-opacity="0.9" stroke-linejoin="round"/>
<circle cx="562.8" cy="321.2" r="2.55" fill="#ffffff" stroke="#7aacf0" stroke-width="1.0" fill-opacity="0.5"/>
<circle cx="565.89" cy="321.42" r="2.55" fill="#ffffff" stroke="#7aacf0" stroke-width="1.0" fill-opacity="0.5"/>
<circle cx="569.22" cy="320.71" r="2.55" fill="#ffffff" stroke="#7aacf0" stroke-width="1.0" fill-opacity="0.5"/>
<circle cx="572.53" cy="317.52" r="2.55" fill="#ffffff" stroke="#7aacf0" stroke-width="1.0" fill-opacity="0.5"/>
<circle cx="575.29" cy="320.16" r="2.55" fill="#ffffff" stroke="#7aacf0" stroke-width="1.0" fill-opacity="0.5"/>
<circle cx="578.27" cy="319.14" r="2.55" fill="#ffffff" stroke="#7aacf0" stroke-width="1.0" fill-opacity="0.5"/>
<circle cx="580.6" cy="316.76" r="2.55" fill="#ffffff" stroke="#7aacf0" stroke-width="1.0" fill-opacity="0.5"/>
<circle cx="583.1" cy="315.96" r="2.55" fill="#ffffff" stroke="#7aacf0" stroke-width="1.0" fill-opacity="0.5"/>
<circle cx="585.99" cy="312.49" r="2.55" fill="#ffffff" stroke="#7aacf0" stroke-width="1.0" fill-opacity="0.5"/>
<circle cx="588.45" cy="311.77" r="2.55" fill="#ffffff" stroke="#7aacf0" stroke-width="1.0" fill-opacity="0.5"/>
<circle cx="591.75" cy="310.54" r="2.55" fill="#ffffff" stroke="#7aacf0" stroke-width="1.0" fill-opacity="0.5"/>
<circle cx="594.14" cy="307.79" r="2.55" fill="#ffffff" stroke="#7aacf0" stroke-width="1.0" fill-opacity="0.5"/>
<circle cx="596.5" cy="303.54" r="2.55" fill="#ffffff" stroke="#7aacf0" stroke-width="1.0" fill-opacity="0.5"/>
<circle cx="598.86" cy="296.78" r="2.55" fill="#ffffff" stroke="#7aacf0" stroke-width="1.0" fill-opacity="0.5"/>
<circle cx="602.1" cy="289.33" r="2.55" fill="#ffffff" stroke="#7aacf0" stroke-width="1.0" fill-opacity="0.5"/>
<circle cx="604.56" cy="284.46" r="2.55" fill="#ffffff" stroke="#7aacf0" stroke-width="1.0" fill-opacity="0.5"/>
<circle cx="607.81" cy="271.38" r="2.55" fill="#ffffff" stroke="#7aacf0" stroke-width="1.0" fill-opacity="0.5"/>
<circle cx="611.16" cy="265.22" r="2.55" fill="#ffffff" stroke="#7aacf0" stroke-width="1.0" fill-opacity="0.5"/>
<circle cx="614.17" cy="265.23" r="2.55" fill="#ffffff" stroke="#7aacf0" stroke-width="1.0" fill-opacity="0.5"/>
<circle cx="617.5" cy="275.67" r="2.55" fill="#ffffff" stroke="#7aacf0" stroke-width="1.0" fill-opacity="0.5"/>
<circle cx="620.86" cy="287.45" r="2.55" fill="#ffffff" stroke="#7aacf0" stroke-width="1.0" fill-opacity="0.5"/>
<circle cx="623.42" cy="292.97" r="2.55" fill="#ffffff" stroke="#7aacf0" stroke-width="1.0" fill-opacity="0.5"/>
<circle cx="625.82" cy="297.89" r="2.55" fill="#ffffff" stroke="#7aacf0" stroke-width="1.0" fill-opacity="0.5"/>
<circle cx="628.1" cy="302.75" r="2.55" fill="#ffffff" stroke="#7aacf0" stroke-width="1.0" fill-opacity="0.5"/>
<circle cx="631.02" cy="305.92" r="2.55" fill="#ffffff" stroke="#7aacf0" stroke-width="1.0" fill-opacity="0.5"/>
<circle cx="634.04" cy="310.36" r="2.55" fill="#ffffff" stroke="#7aacf0" stroke-width="1.0" fill-opacity="0.5"/>
<circle cx="636.61" cy="314.19" r="2.55" fill="#ffffff" stroke="#7aacf0" stroke-width="1.0" fill-opacity="0.5"/>
<circle cx="639.38" cy="314.15" r="2.55" fill="#ffffff" stroke="#7aacf0" stroke-width="1.0" fill-opacity="0.5"/>
<circle cx="642.16" cy="316.94" r="2.55" fill="#ffffff" stroke="#7aacf0" stroke-width="1.0" fill-opacity="0.5"/>
<circle cx="644.43" cy="318.82" r="2.55" fill="#ffffff" stroke="#7aacf0" stroke-width="1.0" fill-opacity="0.5"/>
<circle cx="646.66" cy="318.77" r="2.55" fill="#ffffff" stroke="#7aacf0" stroke-width="1.0" fill-opacity="0.5"/>
<circle cx="649.87" cy="317.02" r="2.55" fill="#ffffff" stroke="#7aacf0" stroke-width="1.0" fill-opacity="0.5"/>
<circle cx="653.02" cy="318.96" r="2.55" fill="#ffffff" stroke="#7aacf0" stroke-width="1.0" fill-opacity="0.5"/>
<circle cx="655.91" cy="318.2" r="2.55" fill="#ffffff" stroke="#7aacf0" stroke-width="1.0" fill-opacity="0.5"/>
<circle cx="658.17" cy="319.16" r="2.55" fill="#ffffff" stroke="#7aacf0" stroke-width="1.0" fill-opacity="0.5"/>
<circle cx="661.51" cy="319.65" r="2.55" fill="#ffffff" stroke="#7aacf0" stroke-width="1.0" fill-opacity="0.5"/>
<circle cx="664.62" cy="322.63" r="2.55" fill="#ffffff" stroke="#7aacf0" stroke-width="1.0" fill-opacity="0.5"/>
</g>
<g clip-path="url(#cf2)">
<path d="M560,414.12 L560.5,414.09 L561,414.05 L561.5,414.01 L562,413.97 L562.5,413.93 L563,413.89 L563.5,413.85 L564,413.8 L564.5,413.76 L565,413.71 L565.5,413.66 L566,413.61 L566.5,413.56 L567,413.51 L567.5,413.45 L568,413.4 L568.5,413.34 L569,413.28 L569.5,413.22 L570,413.15 L570.5,413.09 L571,413.02 L571.5,412.94 L572,412.87 L572.5,412.79 L573,412.71 L573.5,412.63 L574,412.55 L574.5,412.46 L575,412.36 L575.5,412.27 L576,412.17 L576.5,412.07 L577,411.96 L577.5,411.85 L578,411.73 L578.5,411.61 L579,411.48 L579.5,411.35 L580,411.21 L580.5,411.07 L581,410.92 L581.5,410.76 L582,410.59 L582.5,410.42 L583,410.24 L583.5,410.05 L584,409.86 L584.5,409.65 L585,409.43 L585.5,409.2 L586,408.96 L586.5,408.71 L587,408.44 L587.5,408.16 L588,407.87 L588.5,407.56 L589,407.23 L589.5,406.88 L590,406.52 L590.5,406.13 L591,405.72 L591.5,405.29 L592,404.82 L592.5,404.34 L593,403.82 L593.5,403.27 L594,402.68 L594.5,402.06 L595,401.4 L595.5,400.69 L596,399.94 L596.5,399.13 L597,398.28 L597.5,397.36 L598,396.38 L598.5,395.34 L599,394.23 L599.5,393.04 L600,391.77 L600.5,390.42 L601,388.98 L601.5,387.45 L602,385.82 L602.5,384.1 L603,382.28 L603.5,380.36 L604,378.35 L604.5,376.26 L605,374.09 L605.5,371.87 L606,369.6 L606.5,367.33 L607,365.07 L607.5,362.88 L608,360.78 L608.5,358.84 L609,357.09 L609.5,355.59 L610,354.39 L610.5,353.52 L611,353.02 L611.5,352.91 L612,353.18 L612.5,353.83 L613,354.83 L613.5,356.16 L614,357.76 L614.5,359.59 L615,361.6 L615.5,363.74 L616,365.97 L616.5,368.24 L617,370.51 L617.5,372.76 L618,374.97 L618.5,377.11 L619,379.17 L619.5,381.14 L620,383.02 L620.5,384.8 L621,386.48 L621.5,388.07 L622,389.57 L622.5,390.97 L623,392.29 L623.5,393.52 L624,394.68 L624.5,395.77 L625,396.78 L625.5,397.73 L626,398.62 L626.5,399.46 L627,400.24 L627.5,400.98 L628,401.67 L628.5,402.31 L629,402.92 L629.5,403.49 L630,404.03 L630.5,404.54 L631,405.01 L631.5,405.46 L632,405.89 L632.5,406.29 L633,406.67 L633.5,407.02 L634,407.36 L634.5,407.68 L635,407.99 L635.5,408.28 L636,408.55 L636.5,408.81 L637,409.06 L637.5,409.29 L638,409.52 L638.5,409.73 L639,409.94 L639.5,410.13 L640,410.31 L640.5,410.49 L641,410.66 L641.5,410.82 L642,410.98 L642.5,411.12 L643,411.27 L643.5,411.4 L644,411.53 L644.5,411.66 L645,411.78 L645.5,411.89 L646,412 L646.5,412.11 L647,412.21 L647.5,412.31 L648,412.4 L648.5,412.49 L649,412.58 L649.5,412.67 L650,412.75 L650.5,412.83 L651,412.9 L651.5,412.97 L652,413.04 L652.5,413.11 L653,413.18 L653.5,413.24 L654,413.3 L654.5,413.36 L655,413.42 L655.5,413.48 L656,413.53 L656.5,413.58 L657,413.63 L657.5,413.68 L658,413.73 L658.5,413.78 L659,413.82 L659.5,413.87 L660,413.91 L660.5,413.95 L661,413.99 L661.5,414.03 L662,414.06 L662.5,414.1 L663,414.14 L663.5,414.17 L664,414.21 L664.5,414.24 L665,414.27 L665.5,414.3 L666,414.33 L666.5,414.36 L667,414.39 L667.5,414.42 L668,414.44 L668.5,414.47 L669,414.5 L669.5,414.52 L670,414.55" fill="none" stroke="#f7b6b6" stroke-width="3.8" stroke-opacity="0.9" stroke-linejoin="round"/>
<circle cx="562.8" cy="413.77" r="2.55" fill="#ffffff" stroke="#f08888" stroke-width="1.0" fill-opacity="0.5"/>
<circle cx="565.45" cy="412.37" r="2.55" fill="#ffffff" stroke="#f08888" stroke-width="1.0" fill-opacity="0.5"/>
<circle cx="568.69" cy="411.54" r="2.55" fill="#ffffff" stroke="#f08888" stroke-width="1.0" fill-opacity="0.5"/>
<circle cx="571.49" cy="414.38" r="2.55" fill="#ffffff" stroke="#f08888" stroke-width="1.0" fill-opacity="0.5"/>
<circle cx="573.79" cy="412.78" r="2.55" fill="#ffffff" stroke="#f08888" stroke-width="1.0" fill-opacity="0.5"/>
<circle cx="576.73" cy="410.36" r="2.55" fill="#ffffff" stroke="#f08888" stroke-width="1.0" fill-opacity="0.5"/>
<circle cx="579.38" cy="412.11" r="2.55" fill="#ffffff" stroke="#f08888" stroke-width="1.0" fill-opacity="0.5"/>
<circle cx="582.13" cy="411.36" r="2.55" fill="#ffffff" stroke="#f08888" stroke-width="1.0" fill-opacity="0.5"/>
<circle cx="584.51" cy="408.7" r="2.55" fill="#ffffff" stroke="#f08888" stroke-width="1.0" fill-opacity="0.5"/>
<circle cx="586.85" cy="408.55" r="2.55" fill="#ffffff" stroke="#f08888" stroke-width="1.0" fill-opacity="0.5"/>
<circle cx="590.16" cy="406.72" r="2.55" fill="#ffffff" stroke="#f08888" stroke-width="1.0" fill-opacity="0.5"/>
<circle cx="593.28" cy="403.09" r="2.55" fill="#ffffff" stroke="#f08888" stroke-width="1.0" fill-opacity="0.5"/>
<circle cx="596.38" cy="397.9" r="2.55" fill="#ffffff" stroke="#f08888" stroke-width="1.0" fill-opacity="0.5"/>
<circle cx="598.93" cy="395.02" r="2.55" fill="#ffffff" stroke="#f08888" stroke-width="1.0" fill-opacity="0.5"/>
<circle cx="602" cy="385.54" r="2.55" fill="#ffffff" stroke="#f08888" stroke-width="1.0" fill-opacity="0.5"/>
<circle cx="604.31" cy="376.24" r="2.55" fill="#ffffff" stroke="#f08888" stroke-width="1.0" fill-opacity="0.5"/>
<circle cx="606.76" cy="365.37" r="2.55" fill="#ffffff" stroke="#f08888" stroke-width="1.0" fill-opacity="0.5"/>
<circle cx="609.93" cy="353.46" r="2.55" fill="#ffffff" stroke="#f08888" stroke-width="1.0" fill-opacity="0.5"/>
<circle cx="613.19" cy="356.67" r="2.55" fill="#ffffff" stroke="#f08888" stroke-width="1.0" fill-opacity="0.5"/>
<circle cx="615.46" cy="363.13" r="2.55" fill="#ffffff" stroke="#f08888" stroke-width="1.0" fill-opacity="0.5"/>
<circle cx="618.25" cy="374.32" r="2.55" fill="#ffffff" stroke="#f08888" stroke-width="1.0" fill-opacity="0.5"/>
<circle cx="620.96" cy="387.81" r="2.55" fill="#ffffff" stroke="#f08888" stroke-width="1.0" fill-opacity="0.5"/>
<circle cx="623.29" cy="393.37" r="2.55" fill="#ffffff" stroke="#f08888" stroke-width="1.0" fill-opacity="0.5"/>
<circle cx="625.64" cy="398.27" r="2.55" fill="#ffffff" stroke="#f08888" stroke-width="1.0" fill-opacity="0.5"/>
<circle cx="628.91" cy="401.75" r="2.55" fill="#ffffff" stroke="#f08888" stroke-width="1.0" fill-opacity="0.5"/>
<circle cx="631.12" cy="403.63" r="2.55" fill="#ffffff" stroke="#f08888" stroke-width="1.0" fill-opacity="0.5"/>
<circle cx="633.97" cy="405.61" r="2.55" fill="#ffffff" stroke="#f08888" stroke-width="1.0" fill-opacity="0.5"/>
<circle cx="636.27" cy="408.68" r="2.55" fill="#ffffff" stroke="#f08888" stroke-width="1.0" fill-opacity="0.5"/>
<circle cx="639.58" cy="409.87" r="2.55" fill="#ffffff" stroke="#f08888" stroke-width="1.0" fill-opacity="0.5"/>
<circle cx="642.25" cy="411.55" r="2.55" fill="#ffffff" stroke="#f08888" stroke-width="1.0" fill-opacity="0.5"/>
<circle cx="644.57" cy="411.96" r="2.55" fill="#ffffff" stroke="#f08888" stroke-width="1.0" fill-opacity="0.5"/>
<circle cx="646.97" cy="412.6" r="2.55" fill="#ffffff" stroke="#f08888" stroke-width="1.0" fill-opacity="0.5"/>
<circle cx="650.32" cy="411.19" r="2.55" fill="#ffffff" stroke="#f08888" stroke-width="1.0" fill-opacity="0.5"/>
<circle cx="653.19" cy="413.59" r="2.55" fill="#ffffff" stroke="#f08888" stroke-width="1.0" fill-opacity="0.5"/>
<circle cx="655.57" cy="412.65" r="2.55" fill="#ffffff" stroke="#f08888" stroke-width="1.0" fill-opacity="0.5"/>
<circle cx="658.96" cy="415.61" r="2.55" fill="#ffffff" stroke="#f08888" stroke-width="1.0" fill-opacity="0.5"/>
<circle cx="661.31" cy="414.75" r="2.55" fill="#ffffff" stroke="#f08888" stroke-width="1.0" fill-opacity="0.5"/>
<circle cx="664.65" cy="413.3" r="2.55" fill="#ffffff" stroke="#f08888" stroke-width="1.0" fill-opacity="0.5"/>
</g>
<rect x="562" y="257.4" width="104.8" height="84.5" fill="none" stroke="#231f20" stroke-width="1"/>
<line x1="597" y1="341.9" x2="597" y2="340.1" stroke="#231f20" stroke-width="1"/>
<line x1="632" y1="341.9" x2="632" y2="339.1" stroke="#231f20" stroke-width="1"/>
<rect x="562" y="346.3" width="104.4" height="84.5" fill="none" stroke="#231f20" stroke-width="1"/>
<line x1="597" y1="430.8" x2="597" y2="429" stroke="#231f20" stroke-width="1"/>
<line x1="632" y1="430.8" x2="632" y2="428" stroke="#231f20" stroke-width="1"/>
<line x1="579" y1="292" x2="591" y2="292" stroke="#8ab4f0" stroke-width="1.2"/>
<path d="M595.5,292 L590,289.4 L590,294.6 Z" fill="#8ab4f0" stroke="none" stroke-width="1"/>
<line x1="643" y1="292" x2="630.5" y2="292" stroke="#8ab4f0" stroke-width="1.2"/>
<path d="M626,292 L631.5,289.4 L631.5,294.6 Z" fill="#8ab4f0" stroke="none" stroke-width="1"/>
<line x1="580.1" y1="385.7" x2="593.9" y2="385.7" stroke="#f39a9a" stroke-width="1.2"/>
<path d="M598.4,385.7 L592.9,383.1 L592.9,388.3 Z" fill="#f39a9a" stroke="none" stroke-width="1"/>
<line x1="641.4" y1="385.7" x2="627.6" y2="385.7" stroke="#f39a9a" stroke-width="1.2"/>
<path d="M623.1,385.7 L628.6,383.1 L628.6,388.3 Z" fill="#f39a9a" stroke="none" stroke-width="1"/>
<text x="664.4" y="268.7" font-size="10.3" text-anchor="end" fill="#231f20">6 W cm<tspan font-size="6.6" dy="-3.9">-2</tspan></text>
<text x="664.4" y="357.7" font-size="10.3" text-anchor="end" fill="#231f20">14 W cm<tspan font-size="6.6" dy="-3.9">-2</tspan></text>
<text x="614" y="337.2" font-size="11.3" text-anchor="middle" fill="#231f20">0.32 ± 0.01 nm</text>
<text x="614.2" y="425.6" font-size="11.3" text-anchor="middle" fill="#231f20">0.26 ± 0.01 nm</text>
<text x="561.4" y="447.5" font-size="13.8" text-anchor="middle" fill="#231f20">640</text>
<text x="631" y="447.5" font-size="13.8" text-anchor="middle" fill="#231f20">641</text>
<text x="616.8" y="461" font-size="13.9" text-anchor="middle" fill="#231f20">Wavelength (nm)</text>
</svg>
</body></html>
